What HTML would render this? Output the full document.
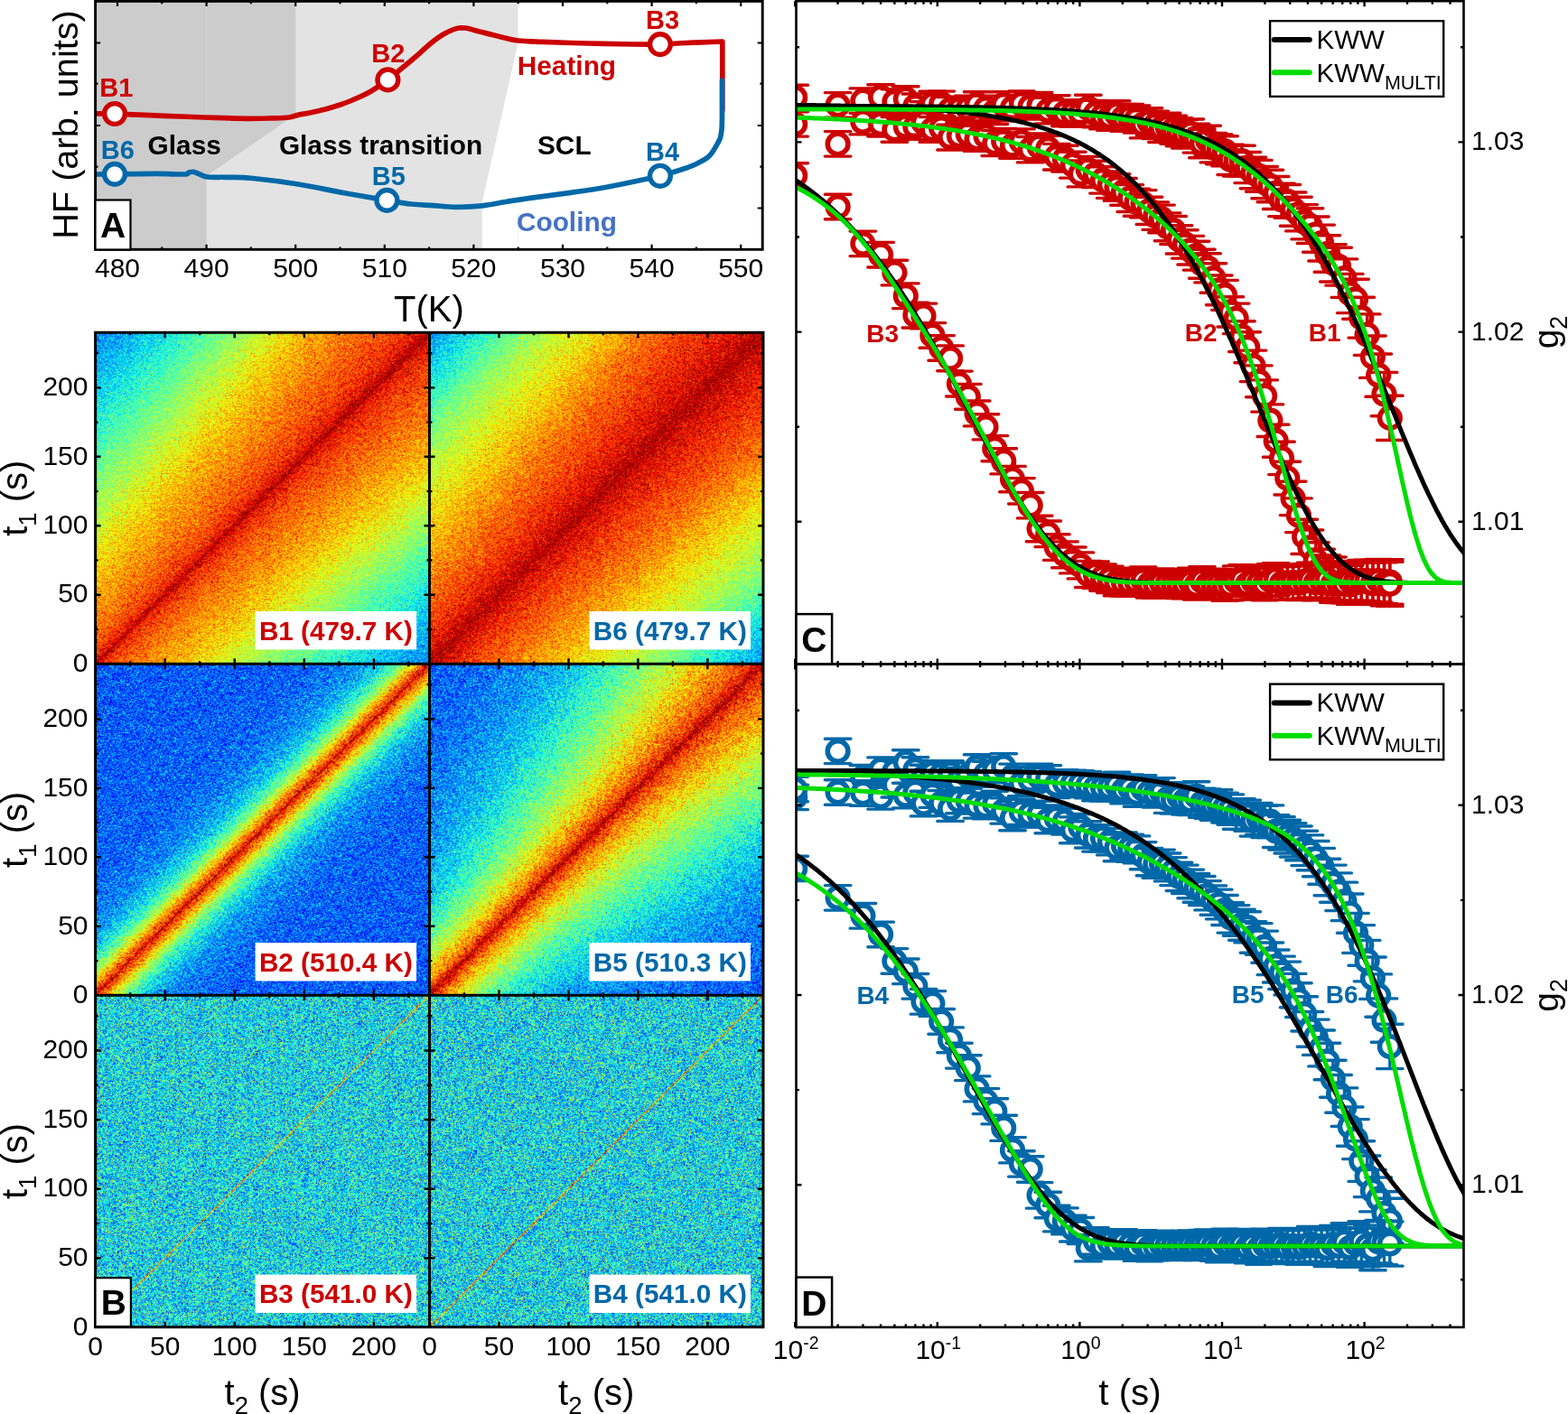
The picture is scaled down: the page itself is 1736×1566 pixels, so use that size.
<!DOCTYPE html><html><head><meta charset="utf-8"><title>Figure</title><style>html,body{margin:0;padding:0;background:#fff;width:1736px;height:1566px;overflow:hidden}svg{display:block}text{font-family:'Liberation Sans', Arial, Helvetica, sans-serif}</style></head><body>
<svg width="1736" height="1566" viewBox="0 0 1736 1566">
<rect width="1736" height="1566" fill="#fff"/>
<polygon points="105.6,0 573.6,0 573.6,47 533.8,224 533.8,276.3 105.6,276.3" fill="#e3e3e3"/>
<polygon points="105.6,0 327.2,0 327.2,127 228.6,194.7 228.6,276.3 105.6,276.3" fill="#cccccc"/>
<line x1="228.6" y1="0" x2="228.6" y2="128" stroke="#d3d3d3" stroke-width="1"/>
<line x1="573.6" y1="226" x2="573.6" y2="276" stroke="#f3f3f3" stroke-width="1"/>
<path d="M130,276.3 v-5.5 M130,1.4 v5.5 M179.3,276.3 v-2.8 M179.3,1.4 v2.8 M228.6,276.3 v-5.5 M228.6,1.4 v5.5 M277.9,276.3 v-2.8 M277.9,1.4 v2.8 M327.2,276.3 v-5.5 M327.2,1.4 v5.5 M376.5,276.3 v-2.8 M376.5,1.4 v2.8 M425.8,276.3 v-5.5 M425.8,1.4 v5.5 M475.1,276.3 v-2.8 M475.1,1.4 v2.8 M524.4,276.3 v-5.5 M524.4,1.4 v5.5 M573.7,276.3 v-2.8 M573.7,1.4 v2.8 M623,276.3 v-5.5 M623,1.4 v5.5 M672.3,276.3 v-2.8 M672.3,1.4 v2.8 M721.6,276.3 v-5.5 M721.6,1.4 v5.5 M770.9,276.3 v-2.8 M770.9,1.4 v2.8 M820.2,276.3 v-5.5 M820.2,1.4 v5.5 M105.6,47.5 h5.5 M844.2,47.5 h-5.5 M105.6,92.7 h2.8 M844.2,92.7 h-2.8 M105.6,139 h5.5 M844.2,139 h-5.5 M105.6,184.7 h2.8 M844.2,184.7 h-2.8 M105.6,230.5 h5.5 M844.2,230.5 h-5.5" stroke="#000" stroke-width="2.2" fill="none"/>
<clipPath id="clipA"><rect x="105.6" y="0" width="738.6" height="276.3"/></clipPath>
<g clip-path="url(#clipA)">
<path d="M105.6,125.8 C109.2,125.9 117.9,125.9 127,126.2 C136.1,126.5 147.8,126.9 160,127.4 C172.2,127.9 187.2,128.5 200,129 C212.8,129.5 224.7,130 237,130.4 C249.3,130.8 263.3,131.2 274,131.3 C284.7,131.4 293.3,131.1 301,130.9 C308.7,130.7 315.3,130.6 320,130 C324.7,129.4 324.8,128.5 329,127.6 C333.2,126.7 339.8,125.6 345,124.5 C350.2,123.4 355,122.3 360,121 C365,119.7 370,118.2 375,116.5 C380,114.8 384.2,113.5 390,111 C395.8,108.5 403.4,105.3 410,101.5 C416.6,97.7 423.6,92.7 429.4,88.4 C435.2,84.1 439.9,79.7 445,75.5 C450.1,71.3 455.8,66.6 460,63 C464.2,59.4 466.7,56.9 470,54 C473.3,51.1 476.7,48.1 480,45.5 C483.3,42.9 486.7,40.5 490,38.5 C493.3,36.5 497,34.8 500,33.5 C503,32.2 505.5,31.4 508,31 C510.5,30.6 512.7,30.8 515,31 C517.3,31.2 519.5,31.9 522,32.5 C524.5,33.1 526.2,33.8 530,34.8 C533.8,35.8 540.5,37.4 545,38.5 C549.5,39.6 552.2,40.4 557,41.5 C561.8,42.6 566.4,44.2 573.6,45 C580.8,45.8 587.3,45.9 600,46.4 C612.7,46.9 633.3,47.6 650,48 C666.7,48.4 686.5,48.8 700,49 C713.5,49.2 721,49.2 731,49 C741,48.8 748.5,48 760,47.5 C771.5,47 793.2,46.2 799.8,46 L799.8,122" stroke="#cc0000" stroke-width="5.7" fill="none" stroke-linejoin="round" stroke-linecap="round"/>
<path d="M105.6,193 C109.2,193 115.8,193 127,192.9 C138.2,192.8 160.2,192.4 173,192.4 C185.8,192.4 198,193.2 204,193 C210,192.8 207.3,191.4 209,191 C210.7,190.6 212.2,190.1 214,190.3 C215.8,190.6 217.4,191.6 220,192.5 C222.6,193.4 224.6,195.4 229.6,196 C234.6,196.6 241.6,196.1 250,196.3 C258.4,196.6 266.7,196.2 280,197.5 C293.3,198.8 313.3,201.3 330,204 C346.7,206.7 363.6,210.5 380,213.5 C396.4,216.5 415.9,219.8 428.4,221.9 C440.9,224 446.4,225.1 455,226 C463.6,226.9 471.7,227 480,227.6 C488.3,228.2 496,229.3 505,229.3 C514,229.3 524.8,228.8 534,227.8 C543.2,226.8 551.5,224.9 560,223.5 C568.5,222.1 573.3,221.2 585,219.6 C596.7,217.9 615.3,215.7 630,213.6 C644.7,211.5 658.5,209.6 673,207 C687.5,204.4 707.3,200 717,198 C726.7,196 723.8,196.8 731,194.8 C738.2,192.8 753.2,188.3 760,186 C766.8,183.7 768.1,182.9 772,181 C775.9,179.1 780.5,176.5 783.2,174.6 C785.9,172.7 786.5,171.4 788,169.5 C789.5,167.6 790.9,165.1 792.1,163 C793.4,160.9 794.5,159 795.5,157 C796.5,155 797.3,153.7 797.9,151 C798.5,148.3 798.9,146.2 799.2,141 C799.5,135.8 799.5,123.5 799.5,120 L799.5,89" stroke="#0068a8" stroke-width="5.7" fill="none" stroke-linejoin="round" stroke-linecap="round"/>
</g>
<circle cx="127" cy="126" r="11.4" fill="#fff" stroke="#cc0000" stroke-width="5.4"/>
<circle cx="429.4" cy="88.4" r="11.4" fill="#fff" stroke="#cc0000" stroke-width="5.4"/>
<circle cx="730.9" cy="49.1" r="11.4" fill="#fff" stroke="#cc0000" stroke-width="5.4"/>
<circle cx="127" cy="192.9" r="11.4" fill="#fff" stroke="#0068a8" stroke-width="5.4"/>
<circle cx="428.4" cy="221.9" r="11.4" fill="#fff" stroke="#0068a8" stroke-width="5.4"/>
<circle cx="730.9" cy="194.8" r="11.4" fill="#fff" stroke="#0068a8" stroke-width="5.4"/>
<text x="128.8" y="106.8" font-size="29" font-weight="bold" fill="#cc0000" text-anchor="middle">B1</text>
<text x="429.8" y="68.9" font-size="29" font-weight="bold" fill="#cc0000" text-anchor="middle">B2</text>
<text x="733.6" y="31.5" font-size="29" font-weight="bold" fill="#cc0000" text-anchor="middle">B3</text>
<text x="733.6" y="177.8" font-size="29" font-weight="bold" fill="#0068a8" text-anchor="middle">B4</text>
<text x="430.3" y="204.5" font-size="29" font-weight="bold" fill="#0068a8" text-anchor="middle">B5</text>
<text x="130.3" y="175.8" font-size="29" font-weight="bold" fill="#0068a8" text-anchor="middle">B6</text>
<text x="204.2" y="171" font-size="29.8" font-weight="bold" fill="#000" text-anchor="middle">Glass</text>
<text x="421.5" y="171.1" font-size="29.8" font-weight="bold" fill="#000" text-anchor="middle">Glass transition</text>
<text x="624.8" y="170.8" font-size="29.8" font-weight="bold" fill="#000" text-anchor="middle">SCL</text>
<text x="627.4" y="83" font-size="29.8" font-weight="bold" fill="#cc0000" text-anchor="middle">Heating</text>
<text x="627.4" y="255.8" font-size="29.8" font-weight="bold" fill="#4472c4" text-anchor="middle">Cooling</text>
<rect x="105.6" y="1.4" width="738.6" height="274.9" fill="none" stroke="#000" stroke-width="2.9"/>
<rect x="105.5" y="221.5" width="39" height="55" fill="#fff" stroke="#000" stroke-width="2.2"/>
<text x="125" y="263" font-size="39" font-weight="bold" text-anchor="middle">A</text>
<text x="130" y="306.8" font-size="30" fill="#000" text-anchor="middle">480</text>
<text x="228.6" y="306.8" font-size="30" fill="#000" text-anchor="middle">490</text>
<text x="327.2" y="306.8" font-size="30" fill="#000" text-anchor="middle">500</text>
<text x="425.8" y="306.8" font-size="30" fill="#000" text-anchor="middle">510</text>
<text x="524.4" y="306.8" font-size="30" fill="#000" text-anchor="middle">520</text>
<text x="623" y="306.8" font-size="30" fill="#000" text-anchor="middle">530</text>
<text x="721.6" y="306.8" font-size="30" fill="#000" text-anchor="middle">540</text>
<text x="820.2" y="306.8" font-size="30" fill="#000" text-anchor="middle">550</text>
<text x="474.9" y="355.8" font-size="40" fill="#000" text-anchor="middle">T(K)</text>
<text transform="translate(86,138) rotate(-90)" font-size="39.7" text-anchor="middle">HF (arb. units)</text>
<defs>
<filter id="jetB1" filterUnits="objectBoundingBox" x="0" y="0" width="1" height="1" color-interpolation-filters="sRGB">
<feTurbulence type="fractalNoise" baseFrequency="3.7" numOctaves="1" seed="3" result="n"/>
<feColorMatrix in="n" type="matrix" values="1 0 0 0 0 1 0 0 0 0 1 0 0 0 0 0 0 0 0 1" result="n0"/>
<feComponentTransfer in="n0" result="n1"><feFuncR type="table" tableValues="0.140 0.147 0.155 0.163 0.171 0.180 0.188 0.197 0.206 0.215 0.224 0.234 0.244 0.254 0.264 0.274 0.285 0.296 0.307 0.319 0.330 0.342 0.354 0.367 0.379 0.393 0.406 0.419 0.433 0.448 0.462 0.477 0.492 0.508 0.524 0.540 0.556 0.573 0.591 0.608 0.627 0.645 0.664 0.683 0.703 0.724 0.744 0.765 0.787 0.809 0.832 0.855 0.879 0.903 0.927 0.953 0.979 1.000 1.000 1.000 1.000 1.000 1.000 1.000 1.000"/><feFuncG type="table" tableValues="0.140 0.147 0.155 0.163 0.171 0.180 0.188 0.197 0.206 0.215 0.224 0.234 0.244 0.254 0.264 0.274 0.285 0.296 0.307 0.319 0.330 0.342 0.354 0.367 0.379 0.393 0.406 0.419 0.433 0.448 0.462 0.477 0.492 0.508 0.524 0.540 0.556 0.573 0.591 0.608 0.627 0.645 0.664 0.683 0.703 0.724 0.744 0.765 0.787 0.809 0.832 0.855 0.879 0.903 0.927 0.953 0.979 1.000 1.000 1.000 1.000 1.000 1.000 1.000 1.000"/><feFuncB type="table" tableValues="0.140 0.147 0.155 0.163 0.171 0.180 0.188 0.197 0.206 0.215 0.224 0.234 0.244 0.254 0.264 0.274 0.285 0.296 0.307 0.319 0.330 0.342 0.354 0.367 0.379 0.393 0.406 0.419 0.433 0.448 0.462 0.477 0.492 0.508 0.524 0.540 0.556 0.573 0.591 0.608 0.627 0.645 0.664 0.683 0.703 0.724 0.744 0.765 0.787 0.809 0.832 0.855 0.879 0.903 0.927 0.953 0.979 1.000 1.000 1.000 1.000 1.000 1.000 1.000 1.000"/></feComponentTransfer>
<feComposite in="SourceGraphic" in2="n1" operator="arithmetic" k1="0" k2="1" k3="0.6132" k4="-0.3066" result="v"/>
<feComponentTransfer in="v" result="c"><feFuncR type="table" tableValues="0.000 0.000 0.000 0.000 0.000 0.000 0.000 0.000 0.000 0.000 0.000 0.000 0.000 0.000 0.000 0.000 0.000 0.000 0.000 0.000 0.000 0.000 0.000 0.030 0.081 0.131 0.181 0.232 0.282 0.333 0.383 0.433 0.484 0.534 0.585 0.635 0.685 0.736 0.786 0.837 0.887 0.937 0.988 1.000 1.000 1.000 1.000 1.000 1.000 1.000 1.000 1.000 1.000 1.000 1.000 1.000 1.000 0.997 0.926 0.855 0.784 0.713 0.642 0.571 0.500"/><feFuncG type="table" tableValues="0.000 0.000 0.000 0.000 0.000 0.000 0.000 0.000 0.000 0.062 0.125 0.188 0.250 0.312 0.375 0.438 0.500 0.562 0.625 0.688 0.750 0.812 0.875 0.938 1.000 1.000 1.000 1.000 1.000 1.000 1.000 1.000 1.000 1.000 1.000 1.000 1.000 1.000 1.000 1.000 1.000 0.998 0.940 0.882 0.824 0.766 0.708 0.650 0.593 0.535 0.477 0.419 0.361 0.303 0.245 0.188 0.130 0.072 0.014 0.000 0.000 0.000 0.000 0.000 0.000"/><feFuncB type="table" tableValues="0.500 0.571 0.642 0.713 0.784 0.855 0.926 0.997 1.000 1.000 1.000 1.000 1.000 1.000 1.000 1.000 1.000 1.000 1.000 1.000 1.000 1.000 0.988 0.938 0.887 0.837 0.786 0.736 0.685 0.635 0.585 0.534 0.484 0.433 0.383 0.333 0.282 0.232 0.181 0.131 0.081 0.030 0.000 0.000 0.000 0.000 0.000 0.000 0.000 0.000 0.000 0.000 0.000 0.000 0.000 0.000 0.000 0.000 0.000 0.000 0.000 0.000 0.000 0.000 0.000"/><feFuncA type="linear" slope="0" intercept="1"/></feComponentTransfer>
<feConvolveMatrix in="c" order="3" kernelMatrix="1 2 1 2 16 2 1 2 1" divisor="28" edgeMode="duplicate" preserveAlpha="true"/>
</filter>
<filter id="jetB6" filterUnits="objectBoundingBox" x="0" y="0" width="1" height="1" color-interpolation-filters="sRGB">
<feTurbulence type="fractalNoise" baseFrequency="3.7" numOctaves="1" seed="4" result="n"/>
<feColorMatrix in="n" type="matrix" values="1 0 0 0 0 1 0 0 0 0 1 0 0 0 0 0 0 0 0 1" result="n0"/>
<feComponentTransfer in="n0" result="n1"><feFuncR type="table" tableValues="0.140 0.147 0.155 0.163 0.171 0.180 0.188 0.197 0.206 0.215 0.224 0.234 0.244 0.254 0.264 0.274 0.285 0.296 0.307 0.319 0.330 0.342 0.354 0.367 0.379 0.393 0.406 0.419 0.433 0.448 0.462 0.477 0.492 0.508 0.524 0.540 0.556 0.573 0.591 0.608 0.627 0.645 0.664 0.683 0.703 0.724 0.744 0.765 0.787 0.809 0.832 0.855 0.879 0.903 0.927 0.953 0.979 1.000 1.000 1.000 1.000 1.000 1.000 1.000 1.000"/><feFuncG type="table" tableValues="0.140 0.147 0.155 0.163 0.171 0.180 0.188 0.197 0.206 0.215 0.224 0.234 0.244 0.254 0.264 0.274 0.285 0.296 0.307 0.319 0.330 0.342 0.354 0.367 0.379 0.393 0.406 0.419 0.433 0.448 0.462 0.477 0.492 0.508 0.524 0.540 0.556 0.573 0.591 0.608 0.627 0.645 0.664 0.683 0.703 0.724 0.744 0.765 0.787 0.809 0.832 0.855 0.879 0.903 0.927 0.953 0.979 1.000 1.000 1.000 1.000 1.000 1.000 1.000 1.000"/><feFuncB type="table" tableValues="0.140 0.147 0.155 0.163 0.171 0.180 0.188 0.197 0.206 0.215 0.224 0.234 0.244 0.254 0.264 0.274 0.285 0.296 0.307 0.319 0.330 0.342 0.354 0.367 0.379 0.393 0.406 0.419 0.433 0.448 0.462 0.477 0.492 0.508 0.524 0.540 0.556 0.573 0.591 0.608 0.627 0.645 0.664 0.683 0.703 0.724 0.744 0.765 0.787 0.809 0.832 0.855 0.879 0.903 0.927 0.953 0.979 1.000 1.000 1.000 1.000 1.000 1.000 1.000 1.000"/></feComponentTransfer>
<feComposite in="SourceGraphic" in2="n1" operator="arithmetic" k1="0" k2="1" k3="0.6132" k4="-0.3066" result="v"/>
<feComponentTransfer in="v" result="c"><feFuncR type="table" tableValues="0.000 0.000 0.000 0.000 0.000 0.000 0.000 0.000 0.000 0.000 0.000 0.000 0.000 0.000 0.000 0.000 0.000 0.000 0.000 0.000 0.000 0.000 0.000 0.030 0.081 0.131 0.181 0.232 0.282 0.333 0.383 0.433 0.484 0.534 0.585 0.635 0.685 0.736 0.786 0.837 0.887 0.937 0.988 1.000 1.000 1.000 1.000 1.000 1.000 1.000 1.000 1.000 1.000 1.000 1.000 1.000 1.000 0.997 0.926 0.855 0.784 0.713 0.642 0.571 0.500"/><feFuncG type="table" tableValues="0.000 0.000 0.000 0.000 0.000 0.000 0.000 0.000 0.000 0.062 0.125 0.188 0.250 0.312 0.375 0.438 0.500 0.562 0.625 0.688 0.750 0.812 0.875 0.938 1.000 1.000 1.000 1.000 1.000 1.000 1.000 1.000 1.000 1.000 1.000 1.000 1.000 1.000 1.000 1.000 1.000 0.998 0.940 0.882 0.824 0.766 0.708 0.650 0.593 0.535 0.477 0.419 0.361 0.303 0.245 0.188 0.130 0.072 0.014 0.000 0.000 0.000 0.000 0.000 0.000"/><feFuncB type="table" tableValues="0.500 0.571 0.642 0.713 0.784 0.855 0.926 0.997 1.000 1.000 1.000 1.000 1.000 1.000 1.000 1.000 1.000 1.000 1.000 1.000 1.000 1.000 0.988 0.938 0.887 0.837 0.786 0.736 0.685 0.635 0.585 0.534 0.484 0.433 0.383 0.333 0.282 0.232 0.181 0.131 0.081 0.030 0.000 0.000 0.000 0.000 0.000 0.000 0.000 0.000 0.000 0.000 0.000 0.000 0.000 0.000 0.000 0.000 0.000 0.000 0.000 0.000 0.000 0.000 0.000"/><feFuncA type="linear" slope="0" intercept="1"/></feComponentTransfer>
<feConvolveMatrix in="c" order="3" kernelMatrix="1 2 1 2 16 2 1 2 1" divisor="28" edgeMode="duplicate" preserveAlpha="true"/>
</filter>
<filter id="jetB2" filterUnits="objectBoundingBox" x="0" y="0" width="1" height="1" color-interpolation-filters="sRGB">
<feTurbulence type="fractalNoise" baseFrequency="3.7" numOctaves="1" seed="5" result="n"/>
<feColorMatrix in="n" type="matrix" values="1 0 0 0 0 1 0 0 0 0 1 0 0 0 0 0 0 0 0 1" result="n0"/>
<feComponentTransfer in="n0" result="n1"><feFuncR type="table" tableValues="0.140 0.147 0.155 0.163 0.171 0.180 0.188 0.197 0.206 0.215 0.224 0.234 0.244 0.254 0.264 0.274 0.285 0.296 0.307 0.319 0.330 0.342 0.354 0.367 0.379 0.393 0.406 0.419 0.433 0.448 0.462 0.477 0.492 0.508 0.524 0.540 0.556 0.573 0.591 0.608 0.627 0.645 0.664 0.683 0.703 0.724 0.744 0.765 0.787 0.809 0.832 0.855 0.879 0.903 0.927 0.953 0.979 1.000 1.000 1.000 1.000 1.000 1.000 1.000 1.000"/><feFuncG type="table" tableValues="0.140 0.147 0.155 0.163 0.171 0.180 0.188 0.197 0.206 0.215 0.224 0.234 0.244 0.254 0.264 0.274 0.285 0.296 0.307 0.319 0.330 0.342 0.354 0.367 0.379 0.393 0.406 0.419 0.433 0.448 0.462 0.477 0.492 0.508 0.524 0.540 0.556 0.573 0.591 0.608 0.627 0.645 0.664 0.683 0.703 0.724 0.744 0.765 0.787 0.809 0.832 0.855 0.879 0.903 0.927 0.953 0.979 1.000 1.000 1.000 1.000 1.000 1.000 1.000 1.000"/><feFuncB type="table" tableValues="0.140 0.147 0.155 0.163 0.171 0.180 0.188 0.197 0.206 0.215 0.224 0.234 0.244 0.254 0.264 0.274 0.285 0.296 0.307 0.319 0.330 0.342 0.354 0.367 0.379 0.393 0.406 0.419 0.433 0.448 0.462 0.477 0.492 0.508 0.524 0.540 0.556 0.573 0.591 0.608 0.627 0.645 0.664 0.683 0.703 0.724 0.744 0.765 0.787 0.809 0.832 0.855 0.879 0.903 0.927 0.953 0.979 1.000 1.000 1.000 1.000 1.000 1.000 1.000 1.000"/></feComponentTransfer>
<feComposite in="SourceGraphic" in2="n1" operator="arithmetic" k1="0" k2="1" k3="0.7547" k4="-0.3774" result="v"/>
<feComponentTransfer in="v" result="c"><feFuncR type="table" tableValues="0.000 0.000 0.000 0.000 0.000 0.000 0.000 0.000 0.000 0.000 0.000 0.000 0.000 0.000 0.000 0.000 0.000 0.000 0.000 0.000 0.000 0.000 0.000 0.030 0.081 0.131 0.181 0.232 0.282 0.333 0.383 0.433 0.484 0.534 0.585 0.635 0.685 0.736 0.786 0.837 0.887 0.937 0.988 1.000 1.000 1.000 1.000 1.000 1.000 1.000 1.000 1.000 1.000 1.000 1.000 1.000 1.000 0.997 0.926 0.855 0.784 0.713 0.642 0.571 0.500"/><feFuncG type="table" tableValues="0.000 0.000 0.000 0.000 0.000 0.000 0.000 0.000 0.000 0.062 0.125 0.188 0.250 0.312 0.375 0.438 0.500 0.562 0.625 0.688 0.750 0.812 0.875 0.938 1.000 1.000 1.000 1.000 1.000 1.000 1.000 1.000 1.000 1.000 1.000 1.000 1.000 1.000 1.000 1.000 1.000 0.998 0.940 0.882 0.824 0.766 0.708 0.650 0.593 0.535 0.477 0.419 0.361 0.303 0.245 0.188 0.130 0.072 0.014 0.000 0.000 0.000 0.000 0.000 0.000"/><feFuncB type="table" tableValues="0.500 0.571 0.642 0.713 0.784 0.855 0.926 0.997 1.000 1.000 1.000 1.000 1.000 1.000 1.000 1.000 1.000 1.000 1.000 1.000 1.000 1.000 0.988 0.938 0.887 0.837 0.786 0.736 0.685 0.635 0.585 0.534 0.484 0.433 0.383 0.333 0.282 0.232 0.181 0.131 0.081 0.030 0.000 0.000 0.000 0.000 0.000 0.000 0.000 0.000 0.000 0.000 0.000 0.000 0.000 0.000 0.000 0.000 0.000 0.000 0.000 0.000 0.000 0.000 0.000"/><feFuncA type="linear" slope="0" intercept="1"/></feComponentTransfer>
<feConvolveMatrix in="c" order="3" kernelMatrix="1 2 1 2 16 2 1 2 1" divisor="28" edgeMode="duplicate" preserveAlpha="true"/>
</filter>
<filter id="jetB5" filterUnits="objectBoundingBox" x="0" y="0" width="1" height="1" color-interpolation-filters="sRGB">
<feTurbulence type="fractalNoise" baseFrequency="3.7" numOctaves="1" seed="6" result="n"/>
<feColorMatrix in="n" type="matrix" values="1 0 0 0 0 1 0 0 0 0 1 0 0 0 0 0 0 0 0 1" result="n0"/>
<feComponentTransfer in="n0" result="n1"><feFuncR type="table" tableValues="0.140 0.147 0.155 0.163 0.171 0.180 0.188 0.197 0.206 0.215 0.224 0.234 0.244 0.254 0.264 0.274 0.285 0.296 0.307 0.319 0.330 0.342 0.354 0.367 0.379 0.393 0.406 0.419 0.433 0.448 0.462 0.477 0.492 0.508 0.524 0.540 0.556 0.573 0.591 0.608 0.627 0.645 0.664 0.683 0.703 0.724 0.744 0.765 0.787 0.809 0.832 0.855 0.879 0.903 0.927 0.953 0.979 1.000 1.000 1.000 1.000 1.000 1.000 1.000 1.000"/><feFuncG type="table" tableValues="0.140 0.147 0.155 0.163 0.171 0.180 0.188 0.197 0.206 0.215 0.224 0.234 0.244 0.254 0.264 0.274 0.285 0.296 0.307 0.319 0.330 0.342 0.354 0.367 0.379 0.393 0.406 0.419 0.433 0.448 0.462 0.477 0.492 0.508 0.524 0.540 0.556 0.573 0.591 0.608 0.627 0.645 0.664 0.683 0.703 0.724 0.744 0.765 0.787 0.809 0.832 0.855 0.879 0.903 0.927 0.953 0.979 1.000 1.000 1.000 1.000 1.000 1.000 1.000 1.000"/><feFuncB type="table" tableValues="0.140 0.147 0.155 0.163 0.171 0.180 0.188 0.197 0.206 0.215 0.224 0.234 0.244 0.254 0.264 0.274 0.285 0.296 0.307 0.319 0.330 0.342 0.354 0.367 0.379 0.393 0.406 0.419 0.433 0.448 0.462 0.477 0.492 0.508 0.524 0.540 0.556 0.573 0.591 0.608 0.627 0.645 0.664 0.683 0.703 0.724 0.744 0.765 0.787 0.809 0.832 0.855 0.879 0.903 0.927 0.953 0.979 1.000 1.000 1.000 1.000 1.000 1.000 1.000 1.000"/></feComponentTransfer>
<feComposite in="SourceGraphic" in2="n1" operator="arithmetic" k1="0" k2="1" k3="0.7547" k4="-0.3774" result="v"/>
<feComponentTransfer in="v" result="c"><feFuncR type="table" tableValues="0.000 0.000 0.000 0.000 0.000 0.000 0.000 0.000 0.000 0.000 0.000 0.000 0.000 0.000 0.000 0.000 0.000 0.000 0.000 0.000 0.000 0.000 0.000 0.030 0.081 0.131 0.181 0.232 0.282 0.333 0.383 0.433 0.484 0.534 0.585 0.635 0.685 0.736 0.786 0.837 0.887 0.937 0.988 1.000 1.000 1.000 1.000 1.000 1.000 1.000 1.000 1.000 1.000 1.000 1.000 1.000 1.000 0.997 0.926 0.855 0.784 0.713 0.642 0.571 0.500"/><feFuncG type="table" tableValues="0.000 0.000 0.000 0.000 0.000 0.000 0.000 0.000 0.000 0.062 0.125 0.188 0.250 0.312 0.375 0.438 0.500 0.562 0.625 0.688 0.750 0.812 0.875 0.938 1.000 1.000 1.000 1.000 1.000 1.000 1.000 1.000 1.000 1.000 1.000 1.000 1.000 1.000 1.000 1.000 1.000 0.998 0.940 0.882 0.824 0.766 0.708 0.650 0.593 0.535 0.477 0.419 0.361 0.303 0.245 0.188 0.130 0.072 0.014 0.000 0.000 0.000 0.000 0.000 0.000"/><feFuncB type="table" tableValues="0.500 0.571 0.642 0.713 0.784 0.855 0.926 0.997 1.000 1.000 1.000 1.000 1.000 1.000 1.000 1.000 1.000 1.000 1.000 1.000 1.000 1.000 0.988 0.938 0.887 0.837 0.786 0.736 0.685 0.635 0.585 0.534 0.484 0.433 0.383 0.333 0.282 0.232 0.181 0.131 0.081 0.030 0.000 0.000 0.000 0.000 0.000 0.000 0.000 0.000 0.000 0.000 0.000 0.000 0.000 0.000 0.000 0.000 0.000 0.000 0.000 0.000 0.000 0.000 0.000"/><feFuncA type="linear" slope="0" intercept="1"/></feComponentTransfer>
<feConvolveMatrix in="c" order="3" kernelMatrix="1 2 1 2 16 2 1 2 1" divisor="28" edgeMode="duplicate" preserveAlpha="true"/>
</filter>
<filter id="jetB3" filterUnits="objectBoundingBox" x="0" y="0" width="1" height="1" color-interpolation-filters="sRGB">
<feTurbulence type="fractalNoise" baseFrequency="3.7" numOctaves="1" seed="7" result="n"/>
<feColorMatrix in="n" type="matrix" values="1 0 0 0 0 1 0 0 0 0 1 0 0 0 0 0 0 0 0 1" result="n0"/>
<feComponentTransfer in="n0" result="n1"><feFuncR type="table" tableValues="0.140 0.147 0.155 0.163 0.171 0.180 0.188 0.197 0.206 0.215 0.224 0.234 0.244 0.254 0.264 0.274 0.285 0.296 0.307 0.319 0.330 0.342 0.354 0.367 0.379 0.393 0.406 0.419 0.433 0.448 0.462 0.477 0.492 0.508 0.524 0.540 0.556 0.573 0.591 0.608 0.627 0.645 0.664 0.683 0.703 0.724 0.744 0.765 0.787 0.809 0.832 0.855 0.879 0.903 0.927 0.953 0.979 1.000 1.000 1.000 1.000 1.000 1.000 1.000 1.000"/><feFuncG type="table" tableValues="0.140 0.147 0.155 0.163 0.171 0.180 0.188 0.197 0.206 0.215 0.224 0.234 0.244 0.254 0.264 0.274 0.285 0.296 0.307 0.319 0.330 0.342 0.354 0.367 0.379 0.393 0.406 0.419 0.433 0.448 0.462 0.477 0.492 0.508 0.524 0.540 0.556 0.573 0.591 0.608 0.627 0.645 0.664 0.683 0.703 0.724 0.744 0.765 0.787 0.809 0.832 0.855 0.879 0.903 0.927 0.953 0.979 1.000 1.000 1.000 1.000 1.000 1.000 1.000 1.000"/><feFuncB type="table" tableValues="0.140 0.147 0.155 0.163 0.171 0.180 0.188 0.197 0.206 0.215 0.224 0.234 0.244 0.254 0.264 0.274 0.285 0.296 0.307 0.319 0.330 0.342 0.354 0.367 0.379 0.393 0.406 0.419 0.433 0.448 0.462 0.477 0.492 0.508 0.524 0.540 0.556 0.573 0.591 0.608 0.627 0.645 0.664 0.683 0.703 0.724 0.744 0.765 0.787 0.809 0.832 0.855 0.879 0.903 0.927 0.953 0.979 1.000 1.000 1.000 1.000 1.000 1.000 1.000 1.000"/></feComponentTransfer>
<feComposite in="SourceGraphic" in2="n1" operator="arithmetic" k1="0" k2="1" k3="1.2264" k4="-0.6132" result="v"/>
<feComponentTransfer in="v" result="c"><feFuncR type="table" tableValues="0.000 0.000 0.000 0.000 0.000 0.000 0.000 0.000 0.000 0.000 0.000 0.000 0.000 0.000 0.000 0.000 0.000 0.000 0.000 0.000 0.000 0.000 0.000 0.030 0.081 0.131 0.181 0.232 0.282 0.333 0.383 0.433 0.484 0.534 0.585 0.635 0.685 0.736 0.786 0.837 0.887 0.937 0.988 1.000 1.000 1.000 1.000 1.000 1.000 1.000 1.000 1.000 1.000 1.000 1.000 1.000 1.000 0.997 0.926 0.855 0.784 0.713 0.642 0.571 0.500"/><feFuncG type="table" tableValues="0.000 0.000 0.000 0.000 0.000 0.000 0.000 0.000 0.000 0.062 0.125 0.188 0.250 0.312 0.375 0.438 0.500 0.562 0.625 0.688 0.750 0.812 0.875 0.938 1.000 1.000 1.000 1.000 1.000 1.000 1.000 1.000 1.000 1.000 1.000 1.000 1.000 1.000 1.000 1.000 1.000 0.998 0.940 0.882 0.824 0.766 0.708 0.650 0.593 0.535 0.477 0.419 0.361 0.303 0.245 0.188 0.130 0.072 0.014 0.000 0.000 0.000 0.000 0.000 0.000"/><feFuncB type="table" tableValues="0.500 0.571 0.642 0.713 0.784 0.855 0.926 0.997 1.000 1.000 1.000 1.000 1.000 1.000 1.000 1.000 1.000 1.000 1.000 1.000 1.000 1.000 0.988 0.938 0.887 0.837 0.786 0.736 0.685 0.635 0.585 0.534 0.484 0.433 0.383 0.333 0.282 0.232 0.181 0.131 0.081 0.030 0.000 0.000 0.000 0.000 0.000 0.000 0.000 0.000 0.000 0.000 0.000 0.000 0.000 0.000 0.000 0.000 0.000 0.000 0.000 0.000 0.000 0.000 0.000"/><feFuncA type="linear" slope="0" intercept="1"/></feComponentTransfer>
<feConvolveMatrix in="c" order="3" kernelMatrix="1 2 1 2 16 2 1 2 1" divisor="28" edgeMode="duplicate" preserveAlpha="true"/>
</filter>
<filter id="jetB4" filterUnits="objectBoundingBox" x="0" y="0" width="1" height="1" color-interpolation-filters="sRGB">
<feTurbulence type="fractalNoise" baseFrequency="3.7" numOctaves="1" seed="8" result="n"/>
<feColorMatrix in="n" type="matrix" values="1 0 0 0 0 1 0 0 0 0 1 0 0 0 0 0 0 0 0 1" result="n0"/>
<feComponentTransfer in="n0" result="n1"><feFuncR type="table" tableValues="0.140 0.147 0.155 0.163 0.171 0.180 0.188 0.197 0.206 0.215 0.224 0.234 0.244 0.254 0.264 0.274 0.285 0.296 0.307 0.319 0.330 0.342 0.354 0.367 0.379 0.393 0.406 0.419 0.433 0.448 0.462 0.477 0.492 0.508 0.524 0.540 0.556 0.573 0.591 0.608 0.627 0.645 0.664 0.683 0.703 0.724 0.744 0.765 0.787 0.809 0.832 0.855 0.879 0.903 0.927 0.953 0.979 1.000 1.000 1.000 1.000 1.000 1.000 1.000 1.000"/><feFuncG type="table" tableValues="0.140 0.147 0.155 0.163 0.171 0.180 0.188 0.197 0.206 0.215 0.224 0.234 0.244 0.254 0.264 0.274 0.285 0.296 0.307 0.319 0.330 0.342 0.354 0.367 0.379 0.393 0.406 0.419 0.433 0.448 0.462 0.477 0.492 0.508 0.524 0.540 0.556 0.573 0.591 0.608 0.627 0.645 0.664 0.683 0.703 0.724 0.744 0.765 0.787 0.809 0.832 0.855 0.879 0.903 0.927 0.953 0.979 1.000 1.000 1.000 1.000 1.000 1.000 1.000 1.000"/><feFuncB type="table" tableValues="0.140 0.147 0.155 0.163 0.171 0.180 0.188 0.197 0.206 0.215 0.224 0.234 0.244 0.254 0.264 0.274 0.285 0.296 0.307 0.319 0.330 0.342 0.354 0.367 0.379 0.393 0.406 0.419 0.433 0.448 0.462 0.477 0.492 0.508 0.524 0.540 0.556 0.573 0.591 0.608 0.627 0.645 0.664 0.683 0.703 0.724 0.744 0.765 0.787 0.809 0.832 0.855 0.879 0.903 0.927 0.953 0.979 1.000 1.000 1.000 1.000 1.000 1.000 1.000 1.000"/></feComponentTransfer>
<feComposite in="SourceGraphic" in2="n1" operator="arithmetic" k1="0" k2="1" k3="1.2264" k4="-0.6132" result="v"/>
<feComponentTransfer in="v" result="c"><feFuncR type="table" tableValues="0.000 0.000 0.000 0.000 0.000 0.000 0.000 0.000 0.000 0.000 0.000 0.000 0.000 0.000 0.000 0.000 0.000 0.000 0.000 0.000 0.000 0.000 0.000 0.030 0.081 0.131 0.181 0.232 0.282 0.333 0.383 0.433 0.484 0.534 0.585 0.635 0.685 0.736 0.786 0.837 0.887 0.937 0.988 1.000 1.000 1.000 1.000 1.000 1.000 1.000 1.000 1.000 1.000 1.000 1.000 1.000 1.000 0.997 0.926 0.855 0.784 0.713 0.642 0.571 0.500"/><feFuncG type="table" tableValues="0.000 0.000 0.000 0.000 0.000 0.000 0.000 0.000 0.000 0.062 0.125 0.188 0.250 0.312 0.375 0.438 0.500 0.562 0.625 0.688 0.750 0.812 0.875 0.938 1.000 1.000 1.000 1.000 1.000 1.000 1.000 1.000 1.000 1.000 1.000 1.000 1.000 1.000 1.000 1.000 1.000 0.998 0.940 0.882 0.824 0.766 0.708 0.650 0.593 0.535 0.477 0.419 0.361 0.303 0.245 0.188 0.130 0.072 0.014 0.000 0.000 0.000 0.000 0.000 0.000"/><feFuncB type="table" tableValues="0.500 0.571 0.642 0.713 0.784 0.855 0.926 0.997 1.000 1.000 1.000 1.000 1.000 1.000 1.000 1.000 1.000 1.000 1.000 1.000 1.000 1.000 0.988 0.938 0.887 0.837 0.786 0.736 0.685 0.635 0.585 0.534 0.484 0.433 0.383 0.333 0.282 0.232 0.181 0.131 0.081 0.030 0.000 0.000 0.000 0.000 0.000 0.000 0.000 0.000 0.000 0.000 0.000 0.000 0.000 0.000 0.000 0.000 0.000 0.000 0.000 0.000 0.000 0.000 0.000"/><feFuncA type="linear" slope="0" intercept="1"/></feComponentTransfer>
<feConvolveMatrix in="c" order="3" kernelMatrix="1 2 1 2 16 2 1 2 1" divisor="28" edgeMode="duplicate" preserveAlpha="true"/>
</filter>
<linearGradient id="gB1" x1="0" y1="0" x2="1" y2="1">
<stop offset="0.0000" stop-color="rgb(64,64,64)"/>
<stop offset="0.0083" stop-color="rgb(66,66,66)"/>
<stop offset="0.0167" stop-color="rgb(68,68,68)"/>
<stop offset="0.0250" stop-color="rgb(70,70,70)"/>
<stop offset="0.0333" stop-color="rgb(72,72,72)"/>
<stop offset="0.0417" stop-color="rgb(74,74,74)"/>
<stop offset="0.0500" stop-color="rgb(76,76,76)"/>
<stop offset="0.0583" stop-color="rgb(78,78,78)"/>
<stop offset="0.0667" stop-color="rgb(79,79,79)"/>
<stop offset="0.0750" stop-color="rgb(81,81,81)"/>
<stop offset="0.0833" stop-color="rgb(83,83,83)"/>
<stop offset="0.0917" stop-color="rgb(85,85,85)"/>
<stop offset="0.1000" stop-color="rgb(86,86,86)"/>
<stop offset="0.1083" stop-color="rgb(88,88,88)"/>
<stop offset="0.1167" stop-color="rgb(90,90,90)"/>
<stop offset="0.1250" stop-color="rgb(92,92,92)"/>
<stop offset="0.1333" stop-color="rgb(94,94,94)"/>
<stop offset="0.1417" stop-color="rgb(96,96,96)"/>
<stop offset="0.1500" stop-color="rgb(98,98,98)"/>
<stop offset="0.1583" stop-color="rgb(100,100,100)"/>
<stop offset="0.1667" stop-color="rgb(102,102,102)"/>
<stop offset="0.1750" stop-color="rgb(104,104,104)"/>
<stop offset="0.1833" stop-color="rgb(107,107,107)"/>
<stop offset="0.1917" stop-color="rgb(110,110,110)"/>
<stop offset="0.2000" stop-color="rgb(112,112,112)"/>
<stop offset="0.2083" stop-color="rgb(115,115,115)"/>
<stop offset="0.2167" stop-color="rgb(118,118,118)"/>
<stop offset="0.2250" stop-color="rgb(121,121,121)"/>
<stop offset="0.2333" stop-color="rgb(124,124,124)"/>
<stop offset="0.2417" stop-color="rgb(127,127,127)"/>
<stop offset="0.2500" stop-color="rgb(131,131,131)"/>
<stop offset="0.2583" stop-color="rgb(134,134,134)"/>
<stop offset="0.2667" stop-color="rgb(137,137,137)"/>
<stop offset="0.2750" stop-color="rgb(140,140,140)"/>
<stop offset="0.2833" stop-color="rgb(144,144,144)"/>
<stop offset="0.2917" stop-color="rgb(147,147,147)"/>
<stop offset="0.3000" stop-color="rgb(151,151,151)"/>
<stop offset="0.3083" stop-color="rgb(155,155,155)"/>
<stop offset="0.3167" stop-color="rgb(158,158,158)"/>
<stop offset="0.3250" stop-color="rgb(162,162,162)"/>
<stop offset="0.3333" stop-color="rgb(166,166,166)"/>
<stop offset="0.3417" stop-color="rgb(169,169,169)"/>
<stop offset="0.3500" stop-color="rgb(171,171,171)"/>
<stop offset="0.3583" stop-color="rgb(174,174,174)"/>
<stop offset="0.3667" stop-color="rgb(177,177,177)"/>
<stop offset="0.3750" stop-color="rgb(180,180,180)"/>
<stop offset="0.3833" stop-color="rgb(183,183,183)"/>
<stop offset="0.3917" stop-color="rgb(185,185,185)"/>
<stop offset="0.4000" stop-color="rgb(188,188,188)"/>
<stop offset="0.4083" stop-color="rgb(190,190,190)"/>
<stop offset="0.4167" stop-color="rgb(193,193,193)"/>
<stop offset="0.4250" stop-color="rgb(195,195,195)"/>
<stop offset="0.4333" stop-color="rgb(198,198,198)"/>
<stop offset="0.4417" stop-color="rgb(201,201,201)"/>
<stop offset="0.4500" stop-color="rgb(204,204,204)"/>
<stop offset="0.4583" stop-color="rgb(207,207,207)"/>
<stop offset="0.4667" stop-color="rgb(211,211,211)"/>
<stop offset="0.4750" stop-color="rgb(214,214,214)"/>
<stop offset="0.4833" stop-color="rgb(221,221,221)"/>
<stop offset="0.4917" stop-color="rgb(227,227,227)"/>
<stop offset="0.5000" stop-color="rgb(245,245,245)"/>
<stop offset="0.5083" stop-color="rgb(227,227,227)"/>
<stop offset="0.5167" stop-color="rgb(221,221,221)"/>
<stop offset="0.5250" stop-color="rgb(214,214,214)"/>
<stop offset="0.5333" stop-color="rgb(211,211,211)"/>
<stop offset="0.5417" stop-color="rgb(207,207,207)"/>
<stop offset="0.5500" stop-color="rgb(204,204,204)"/>
<stop offset="0.5583" stop-color="rgb(201,201,201)"/>
<stop offset="0.5667" stop-color="rgb(198,198,198)"/>
<stop offset="0.5750" stop-color="rgb(195,195,195)"/>
<stop offset="0.5833" stop-color="rgb(193,193,193)"/>
<stop offset="0.5917" stop-color="rgb(190,190,190)"/>
<stop offset="0.6000" stop-color="rgb(188,188,188)"/>
<stop offset="0.6083" stop-color="rgb(185,185,185)"/>
<stop offset="0.6167" stop-color="rgb(183,183,183)"/>
<stop offset="0.6250" stop-color="rgb(180,180,180)"/>
<stop offset="0.6333" stop-color="rgb(177,177,177)"/>
<stop offset="0.6417" stop-color="rgb(174,174,174)"/>
<stop offset="0.6500" stop-color="rgb(171,171,171)"/>
<stop offset="0.6583" stop-color="rgb(169,169,169)"/>
<stop offset="0.6667" stop-color="rgb(166,166,166)"/>
<stop offset="0.6750" stop-color="rgb(162,162,162)"/>
<stop offset="0.6833" stop-color="rgb(158,158,158)"/>
<stop offset="0.6917" stop-color="rgb(155,155,155)"/>
<stop offset="0.7000" stop-color="rgb(151,151,151)"/>
<stop offset="0.7083" stop-color="rgb(147,147,147)"/>
<stop offset="0.7167" stop-color="rgb(144,144,144)"/>
<stop offset="0.7250" stop-color="rgb(140,140,140)"/>
<stop offset="0.7333" stop-color="rgb(137,137,137)"/>
<stop offset="0.7417" stop-color="rgb(134,134,134)"/>
<stop offset="0.7500" stop-color="rgb(131,131,131)"/>
<stop offset="0.7583" stop-color="rgb(127,127,127)"/>
<stop offset="0.7667" stop-color="rgb(124,124,124)"/>
<stop offset="0.7750" stop-color="rgb(121,121,121)"/>
<stop offset="0.7833" stop-color="rgb(118,118,118)"/>
<stop offset="0.7917" stop-color="rgb(115,115,115)"/>
<stop offset="0.8000" stop-color="rgb(112,112,112)"/>
<stop offset="0.8083" stop-color="rgb(110,110,110)"/>
<stop offset="0.8167" stop-color="rgb(107,107,107)"/>
<stop offset="0.8250" stop-color="rgb(104,104,104)"/>
<stop offset="0.8333" stop-color="rgb(102,102,102)"/>
<stop offset="0.8417" stop-color="rgb(100,100,100)"/>
<stop offset="0.8500" stop-color="rgb(98,98,98)"/>
<stop offset="0.8583" stop-color="rgb(96,96,96)"/>
<stop offset="0.8667" stop-color="rgb(94,94,94)"/>
<stop offset="0.8750" stop-color="rgb(92,92,92)"/>
<stop offset="0.8833" stop-color="rgb(90,90,90)"/>
<stop offset="0.8917" stop-color="rgb(88,88,88)"/>
<stop offset="0.9000" stop-color="rgb(86,86,86)"/>
<stop offset="0.9083" stop-color="rgb(85,85,85)"/>
<stop offset="0.9167" stop-color="rgb(83,83,83)"/>
<stop offset="0.9250" stop-color="rgb(81,81,81)"/>
<stop offset="0.9333" stop-color="rgb(79,79,79)"/>
<stop offset="0.9417" stop-color="rgb(78,78,78)"/>
<stop offset="0.9500" stop-color="rgb(76,76,76)"/>
<stop offset="0.9583" stop-color="rgb(74,74,74)"/>
<stop offset="0.9667" stop-color="rgb(72,72,72)"/>
<stop offset="0.9750" stop-color="rgb(70,70,70)"/>
<stop offset="0.9833" stop-color="rgb(68,68,68)"/>
<stop offset="0.9917" stop-color="rgb(66,66,66)"/>
<stop offset="1.0000" stop-color="rgb(64,64,64)"/>
</linearGradient>
<linearGradient id="gB1w" x1="0" y1="0" x2="1" y2="1">
<stop offset="0.0000" stop-color="rgb(66,66,66)"/>
<stop offset="0.0083" stop-color="rgb(68,68,68)"/>
<stop offset="0.0167" stop-color="rgb(70,70,70)"/>
<stop offset="0.0250" stop-color="rgb(72,72,72)"/>
<stop offset="0.0333" stop-color="rgb(74,74,74)"/>
<stop offset="0.0417" stop-color="rgb(76,76,76)"/>
<stop offset="0.0500" stop-color="rgb(79,79,79)"/>
<stop offset="0.0583" stop-color="rgb(82,82,82)"/>
<stop offset="0.0667" stop-color="rgb(84,84,84)"/>
<stop offset="0.0750" stop-color="rgb(87,87,87)"/>
<stop offset="0.0833" stop-color="rgb(89,89,89)"/>
<stop offset="0.0917" stop-color="rgb(92,92,92)"/>
<stop offset="0.1000" stop-color="rgb(94,94,94)"/>
<stop offset="0.1083" stop-color="rgb(98,98,98)"/>
<stop offset="0.1167" stop-color="rgb(101,101,101)"/>
<stop offset="0.1250" stop-color="rgb(105,105,105)"/>
<stop offset="0.1333" stop-color="rgb(108,108,108)"/>
<stop offset="0.1417" stop-color="rgb(111,111,111)"/>
<stop offset="0.1500" stop-color="rgb(115,115,115)"/>
<stop offset="0.1583" stop-color="rgb(118,118,118)"/>
<stop offset="0.1667" stop-color="rgb(122,122,122)"/>
<stop offset="0.1750" stop-color="rgb(126,126,126)"/>
<stop offset="0.1833" stop-color="rgb(129,129,129)"/>
<stop offset="0.1917" stop-color="rgb(133,133,133)"/>
<stop offset="0.2000" stop-color="rgb(137,137,137)"/>
<stop offset="0.2083" stop-color="rgb(141,141,141)"/>
<stop offset="0.2167" stop-color="rgb(144,144,144)"/>
<stop offset="0.2250" stop-color="rgb(148,148,148)"/>
<stop offset="0.2333" stop-color="rgb(152,152,152)"/>
<stop offset="0.2417" stop-color="rgb(155,155,155)"/>
<stop offset="0.2500" stop-color="rgb(159,159,159)"/>
<stop offset="0.2583" stop-color="rgb(162,162,162)"/>
<stop offset="0.2667" stop-color="rgb(166,166,166)"/>
<stop offset="0.2750" stop-color="rgb(169,169,169)"/>
<stop offset="0.2833" stop-color="rgb(172,172,172)"/>
<stop offset="0.2917" stop-color="rgb(175,175,175)"/>
<stop offset="0.3000" stop-color="rgb(178,178,178)"/>
<stop offset="0.3083" stop-color="rgb(181,181,181)"/>
<stop offset="0.3167" stop-color="rgb(183,183,183)"/>
<stop offset="0.3250" stop-color="rgb(186,186,186)"/>
<stop offset="0.3333" stop-color="rgb(188,188,188)"/>
<stop offset="0.3417" stop-color="rgb(190,190,190)"/>
<stop offset="0.3500" stop-color="rgb(193,193,193)"/>
<stop offset="0.3583" stop-color="rgb(195,195,195)"/>
<stop offset="0.3667" stop-color="rgb(197,197,197)"/>
<stop offset="0.3750" stop-color="rgb(199,199,199)"/>
<stop offset="0.3833" stop-color="rgb(201,201,201)"/>
<stop offset="0.3917" stop-color="rgb(203,203,203)"/>
<stop offset="0.4000" stop-color="rgb(205,205,205)"/>
<stop offset="0.4083" stop-color="rgb(207,207,207)"/>
<stop offset="0.4167" stop-color="rgb(209,209,209)"/>
<stop offset="0.4250" stop-color="rgb(211,211,211)"/>
<stop offset="0.4333" stop-color="rgb(213,213,213)"/>
<stop offset="0.4417" stop-color="rgb(215,215,215)"/>
<stop offset="0.4500" stop-color="rgb(217,217,217)"/>
<stop offset="0.4583" stop-color="rgb(219,219,219)"/>
<stop offset="0.4667" stop-color="rgb(223,223,223)"/>
<stop offset="0.4750" stop-color="rgb(227,227,227)"/>
<stop offset="0.4833" stop-color="rgb(230,230,230)"/>
<stop offset="0.4917" stop-color="rgb(238,238,238)"/>
<stop offset="0.5000" stop-color="rgb(250,250,250)"/>
<stop offset="0.5083" stop-color="rgb(238,238,238)"/>
<stop offset="0.5167" stop-color="rgb(230,230,230)"/>
<stop offset="0.5250" stop-color="rgb(227,227,227)"/>
<stop offset="0.5333" stop-color="rgb(223,223,223)"/>
<stop offset="0.5417" stop-color="rgb(219,219,219)"/>
<stop offset="0.5500" stop-color="rgb(217,217,217)"/>
<stop offset="0.5583" stop-color="rgb(215,215,215)"/>
<stop offset="0.5667" stop-color="rgb(213,213,213)"/>
<stop offset="0.5750" stop-color="rgb(211,211,211)"/>
<stop offset="0.5833" stop-color="rgb(209,209,209)"/>
<stop offset="0.5917" stop-color="rgb(207,207,207)"/>
<stop offset="0.6000" stop-color="rgb(205,205,205)"/>
<stop offset="0.6083" stop-color="rgb(203,203,203)"/>
<stop offset="0.6167" stop-color="rgb(201,201,201)"/>
<stop offset="0.6250" stop-color="rgb(199,199,199)"/>
<stop offset="0.6333" stop-color="rgb(197,197,197)"/>
<stop offset="0.6417" stop-color="rgb(195,195,195)"/>
<stop offset="0.6500" stop-color="rgb(193,193,193)"/>
<stop offset="0.6583" stop-color="rgb(190,190,190)"/>
<stop offset="0.6667" stop-color="rgb(188,188,188)"/>
<stop offset="0.6750" stop-color="rgb(186,186,186)"/>
<stop offset="0.6833" stop-color="rgb(183,183,183)"/>
<stop offset="0.6917" stop-color="rgb(181,181,181)"/>
<stop offset="0.7000" stop-color="rgb(178,178,178)"/>
<stop offset="0.7083" stop-color="rgb(175,175,175)"/>
<stop offset="0.7167" stop-color="rgb(172,172,172)"/>
<stop offset="0.7250" stop-color="rgb(169,169,169)"/>
<stop offset="0.7333" stop-color="rgb(166,166,166)"/>
<stop offset="0.7417" stop-color="rgb(162,162,162)"/>
<stop offset="0.7500" stop-color="rgb(159,159,159)"/>
<stop offset="0.7583" stop-color="rgb(155,155,155)"/>
<stop offset="0.7667" stop-color="rgb(152,152,152)"/>
<stop offset="0.7750" stop-color="rgb(148,148,148)"/>
<stop offset="0.7833" stop-color="rgb(144,144,144)"/>
<stop offset="0.7917" stop-color="rgb(141,141,141)"/>
<stop offset="0.8000" stop-color="rgb(137,137,137)"/>
<stop offset="0.8083" stop-color="rgb(133,133,133)"/>
<stop offset="0.8167" stop-color="rgb(129,129,129)"/>
<stop offset="0.8250" stop-color="rgb(126,126,126)"/>
<stop offset="0.8333" stop-color="rgb(122,122,122)"/>
<stop offset="0.8417" stop-color="rgb(118,118,118)"/>
<stop offset="0.8500" stop-color="rgb(115,115,115)"/>
<stop offset="0.8583" stop-color="rgb(111,111,111)"/>
<stop offset="0.8667" stop-color="rgb(108,108,108)"/>
<stop offset="0.8750" stop-color="rgb(105,105,105)"/>
<stop offset="0.8833" stop-color="rgb(101,101,101)"/>
<stop offset="0.8917" stop-color="rgb(98,98,98)"/>
<stop offset="0.9000" stop-color="rgb(94,94,94)"/>
<stop offset="0.9083" stop-color="rgb(92,92,92)"/>
<stop offset="0.9167" stop-color="rgb(89,89,89)"/>
<stop offset="0.9250" stop-color="rgb(87,87,87)"/>
<stop offset="0.9333" stop-color="rgb(84,84,84)"/>
<stop offset="0.9417" stop-color="rgb(82,82,82)"/>
<stop offset="0.9500" stop-color="rgb(79,79,79)"/>
<stop offset="0.9583" stop-color="rgb(76,76,76)"/>
<stop offset="0.9667" stop-color="rgb(74,74,74)"/>
<stop offset="0.9750" stop-color="rgb(72,72,72)"/>
<stop offset="0.9833" stop-color="rgb(70,70,70)"/>
<stop offset="0.9917" stop-color="rgb(68,68,68)"/>
<stop offset="1.0000" stop-color="rgb(66,66,66)"/>
</linearGradient>
<linearGradient id="gB6" x1="0" y1="0" x2="1" y2="1">
<stop offset="0.0000" stop-color="rgb(66,66,66)"/>
<stop offset="0.0083" stop-color="rgb(69,69,69)"/>
<stop offset="0.0167" stop-color="rgb(72,72,72)"/>
<stop offset="0.0250" stop-color="rgb(75,75,75)"/>
<stop offset="0.0333" stop-color="rgb(78,78,78)"/>
<stop offset="0.0417" stop-color="rgb(80,80,80)"/>
<stop offset="0.0500" stop-color="rgb(83,83,83)"/>
<stop offset="0.0583" stop-color="rgb(86,86,86)"/>
<stop offset="0.0667" stop-color="rgb(89,89,89)"/>
<stop offset="0.0750" stop-color="rgb(92,92,92)"/>
<stop offset="0.0833" stop-color="rgb(94,94,94)"/>
<stop offset="0.0917" stop-color="rgb(98,98,98)"/>
<stop offset="0.1000" stop-color="rgb(101,101,101)"/>
<stop offset="0.1083" stop-color="rgb(104,104,104)"/>
<stop offset="0.1167" stop-color="rgb(107,107,107)"/>
<stop offset="0.1250" stop-color="rgb(111,111,111)"/>
<stop offset="0.1333" stop-color="rgb(114,114,114)"/>
<stop offset="0.1417" stop-color="rgb(118,118,118)"/>
<stop offset="0.1500" stop-color="rgb(121,121,121)"/>
<stop offset="0.1583" stop-color="rgb(125,125,125)"/>
<stop offset="0.1667" stop-color="rgb(129,129,129)"/>
<stop offset="0.1750" stop-color="rgb(132,132,132)"/>
<stop offset="0.1833" stop-color="rgb(136,136,136)"/>
<stop offset="0.1917" stop-color="rgb(139,139,139)"/>
<stop offset="0.2000" stop-color="rgb(142,142,142)"/>
<stop offset="0.2083" stop-color="rgb(145,145,145)"/>
<stop offset="0.2167" stop-color="rgb(148,148,148)"/>
<stop offset="0.2250" stop-color="rgb(151,151,151)"/>
<stop offset="0.2333" stop-color="rgb(155,155,155)"/>
<stop offset="0.2417" stop-color="rgb(158,158,158)"/>
<stop offset="0.2500" stop-color="rgb(161,161,161)"/>
<stop offset="0.2583" stop-color="rgb(163,163,163)"/>
<stop offset="0.2667" stop-color="rgb(166,166,166)"/>
<stop offset="0.2750" stop-color="rgb(168,168,168)"/>
<stop offset="0.2833" stop-color="rgb(170,170,170)"/>
<stop offset="0.2917" stop-color="rgb(173,173,173)"/>
<stop offset="0.3000" stop-color="rgb(175,175,175)"/>
<stop offset="0.3083" stop-color="rgb(178,178,178)"/>
<stop offset="0.3167" stop-color="rgb(180,180,180)"/>
<stop offset="0.3250" stop-color="rgb(183,183,183)"/>
<stop offset="0.3333" stop-color="rgb(185,185,185)"/>
<stop offset="0.3417" stop-color="rgb(188,188,188)"/>
<stop offset="0.3500" stop-color="rgb(190,190,190)"/>
<stop offset="0.3583" stop-color="rgb(192,192,192)"/>
<stop offset="0.3667" stop-color="rgb(195,195,195)"/>
<stop offset="0.3750" stop-color="rgb(197,197,197)"/>
<stop offset="0.3833" stop-color="rgb(200,200,200)"/>
<stop offset="0.3917" stop-color="rgb(202,202,202)"/>
<stop offset="0.4000" stop-color="rgb(204,204,204)"/>
<stop offset="0.4083" stop-color="rgb(207,207,207)"/>
<stop offset="0.4167" stop-color="rgb(209,209,209)"/>
<stop offset="0.4250" stop-color="rgb(212,212,212)"/>
<stop offset="0.4333" stop-color="rgb(215,215,215)"/>
<stop offset="0.4417" stop-color="rgb(218,218,218)"/>
<stop offset="0.4500" stop-color="rgb(221,221,221)"/>
<stop offset="0.4583" stop-color="rgb(224,224,224)"/>
<stop offset="0.4667" stop-color="rgb(228,228,228)"/>
<stop offset="0.4750" stop-color="rgb(232,232,232)"/>
<stop offset="0.4833" stop-color="rgb(235,235,235)"/>
<stop offset="0.4917" stop-color="rgb(241,241,241)"/>
<stop offset="0.5000" stop-color="rgb(247,247,247)"/>
<stop offset="0.5083" stop-color="rgb(241,241,241)"/>
<stop offset="0.5167" stop-color="rgb(235,235,235)"/>
<stop offset="0.5250" stop-color="rgb(232,232,232)"/>
<stop offset="0.5333" stop-color="rgb(228,228,228)"/>
<stop offset="0.5417" stop-color="rgb(224,224,224)"/>
<stop offset="0.5500" stop-color="rgb(221,221,221)"/>
<stop offset="0.5583" stop-color="rgb(218,218,218)"/>
<stop offset="0.5667" stop-color="rgb(215,215,215)"/>
<stop offset="0.5750" stop-color="rgb(212,212,212)"/>
<stop offset="0.5833" stop-color="rgb(209,209,209)"/>
<stop offset="0.5917" stop-color="rgb(207,207,207)"/>
<stop offset="0.6000" stop-color="rgb(204,204,204)"/>
<stop offset="0.6083" stop-color="rgb(202,202,202)"/>
<stop offset="0.6167" stop-color="rgb(200,200,200)"/>
<stop offset="0.6250" stop-color="rgb(197,197,197)"/>
<stop offset="0.6333" stop-color="rgb(195,195,195)"/>
<stop offset="0.6417" stop-color="rgb(192,192,192)"/>
<stop offset="0.6500" stop-color="rgb(190,190,190)"/>
<stop offset="0.6583" stop-color="rgb(188,188,188)"/>
<stop offset="0.6667" stop-color="rgb(185,185,185)"/>
<stop offset="0.6750" stop-color="rgb(183,183,183)"/>
<stop offset="0.6833" stop-color="rgb(180,180,180)"/>
<stop offset="0.6917" stop-color="rgb(178,178,178)"/>
<stop offset="0.7000" stop-color="rgb(175,175,175)"/>
<stop offset="0.7083" stop-color="rgb(173,173,173)"/>
<stop offset="0.7167" stop-color="rgb(170,170,170)"/>
<stop offset="0.7250" stop-color="rgb(168,168,168)"/>
<stop offset="0.7333" stop-color="rgb(166,166,166)"/>
<stop offset="0.7417" stop-color="rgb(163,163,163)"/>
<stop offset="0.7500" stop-color="rgb(161,161,161)"/>
<stop offset="0.7583" stop-color="rgb(158,158,158)"/>
<stop offset="0.7667" stop-color="rgb(155,155,155)"/>
<stop offset="0.7750" stop-color="rgb(151,151,151)"/>
<stop offset="0.7833" stop-color="rgb(148,148,148)"/>
<stop offset="0.7917" stop-color="rgb(145,145,145)"/>
<stop offset="0.8000" stop-color="rgb(142,142,142)"/>
<stop offset="0.8083" stop-color="rgb(139,139,139)"/>
<stop offset="0.8167" stop-color="rgb(136,136,136)"/>
<stop offset="0.8250" stop-color="rgb(132,132,132)"/>
<stop offset="0.8333" stop-color="rgb(129,129,129)"/>
<stop offset="0.8417" stop-color="rgb(125,125,125)"/>
<stop offset="0.8500" stop-color="rgb(121,121,121)"/>
<stop offset="0.8583" stop-color="rgb(118,118,118)"/>
<stop offset="0.8667" stop-color="rgb(114,114,114)"/>
<stop offset="0.8750" stop-color="rgb(111,111,111)"/>
<stop offset="0.8833" stop-color="rgb(107,107,107)"/>
<stop offset="0.8917" stop-color="rgb(104,104,104)"/>
<stop offset="0.9000" stop-color="rgb(101,101,101)"/>
<stop offset="0.9083" stop-color="rgb(98,98,98)"/>
<stop offset="0.9167" stop-color="rgb(94,94,94)"/>
<stop offset="0.9250" stop-color="rgb(92,92,92)"/>
<stop offset="0.9333" stop-color="rgb(89,89,89)"/>
<stop offset="0.9417" stop-color="rgb(86,86,86)"/>
<stop offset="0.9500" stop-color="rgb(83,83,83)"/>
<stop offset="0.9583" stop-color="rgb(80,80,80)"/>
<stop offset="0.9667" stop-color="rgb(78,78,78)"/>
<stop offset="0.9750" stop-color="rgb(75,75,75)"/>
<stop offset="0.9833" stop-color="rgb(72,72,72)"/>
<stop offset="0.9917" stop-color="rgb(69,69,69)"/>
<stop offset="1.0000" stop-color="rgb(66,66,66)"/>
</linearGradient>
<linearGradient id="gB6w" x1="0" y1="0" x2="1" y2="1">
<stop offset="0.0000" stop-color="rgb(69,69,69)"/>
<stop offset="0.0083" stop-color="rgb(72,72,72)"/>
<stop offset="0.0167" stop-color="rgb(76,76,76)"/>
<stop offset="0.0250" stop-color="rgb(80,80,80)"/>
<stop offset="0.0333" stop-color="rgb(83,83,83)"/>
<stop offset="0.0417" stop-color="rgb(87,87,87)"/>
<stop offset="0.0500" stop-color="rgb(91,91,91)"/>
<stop offset="0.0583" stop-color="rgb(95,95,95)"/>
<stop offset="0.0667" stop-color="rgb(99,99,99)"/>
<stop offset="0.0750" stop-color="rgb(103,103,103)"/>
<stop offset="0.0833" stop-color="rgb(108,108,108)"/>
<stop offset="0.0917" stop-color="rgb(112,112,112)"/>
<stop offset="0.1000" stop-color="rgb(117,117,117)"/>
<stop offset="0.1083" stop-color="rgb(121,121,121)"/>
<stop offset="0.1167" stop-color="rgb(126,126,126)"/>
<stop offset="0.1250" stop-color="rgb(131,131,131)"/>
<stop offset="0.1333" stop-color="rgb(135,135,135)"/>
<stop offset="0.1417" stop-color="rgb(138,138,138)"/>
<stop offset="0.1500" stop-color="rgb(142,142,142)"/>
<stop offset="0.1583" stop-color="rgb(145,145,145)"/>
<stop offset="0.1667" stop-color="rgb(148,148,148)"/>
<stop offset="0.1750" stop-color="rgb(152,152,152)"/>
<stop offset="0.1833" stop-color="rgb(155,155,155)"/>
<stop offset="0.1917" stop-color="rgb(158,158,158)"/>
<stop offset="0.2000" stop-color="rgb(161,161,161)"/>
<stop offset="0.2083" stop-color="rgb(163,163,163)"/>
<stop offset="0.2167" stop-color="rgb(165,165,165)"/>
<stop offset="0.2250" stop-color="rgb(167,167,167)"/>
<stop offset="0.2333" stop-color="rgb(169,169,169)"/>
<stop offset="0.2417" stop-color="rgb(171,171,171)"/>
<stop offset="0.2500" stop-color="rgb(173,173,173)"/>
<stop offset="0.2583" stop-color="rgb(176,176,176)"/>
<stop offset="0.2667" stop-color="rgb(180,180,180)"/>
<stop offset="0.2750" stop-color="rgb(183,183,183)"/>
<stop offset="0.2833" stop-color="rgb(186,186,186)"/>
<stop offset="0.2917" stop-color="rgb(189,189,189)"/>
<stop offset="0.3000" stop-color="rgb(192,192,192)"/>
<stop offset="0.3083" stop-color="rgb(196,196,196)"/>
<stop offset="0.3167" stop-color="rgb(199,199,199)"/>
<stop offset="0.3250" stop-color="rgb(202,202,202)"/>
<stop offset="0.3333" stop-color="rgb(205,205,205)"/>
<stop offset="0.3417" stop-color="rgb(207,207,207)"/>
<stop offset="0.3500" stop-color="rgb(209,209,209)"/>
<stop offset="0.3583" stop-color="rgb(211,211,211)"/>
<stop offset="0.3667" stop-color="rgb(213,213,213)"/>
<stop offset="0.3750" stop-color="rgb(215,215,215)"/>
<stop offset="0.3833" stop-color="rgb(217,217,217)"/>
<stop offset="0.3917" stop-color="rgb(219,219,219)"/>
<stop offset="0.4000" stop-color="rgb(221,221,221)"/>
<stop offset="0.4083" stop-color="rgb(223,223,223)"/>
<stop offset="0.4167" stop-color="rgb(224,224,224)"/>
<stop offset="0.4250" stop-color="rgb(226,226,226)"/>
<stop offset="0.4333" stop-color="rgb(228,228,228)"/>
<stop offset="0.4417" stop-color="rgb(230,230,230)"/>
<stop offset="0.4500" stop-color="rgb(232,232,232)"/>
<stop offset="0.4583" stop-color="rgb(234,234,234)"/>
<stop offset="0.4667" stop-color="rgb(235,235,235)"/>
<stop offset="0.4750" stop-color="rgb(237,237,237)"/>
<stop offset="0.4833" stop-color="rgb(241,241,241)"/>
<stop offset="0.4917" stop-color="rgb(244,244,244)"/>
<stop offset="0.5000" stop-color="rgb(247,247,247)"/>
<stop offset="0.5083" stop-color="rgb(244,244,244)"/>
<stop offset="0.5167" stop-color="rgb(241,241,241)"/>
<stop offset="0.5250" stop-color="rgb(237,237,237)"/>
<stop offset="0.5333" stop-color="rgb(235,235,235)"/>
<stop offset="0.5417" stop-color="rgb(234,234,234)"/>
<stop offset="0.5500" stop-color="rgb(232,232,232)"/>
<stop offset="0.5583" stop-color="rgb(230,230,230)"/>
<stop offset="0.5667" stop-color="rgb(228,228,228)"/>
<stop offset="0.5750" stop-color="rgb(226,226,226)"/>
<stop offset="0.5833" stop-color="rgb(224,224,224)"/>
<stop offset="0.5917" stop-color="rgb(223,223,223)"/>
<stop offset="0.6000" stop-color="rgb(221,221,221)"/>
<stop offset="0.6083" stop-color="rgb(219,219,219)"/>
<stop offset="0.6167" stop-color="rgb(217,217,217)"/>
<stop offset="0.6250" stop-color="rgb(215,215,215)"/>
<stop offset="0.6333" stop-color="rgb(213,213,213)"/>
<stop offset="0.6417" stop-color="rgb(211,211,211)"/>
<stop offset="0.6500" stop-color="rgb(209,209,209)"/>
<stop offset="0.6583" stop-color="rgb(207,207,207)"/>
<stop offset="0.6667" stop-color="rgb(205,205,205)"/>
<stop offset="0.6750" stop-color="rgb(202,202,202)"/>
<stop offset="0.6833" stop-color="rgb(199,199,199)"/>
<stop offset="0.6917" stop-color="rgb(196,196,196)"/>
<stop offset="0.7000" stop-color="rgb(192,192,192)"/>
<stop offset="0.7083" stop-color="rgb(189,189,189)"/>
<stop offset="0.7167" stop-color="rgb(186,186,186)"/>
<stop offset="0.7250" stop-color="rgb(183,183,183)"/>
<stop offset="0.7333" stop-color="rgb(180,180,180)"/>
<stop offset="0.7417" stop-color="rgb(176,176,176)"/>
<stop offset="0.7500" stop-color="rgb(173,173,173)"/>
<stop offset="0.7583" stop-color="rgb(171,171,171)"/>
<stop offset="0.7667" stop-color="rgb(169,169,169)"/>
<stop offset="0.7750" stop-color="rgb(167,167,167)"/>
<stop offset="0.7833" stop-color="rgb(165,165,165)"/>
<stop offset="0.7917" stop-color="rgb(163,163,163)"/>
<stop offset="0.8000" stop-color="rgb(161,161,161)"/>
<stop offset="0.8083" stop-color="rgb(158,158,158)"/>
<stop offset="0.8167" stop-color="rgb(155,155,155)"/>
<stop offset="0.8250" stop-color="rgb(152,152,152)"/>
<stop offset="0.8333" stop-color="rgb(148,148,148)"/>
<stop offset="0.8417" stop-color="rgb(145,145,145)"/>
<stop offset="0.8500" stop-color="rgb(142,142,142)"/>
<stop offset="0.8583" stop-color="rgb(138,138,138)"/>
<stop offset="0.8667" stop-color="rgb(135,135,135)"/>
<stop offset="0.8750" stop-color="rgb(131,131,131)"/>
<stop offset="0.8833" stop-color="rgb(126,126,126)"/>
<stop offset="0.8917" stop-color="rgb(121,121,121)"/>
<stop offset="0.9000" stop-color="rgb(117,117,117)"/>
<stop offset="0.9083" stop-color="rgb(112,112,112)"/>
<stop offset="0.9167" stop-color="rgb(108,108,108)"/>
<stop offset="0.9250" stop-color="rgb(103,103,103)"/>
<stop offset="0.9333" stop-color="rgb(99,99,99)"/>
<stop offset="0.9417" stop-color="rgb(95,95,95)"/>
<stop offset="0.9500" stop-color="rgb(91,91,91)"/>
<stop offset="0.9583" stop-color="rgb(87,87,87)"/>
<stop offset="0.9667" stop-color="rgb(83,83,83)"/>
<stop offset="0.9750" stop-color="rgb(80,80,80)"/>
<stop offset="0.9833" stop-color="rgb(76,76,76)"/>
<stop offset="0.9917" stop-color="rgb(72,72,72)"/>
<stop offset="1.0000" stop-color="rgb(69,69,69)"/>
</linearGradient>
<linearGradient id="gB2" x1="0" y1="0" x2="1" y2="1">
<stop offset="0.0000" stop-color="rgb(54,54,54)"/>
<stop offset="0.0083" stop-color="rgb(54,54,54)"/>
<stop offset="0.0167" stop-color="rgb(54,54,54)"/>
<stop offset="0.0250" stop-color="rgb(54,54,54)"/>
<stop offset="0.0333" stop-color="rgb(54,54,54)"/>
<stop offset="0.0417" stop-color="rgb(54,54,54)"/>
<stop offset="0.0500" stop-color="rgb(54,54,54)"/>
<stop offset="0.0583" stop-color="rgb(54,54,54)"/>
<stop offset="0.0667" stop-color="rgb(54,54,54)"/>
<stop offset="0.0750" stop-color="rgb(54,54,54)"/>
<stop offset="0.0833" stop-color="rgb(54,54,54)"/>
<stop offset="0.0917" stop-color="rgb(54,54,54)"/>
<stop offset="0.1000" stop-color="rgb(54,54,54)"/>
<stop offset="0.1083" stop-color="rgb(54,54,54)"/>
<stop offset="0.1167" stop-color="rgb(54,54,54)"/>
<stop offset="0.1250" stop-color="rgb(55,55,55)"/>
<stop offset="0.1333" stop-color="rgb(55,55,55)"/>
<stop offset="0.1417" stop-color="rgb(55,55,55)"/>
<stop offset="0.1500" stop-color="rgb(55,55,55)"/>
<stop offset="0.1583" stop-color="rgb(55,55,55)"/>
<stop offset="0.1667" stop-color="rgb(55,55,55)"/>
<stop offset="0.1750" stop-color="rgb(55,55,55)"/>
<stop offset="0.1833" stop-color="rgb(55,55,55)"/>
<stop offset="0.1917" stop-color="rgb(55,55,55)"/>
<stop offset="0.2000" stop-color="rgb(55,55,55)"/>
<stop offset="0.2083" stop-color="rgb(55,55,55)"/>
<stop offset="0.2167" stop-color="rgb(55,55,55)"/>
<stop offset="0.2250" stop-color="rgb(55,55,55)"/>
<stop offset="0.2333" stop-color="rgb(55,55,55)"/>
<stop offset="0.2417" stop-color="rgb(55,55,55)"/>
<stop offset="0.2500" stop-color="rgb(56,56,56)"/>
<stop offset="0.2583" stop-color="rgb(56,56,56)"/>
<stop offset="0.2667" stop-color="rgb(56,56,56)"/>
<stop offset="0.2750" stop-color="rgb(56,56,56)"/>
<stop offset="0.2833" stop-color="rgb(56,56,56)"/>
<stop offset="0.2917" stop-color="rgb(56,56,56)"/>
<stop offset="0.3000" stop-color="rgb(56,56,56)"/>
<stop offset="0.3083" stop-color="rgb(56,56,56)"/>
<stop offset="0.3167" stop-color="rgb(56,56,56)"/>
<stop offset="0.3250" stop-color="rgb(56,56,56)"/>
<stop offset="0.3333" stop-color="rgb(58,58,58)"/>
<stop offset="0.3417" stop-color="rgb(59,59,59)"/>
<stop offset="0.3500" stop-color="rgb(60,60,60)"/>
<stop offset="0.3583" stop-color="rgb(61,61,61)"/>
<stop offset="0.3667" stop-color="rgb(63,63,63)"/>
<stop offset="0.3750" stop-color="rgb(64,64,64)"/>
<stop offset="0.3833" stop-color="rgb(66,66,66)"/>
<stop offset="0.3917" stop-color="rgb(69,69,69)"/>
<stop offset="0.4000" stop-color="rgb(72,72,72)"/>
<stop offset="0.4083" stop-color="rgb(75,75,75)"/>
<stop offset="0.4167" stop-color="rgb(81,81,81)"/>
<stop offset="0.4250" stop-color="rgb(86,86,86)"/>
<stop offset="0.4333" stop-color="rgb(94,94,94)"/>
<stop offset="0.4417" stop-color="rgb(103,103,103)"/>
<stop offset="0.4500" stop-color="rgb(114,114,114)"/>
<stop offset="0.4583" stop-color="rgb(127,127,127)"/>
<stop offset="0.4667" stop-color="rgb(148,148,148)"/>
<stop offset="0.4750" stop-color="rgb(168,168,168)"/>
<stop offset="0.4833" stop-color="rgb(191,191,191)"/>
<stop offset="0.4917" stop-color="rgb(212,212,212)"/>
<stop offset="0.5000" stop-color="rgb(230,230,230)"/>
<stop offset="0.5083" stop-color="rgb(212,212,212)"/>
<stop offset="0.5167" stop-color="rgb(191,191,191)"/>
<stop offset="0.5250" stop-color="rgb(168,168,168)"/>
<stop offset="0.5333" stop-color="rgb(148,148,148)"/>
<stop offset="0.5417" stop-color="rgb(128,128,128)"/>
<stop offset="0.5500" stop-color="rgb(114,114,114)"/>
<stop offset="0.5583" stop-color="rgb(103,103,103)"/>
<stop offset="0.5667" stop-color="rgb(94,94,94)"/>
<stop offset="0.5750" stop-color="rgb(86,86,86)"/>
<stop offset="0.5833" stop-color="rgb(81,81,81)"/>
<stop offset="0.5917" stop-color="rgb(75,75,75)"/>
<stop offset="0.6000" stop-color="rgb(72,72,72)"/>
<stop offset="0.6083" stop-color="rgb(69,69,69)"/>
<stop offset="0.6167" stop-color="rgb(66,66,66)"/>
<stop offset="0.6250" stop-color="rgb(64,64,64)"/>
<stop offset="0.6333" stop-color="rgb(63,63,63)"/>
<stop offset="0.6417" stop-color="rgb(61,61,61)"/>
<stop offset="0.6500" stop-color="rgb(60,60,60)"/>
<stop offset="0.6583" stop-color="rgb(59,59,59)"/>
<stop offset="0.6667" stop-color="rgb(58,58,58)"/>
<stop offset="0.6750" stop-color="rgb(56,56,56)"/>
<stop offset="0.6833" stop-color="rgb(56,56,56)"/>
<stop offset="0.6917" stop-color="rgb(56,56,56)"/>
<stop offset="0.7000" stop-color="rgb(56,56,56)"/>
<stop offset="0.7083" stop-color="rgb(56,56,56)"/>
<stop offset="0.7167" stop-color="rgb(56,56,56)"/>
<stop offset="0.7250" stop-color="rgb(56,56,56)"/>
<stop offset="0.7333" stop-color="rgb(56,56,56)"/>
<stop offset="0.7417" stop-color="rgb(56,56,56)"/>
<stop offset="0.7500" stop-color="rgb(56,56,56)"/>
<stop offset="0.7583" stop-color="rgb(55,55,55)"/>
<stop offset="0.7667" stop-color="rgb(55,55,55)"/>
<stop offset="0.7750" stop-color="rgb(55,55,55)"/>
<stop offset="0.7833" stop-color="rgb(55,55,55)"/>
<stop offset="0.7917" stop-color="rgb(55,55,55)"/>
<stop offset="0.8000" stop-color="rgb(55,55,55)"/>
<stop offset="0.8083" stop-color="rgb(55,55,55)"/>
<stop offset="0.8167" stop-color="rgb(55,55,55)"/>
<stop offset="0.8250" stop-color="rgb(55,55,55)"/>
<stop offset="0.8333" stop-color="rgb(55,55,55)"/>
<stop offset="0.8417" stop-color="rgb(55,55,55)"/>
<stop offset="0.8500" stop-color="rgb(55,55,55)"/>
<stop offset="0.8583" stop-color="rgb(55,55,55)"/>
<stop offset="0.8667" stop-color="rgb(55,55,55)"/>
<stop offset="0.8750" stop-color="rgb(55,55,55)"/>
<stop offset="0.8833" stop-color="rgb(54,54,54)"/>
<stop offset="0.8917" stop-color="rgb(54,54,54)"/>
<stop offset="0.9000" stop-color="rgb(54,54,54)"/>
<stop offset="0.9083" stop-color="rgb(54,54,54)"/>
<stop offset="0.9167" stop-color="rgb(54,54,54)"/>
<stop offset="0.9250" stop-color="rgb(54,54,54)"/>
<stop offset="0.9333" stop-color="rgb(54,54,54)"/>
<stop offset="0.9417" stop-color="rgb(54,54,54)"/>
<stop offset="0.9500" stop-color="rgb(54,54,54)"/>
<stop offset="0.9583" stop-color="rgb(54,54,54)"/>
<stop offset="0.9667" stop-color="rgb(54,54,54)"/>
<stop offset="0.9750" stop-color="rgb(54,54,54)"/>
<stop offset="0.9833" stop-color="rgb(54,54,54)"/>
<stop offset="0.9917" stop-color="rgb(54,54,54)"/>
<stop offset="1.0000" stop-color="rgb(54,54,54)"/>
</linearGradient>
<linearGradient id="gB5" x1="0" y1="0" x2="1" y2="1">
<stop offset="0.0000" stop-color="rgb(51,51,51)"/>
<stop offset="0.0083" stop-color="rgb(51,51,51)"/>
<stop offset="0.0167" stop-color="rgb(51,51,51)"/>
<stop offset="0.0250" stop-color="rgb(52,52,52)"/>
<stop offset="0.0333" stop-color="rgb(52,52,52)"/>
<stop offset="0.0417" stop-color="rgb(52,52,52)"/>
<stop offset="0.0500" stop-color="rgb(52,52,52)"/>
<stop offset="0.0583" stop-color="rgb(53,53,53)"/>
<stop offset="0.0667" stop-color="rgb(53,53,53)"/>
<stop offset="0.0750" stop-color="rgb(53,53,53)"/>
<stop offset="0.0833" stop-color="rgb(53,53,53)"/>
<stop offset="0.0917" stop-color="rgb(53,53,53)"/>
<stop offset="0.1000" stop-color="rgb(54,54,54)"/>
<stop offset="0.1083" stop-color="rgb(54,54,54)"/>
<stop offset="0.1167" stop-color="rgb(54,54,54)"/>
<stop offset="0.1250" stop-color="rgb(54,54,54)"/>
<stop offset="0.1333" stop-color="rgb(55,55,55)"/>
<stop offset="0.1417" stop-color="rgb(55,55,55)"/>
<stop offset="0.1500" stop-color="rgb(55,55,55)"/>
<stop offset="0.1583" stop-color="rgb(55,55,55)"/>
<stop offset="0.1667" stop-color="rgb(56,56,56)"/>
<stop offset="0.1750" stop-color="rgb(56,56,56)"/>
<stop offset="0.1833" stop-color="rgb(56,56,56)"/>
<stop offset="0.1917" stop-color="rgb(57,57,57)"/>
<stop offset="0.2000" stop-color="rgb(57,57,57)"/>
<stop offset="0.2083" stop-color="rgb(58,58,58)"/>
<stop offset="0.2167" stop-color="rgb(59,59,59)"/>
<stop offset="0.2250" stop-color="rgb(60,60,60)"/>
<stop offset="0.2333" stop-color="rgb(61,61,61)"/>
<stop offset="0.2417" stop-color="rgb(61,61,61)"/>
<stop offset="0.2500" stop-color="rgb(62,62,62)"/>
<stop offset="0.2583" stop-color="rgb(63,63,63)"/>
<stop offset="0.2667" stop-color="rgb(64,64,64)"/>
<stop offset="0.2750" stop-color="rgb(65,65,65)"/>
<stop offset="0.2833" stop-color="rgb(65,65,65)"/>
<stop offset="0.2917" stop-color="rgb(66,66,66)"/>
<stop offset="0.3000" stop-color="rgb(69,69,69)"/>
<stop offset="0.3083" stop-color="rgb(71,71,71)"/>
<stop offset="0.3167" stop-color="rgb(74,74,74)"/>
<stop offset="0.3250" stop-color="rgb(76,76,76)"/>
<stop offset="0.3333" stop-color="rgb(79,79,79)"/>
<stop offset="0.3417" stop-color="rgb(81,81,81)"/>
<stop offset="0.3500" stop-color="rgb(84,84,84)"/>
<stop offset="0.3583" stop-color="rgb(88,88,88)"/>
<stop offset="0.3667" stop-color="rgb(92,92,92)"/>
<stop offset="0.3750" stop-color="rgb(96,96,96)"/>
<stop offset="0.3833" stop-color="rgb(99,99,99)"/>
<stop offset="0.3917" stop-color="rgb(105,105,105)"/>
<stop offset="0.4000" stop-color="rgb(111,111,111)"/>
<stop offset="0.4083" stop-color="rgb(117,117,117)"/>
<stop offset="0.4167" stop-color="rgb(124,124,124)"/>
<stop offset="0.4250" stop-color="rgb(131,131,131)"/>
<stop offset="0.4333" stop-color="rgb(139,139,139)"/>
<stop offset="0.4417" stop-color="rgb(148,148,148)"/>
<stop offset="0.4500" stop-color="rgb(158,158,158)"/>
<stop offset="0.4583" stop-color="rgb(168,168,168)"/>
<stop offset="0.4667" stop-color="rgb(180,180,180)"/>
<stop offset="0.4750" stop-color="rgb(191,191,191)"/>
<stop offset="0.4833" stop-color="rgb(205,205,205)"/>
<stop offset="0.4917" stop-color="rgb(221,221,221)"/>
<stop offset="0.5000" stop-color="rgb(247,247,247)"/>
<stop offset="0.5083" stop-color="rgb(221,221,221)"/>
<stop offset="0.5167" stop-color="rgb(205,205,205)"/>
<stop offset="0.5250" stop-color="rgb(191,191,191)"/>
<stop offset="0.5333" stop-color="rgb(180,180,180)"/>
<stop offset="0.5417" stop-color="rgb(168,168,168)"/>
<stop offset="0.5500" stop-color="rgb(158,158,158)"/>
<stop offset="0.5583" stop-color="rgb(148,148,148)"/>
<stop offset="0.5667" stop-color="rgb(139,139,139)"/>
<stop offset="0.5750" stop-color="rgb(131,131,131)"/>
<stop offset="0.5833" stop-color="rgb(124,124,124)"/>
<stop offset="0.5917" stop-color="rgb(117,117,117)"/>
<stop offset="0.6000" stop-color="rgb(111,111,111)"/>
<stop offset="0.6083" stop-color="rgb(105,105,105)"/>
<stop offset="0.6167" stop-color="rgb(99,99,99)"/>
<stop offset="0.6250" stop-color="rgb(96,96,96)"/>
<stop offset="0.6333" stop-color="rgb(92,92,92)"/>
<stop offset="0.6417" stop-color="rgb(88,88,88)"/>
<stop offset="0.6500" stop-color="rgb(84,84,84)"/>
<stop offset="0.6583" stop-color="rgb(81,81,81)"/>
<stop offset="0.6667" stop-color="rgb(79,79,79)"/>
<stop offset="0.6750" stop-color="rgb(76,76,76)"/>
<stop offset="0.6833" stop-color="rgb(74,74,74)"/>
<stop offset="0.6917" stop-color="rgb(71,71,71)"/>
<stop offset="0.7000" stop-color="rgb(69,69,69)"/>
<stop offset="0.7083" stop-color="rgb(66,66,66)"/>
<stop offset="0.7167" stop-color="rgb(65,65,65)"/>
<stop offset="0.7250" stop-color="rgb(65,65,65)"/>
<stop offset="0.7333" stop-color="rgb(64,64,64)"/>
<stop offset="0.7417" stop-color="rgb(63,63,63)"/>
<stop offset="0.7500" stop-color="rgb(62,62,62)"/>
<stop offset="0.7583" stop-color="rgb(61,61,61)"/>
<stop offset="0.7667" stop-color="rgb(61,61,61)"/>
<stop offset="0.7750" stop-color="rgb(60,60,60)"/>
<stop offset="0.7833" stop-color="rgb(59,59,59)"/>
<stop offset="0.7917" stop-color="rgb(58,58,58)"/>
<stop offset="0.8000" stop-color="rgb(57,57,57)"/>
<stop offset="0.8083" stop-color="rgb(57,57,57)"/>
<stop offset="0.8167" stop-color="rgb(56,56,56)"/>
<stop offset="0.8250" stop-color="rgb(56,56,56)"/>
<stop offset="0.8333" stop-color="rgb(56,56,56)"/>
<stop offset="0.8417" stop-color="rgb(55,55,55)"/>
<stop offset="0.8500" stop-color="rgb(55,55,55)"/>
<stop offset="0.8583" stop-color="rgb(55,55,55)"/>
<stop offset="0.8667" stop-color="rgb(55,55,55)"/>
<stop offset="0.8750" stop-color="rgb(54,54,54)"/>
<stop offset="0.8833" stop-color="rgb(54,54,54)"/>
<stop offset="0.8917" stop-color="rgb(54,54,54)"/>
<stop offset="0.9000" stop-color="rgb(54,54,54)"/>
<stop offset="0.9083" stop-color="rgb(53,53,53)"/>
<stop offset="0.9167" stop-color="rgb(53,53,53)"/>
<stop offset="0.9250" stop-color="rgb(53,53,53)"/>
<stop offset="0.9333" stop-color="rgb(53,53,53)"/>
<stop offset="0.9417" stop-color="rgb(53,53,53)"/>
<stop offset="0.9500" stop-color="rgb(52,52,52)"/>
<stop offset="0.9583" stop-color="rgb(52,52,52)"/>
<stop offset="0.9667" stop-color="rgb(52,52,52)"/>
<stop offset="0.9750" stop-color="rgb(52,52,52)"/>
<stop offset="0.9833" stop-color="rgb(51,51,51)"/>
<stop offset="0.9917" stop-color="rgb(51,51,51)"/>
<stop offset="1.0000" stop-color="rgb(51,51,51)"/>
</linearGradient>
<linearGradient id="gB5w" x1="0" y1="0" x2="1" y2="1">
<stop offset="0.0000" stop-color="rgb(56,56,56)"/>
<stop offset="0.0083" stop-color="rgb(57,57,57)"/>
<stop offset="0.0167" stop-color="rgb(58,58,58)"/>
<stop offset="0.0250" stop-color="rgb(59,59,59)"/>
<stop offset="0.0333" stop-color="rgb(59,59,59)"/>
<stop offset="0.0417" stop-color="rgb(60,60,60)"/>
<stop offset="0.0500" stop-color="rgb(61,61,61)"/>
<stop offset="0.0583" stop-color="rgb(62,62,62)"/>
<stop offset="0.0667" stop-color="rgb(63,63,63)"/>
<stop offset="0.0750" stop-color="rgb(63,63,63)"/>
<stop offset="0.0833" stop-color="rgb(64,64,64)"/>
<stop offset="0.0917" stop-color="rgb(65,65,65)"/>
<stop offset="0.1000" stop-color="rgb(66,66,66)"/>
<stop offset="0.1083" stop-color="rgb(67,67,67)"/>
<stop offset="0.1167" stop-color="rgb(69,69,69)"/>
<stop offset="0.1250" stop-color="rgb(71,71,71)"/>
<stop offset="0.1333" stop-color="rgb(73,73,73)"/>
<stop offset="0.1417" stop-color="rgb(74,74,74)"/>
<stop offset="0.1500" stop-color="rgb(76,76,76)"/>
<stop offset="0.1583" stop-color="rgb(78,78,78)"/>
<stop offset="0.1667" stop-color="rgb(80,80,80)"/>
<stop offset="0.1750" stop-color="rgb(81,81,81)"/>
<stop offset="0.1833" stop-color="rgb(83,83,83)"/>
<stop offset="0.1917" stop-color="rgb(86,86,86)"/>
<stop offset="0.2000" stop-color="rgb(88,88,88)"/>
<stop offset="0.2083" stop-color="rgb(91,91,91)"/>
<stop offset="0.2167" stop-color="rgb(94,94,94)"/>
<stop offset="0.2250" stop-color="rgb(96,96,96)"/>
<stop offset="0.2333" stop-color="rgb(99,99,99)"/>
<stop offset="0.2417" stop-color="rgb(102,102,102)"/>
<stop offset="0.2500" stop-color="rgb(105,105,105)"/>
<stop offset="0.2583" stop-color="rgb(108,108,108)"/>
<stop offset="0.2667" stop-color="rgb(112,112,112)"/>
<stop offset="0.2750" stop-color="rgb(116,116,116)"/>
<stop offset="0.2833" stop-color="rgb(119,119,119)"/>
<stop offset="0.2917" stop-color="rgb(123,123,123)"/>
<stop offset="0.3000" stop-color="rgb(127,127,127)"/>
<stop offset="0.3083" stop-color="rgb(131,131,131)"/>
<stop offset="0.3167" stop-color="rgb(135,135,135)"/>
<stop offset="0.3250" stop-color="rgb(139,139,139)"/>
<stop offset="0.3333" stop-color="rgb(143,143,143)"/>
<stop offset="0.3417" stop-color="rgb(147,147,147)"/>
<stop offset="0.3500" stop-color="rgb(151,151,151)"/>
<stop offset="0.3583" stop-color="rgb(155,155,155)"/>
<stop offset="0.3667" stop-color="rgb(159,159,159)"/>
<stop offset="0.3750" stop-color="rgb(163,163,163)"/>
<stop offset="0.3833" stop-color="rgb(167,167,167)"/>
<stop offset="0.3917" stop-color="rgb(171,171,171)"/>
<stop offset="0.4000" stop-color="rgb(175,175,175)"/>
<stop offset="0.4083" stop-color="rgb(180,180,180)"/>
<stop offset="0.4167" stop-color="rgb(184,184,184)"/>
<stop offset="0.4250" stop-color="rgb(188,188,188)"/>
<stop offset="0.4333" stop-color="rgb(192,192,192)"/>
<stop offset="0.4417" stop-color="rgb(196,196,196)"/>
<stop offset="0.4500" stop-color="rgb(200,200,200)"/>
<stop offset="0.4583" stop-color="rgb(205,205,205)"/>
<stop offset="0.4667" stop-color="rgb(210,210,210)"/>
<stop offset="0.4750" stop-color="rgb(214,214,214)"/>
<stop offset="0.4833" stop-color="rgb(221,221,221)"/>
<stop offset="0.4917" stop-color="rgb(230,230,230)"/>
<stop offset="0.5000" stop-color="rgb(247,247,247)"/>
<stop offset="0.5083" stop-color="rgb(230,230,230)"/>
<stop offset="0.5167" stop-color="rgb(221,221,221)"/>
<stop offset="0.5250" stop-color="rgb(214,214,214)"/>
<stop offset="0.5333" stop-color="rgb(210,210,210)"/>
<stop offset="0.5417" stop-color="rgb(205,205,205)"/>
<stop offset="0.5500" stop-color="rgb(200,200,200)"/>
<stop offset="0.5583" stop-color="rgb(196,196,196)"/>
<stop offset="0.5667" stop-color="rgb(192,192,192)"/>
<stop offset="0.5750" stop-color="rgb(188,188,188)"/>
<stop offset="0.5833" stop-color="rgb(184,184,184)"/>
<stop offset="0.5917" stop-color="rgb(180,180,180)"/>
<stop offset="0.6000" stop-color="rgb(175,175,175)"/>
<stop offset="0.6083" stop-color="rgb(171,171,171)"/>
<stop offset="0.6167" stop-color="rgb(167,167,167)"/>
<stop offset="0.6250" stop-color="rgb(163,163,163)"/>
<stop offset="0.6333" stop-color="rgb(159,159,159)"/>
<stop offset="0.6417" stop-color="rgb(155,155,155)"/>
<stop offset="0.6500" stop-color="rgb(151,151,151)"/>
<stop offset="0.6583" stop-color="rgb(147,147,147)"/>
<stop offset="0.6667" stop-color="rgb(143,143,143)"/>
<stop offset="0.6750" stop-color="rgb(139,139,139)"/>
<stop offset="0.6833" stop-color="rgb(135,135,135)"/>
<stop offset="0.6917" stop-color="rgb(131,131,131)"/>
<stop offset="0.7000" stop-color="rgb(127,127,127)"/>
<stop offset="0.7083" stop-color="rgb(123,123,123)"/>
<stop offset="0.7167" stop-color="rgb(119,119,119)"/>
<stop offset="0.7250" stop-color="rgb(116,116,116)"/>
<stop offset="0.7333" stop-color="rgb(112,112,112)"/>
<stop offset="0.7417" stop-color="rgb(108,108,108)"/>
<stop offset="0.7500" stop-color="rgb(105,105,105)"/>
<stop offset="0.7583" stop-color="rgb(102,102,102)"/>
<stop offset="0.7667" stop-color="rgb(99,99,99)"/>
<stop offset="0.7750" stop-color="rgb(96,96,96)"/>
<stop offset="0.7833" stop-color="rgb(94,94,94)"/>
<stop offset="0.7917" stop-color="rgb(91,91,91)"/>
<stop offset="0.8000" stop-color="rgb(88,88,88)"/>
<stop offset="0.8083" stop-color="rgb(86,86,86)"/>
<stop offset="0.8167" stop-color="rgb(83,83,83)"/>
<stop offset="0.8250" stop-color="rgb(81,81,81)"/>
<stop offset="0.8333" stop-color="rgb(80,80,80)"/>
<stop offset="0.8417" stop-color="rgb(78,78,78)"/>
<stop offset="0.8500" stop-color="rgb(76,76,76)"/>
<stop offset="0.8583" stop-color="rgb(74,74,74)"/>
<stop offset="0.8667" stop-color="rgb(73,73,73)"/>
<stop offset="0.8750" stop-color="rgb(71,71,71)"/>
<stop offset="0.8833" stop-color="rgb(69,69,69)"/>
<stop offset="0.8917" stop-color="rgb(67,67,67)"/>
<stop offset="0.9000" stop-color="rgb(66,66,66)"/>
<stop offset="0.9083" stop-color="rgb(65,65,65)"/>
<stop offset="0.9167" stop-color="rgb(64,64,64)"/>
<stop offset="0.9250" stop-color="rgb(63,63,63)"/>
<stop offset="0.9333" stop-color="rgb(63,63,63)"/>
<stop offset="0.9417" stop-color="rgb(62,62,62)"/>
<stop offset="0.9500" stop-color="rgb(61,61,61)"/>
<stop offset="0.9583" stop-color="rgb(60,60,60)"/>
<stop offset="0.9667" stop-color="rgb(59,59,59)"/>
<stop offset="0.9750" stop-color="rgb(59,59,59)"/>
<stop offset="0.9833" stop-color="rgb(58,58,58)"/>
<stop offset="0.9917" stop-color="rgb(57,57,57)"/>
<stop offset="1.0000" stop-color="rgb(56,56,56)"/>
</linearGradient>
<linearGradient id="gB3" x1="0" y1="0" x2="1" y2="1">
<stop offset="0.0000" stop-color="rgb(92,92,92)"/>
<stop offset="0.0083" stop-color="rgb(92,92,92)"/>
<stop offset="0.0167" stop-color="rgb(92,92,92)"/>
<stop offset="0.0250" stop-color="rgb(92,92,92)"/>
<stop offset="0.0333" stop-color="rgb(92,92,92)"/>
<stop offset="0.0417" stop-color="rgb(92,92,92)"/>
<stop offset="0.0500" stop-color="rgb(92,92,92)"/>
<stop offset="0.0583" stop-color="rgb(92,92,92)"/>
<stop offset="0.0667" stop-color="rgb(92,92,92)"/>
<stop offset="0.0750" stop-color="rgb(92,92,92)"/>
<stop offset="0.0833" stop-color="rgb(92,92,92)"/>
<stop offset="0.0917" stop-color="rgb(92,92,92)"/>
<stop offset="0.1000" stop-color="rgb(92,92,92)"/>
<stop offset="0.1083" stop-color="rgb(92,92,92)"/>
<stop offset="0.1167" stop-color="rgb(92,92,92)"/>
<stop offset="0.1250" stop-color="rgb(92,92,92)"/>
<stop offset="0.1333" stop-color="rgb(92,92,92)"/>
<stop offset="0.1417" stop-color="rgb(92,92,92)"/>
<stop offset="0.1500" stop-color="rgb(92,92,92)"/>
<stop offset="0.1583" stop-color="rgb(92,92,92)"/>
<stop offset="0.1667" stop-color="rgb(92,92,92)"/>
<stop offset="0.1750" stop-color="rgb(92,92,92)"/>
<stop offset="0.1833" stop-color="rgb(92,92,92)"/>
<stop offset="0.1917" stop-color="rgb(92,92,92)"/>
<stop offset="0.2000" stop-color="rgb(92,92,92)"/>
<stop offset="0.2083" stop-color="rgb(92,92,92)"/>
<stop offset="0.2167" stop-color="rgb(92,92,92)"/>
<stop offset="0.2250" stop-color="rgb(92,92,92)"/>
<stop offset="0.2333" stop-color="rgb(92,92,92)"/>
<stop offset="0.2417" stop-color="rgb(92,92,92)"/>
<stop offset="0.2500" stop-color="rgb(92,92,92)"/>
<stop offset="0.2583" stop-color="rgb(92,92,92)"/>
<stop offset="0.2667" stop-color="rgb(92,92,92)"/>
<stop offset="0.2750" stop-color="rgb(92,92,92)"/>
<stop offset="0.2833" stop-color="rgb(92,92,92)"/>
<stop offset="0.2917" stop-color="rgb(92,92,92)"/>
<stop offset="0.3000" stop-color="rgb(92,92,92)"/>
<stop offset="0.3083" stop-color="rgb(92,92,92)"/>
<stop offset="0.3167" stop-color="rgb(92,92,92)"/>
<stop offset="0.3250" stop-color="rgb(92,92,92)"/>
<stop offset="0.3333" stop-color="rgb(92,92,92)"/>
<stop offset="0.3417" stop-color="rgb(92,92,92)"/>
<stop offset="0.3500" stop-color="rgb(92,92,92)"/>
<stop offset="0.3583" stop-color="rgb(92,92,92)"/>
<stop offset="0.3667" stop-color="rgb(92,92,92)"/>
<stop offset="0.3750" stop-color="rgb(92,92,92)"/>
<stop offset="0.3833" stop-color="rgb(92,92,92)"/>
<stop offset="0.3917" stop-color="rgb(92,92,92)"/>
<stop offset="0.4000" stop-color="rgb(92,92,92)"/>
<stop offset="0.4083" stop-color="rgb(92,92,92)"/>
<stop offset="0.4167" stop-color="rgb(92,92,92)"/>
<stop offset="0.4250" stop-color="rgb(92,92,92)"/>
<stop offset="0.4333" stop-color="rgb(92,92,92)"/>
<stop offset="0.4417" stop-color="rgb(92,92,92)"/>
<stop offset="0.4500" stop-color="rgb(92,92,92)"/>
<stop offset="0.4583" stop-color="rgb(92,92,92)"/>
<stop offset="0.4667" stop-color="rgb(92,92,92)"/>
<stop offset="0.4750" stop-color="rgb(92,92,92)"/>
<stop offset="0.4833" stop-color="rgb(92,92,92)"/>
<stop offset="0.4917" stop-color="rgb(92,92,92)"/>
<stop offset="0.5000" stop-color="rgb(92,92,92)"/>
<stop offset="0.5083" stop-color="rgb(92,92,92)"/>
<stop offset="0.5167" stop-color="rgb(92,92,92)"/>
<stop offset="0.5250" stop-color="rgb(92,92,92)"/>
<stop offset="0.5333" stop-color="rgb(92,92,92)"/>
<stop offset="0.5417" stop-color="rgb(92,92,92)"/>
<stop offset="0.5500" stop-color="rgb(92,92,92)"/>
<stop offset="0.5583" stop-color="rgb(92,92,92)"/>
<stop offset="0.5667" stop-color="rgb(92,92,92)"/>
<stop offset="0.5750" stop-color="rgb(92,92,92)"/>
<stop offset="0.5833" stop-color="rgb(92,92,92)"/>
<stop offset="0.5917" stop-color="rgb(92,92,92)"/>
<stop offset="0.6000" stop-color="rgb(92,92,92)"/>
<stop offset="0.6083" stop-color="rgb(92,92,92)"/>
<stop offset="0.6167" stop-color="rgb(92,92,92)"/>
<stop offset="0.6250" stop-color="rgb(92,92,92)"/>
<stop offset="0.6333" stop-color="rgb(92,92,92)"/>
<stop offset="0.6417" stop-color="rgb(92,92,92)"/>
<stop offset="0.6500" stop-color="rgb(92,92,92)"/>
<stop offset="0.6583" stop-color="rgb(92,92,92)"/>
<stop offset="0.6667" stop-color="rgb(92,92,92)"/>
<stop offset="0.6750" stop-color="rgb(92,92,92)"/>
<stop offset="0.6833" stop-color="rgb(92,92,92)"/>
<stop offset="0.6917" stop-color="rgb(92,92,92)"/>
<stop offset="0.7000" stop-color="rgb(92,92,92)"/>
<stop offset="0.7083" stop-color="rgb(92,92,92)"/>
<stop offset="0.7167" stop-color="rgb(92,92,92)"/>
<stop offset="0.7250" stop-color="rgb(92,92,92)"/>
<stop offset="0.7333" stop-color="rgb(92,92,92)"/>
<stop offset="0.7417" stop-color="rgb(92,92,92)"/>
<stop offset="0.7500" stop-color="rgb(92,92,92)"/>
<stop offset="0.7583" stop-color="rgb(92,92,92)"/>
<stop offset="0.7667" stop-color="rgb(92,92,92)"/>
<stop offset="0.7750" stop-color="rgb(92,92,92)"/>
<stop offset="0.7833" stop-color="rgb(92,92,92)"/>
<stop offset="0.7917" stop-color="rgb(92,92,92)"/>
<stop offset="0.8000" stop-color="rgb(92,92,92)"/>
<stop offset="0.8083" stop-color="rgb(92,92,92)"/>
<stop offset="0.8167" stop-color="rgb(92,92,92)"/>
<stop offset="0.8250" stop-color="rgb(92,92,92)"/>
<stop offset="0.8333" stop-color="rgb(92,92,92)"/>
<stop offset="0.8417" stop-color="rgb(92,92,92)"/>
<stop offset="0.8500" stop-color="rgb(92,92,92)"/>
<stop offset="0.8583" stop-color="rgb(92,92,92)"/>
<stop offset="0.8667" stop-color="rgb(92,92,92)"/>
<stop offset="0.8750" stop-color="rgb(92,92,92)"/>
<stop offset="0.8833" stop-color="rgb(92,92,92)"/>
<stop offset="0.8917" stop-color="rgb(92,92,92)"/>
<stop offset="0.9000" stop-color="rgb(92,92,92)"/>
<stop offset="0.9083" stop-color="rgb(92,92,92)"/>
<stop offset="0.9167" stop-color="rgb(92,92,92)"/>
<stop offset="0.9250" stop-color="rgb(92,92,92)"/>
<stop offset="0.9333" stop-color="rgb(92,92,92)"/>
<stop offset="0.9417" stop-color="rgb(92,92,92)"/>
<stop offset="0.9500" stop-color="rgb(92,92,92)"/>
<stop offset="0.9583" stop-color="rgb(92,92,92)"/>
<stop offset="0.9667" stop-color="rgb(92,92,92)"/>
<stop offset="0.9750" stop-color="rgb(92,92,92)"/>
<stop offset="0.9833" stop-color="rgb(92,92,92)"/>
<stop offset="0.9917" stop-color="rgb(92,92,92)"/>
<stop offset="1.0000" stop-color="rgb(92,92,92)"/>
</linearGradient>
<linearGradient id="gB4" x1="0" y1="0" x2="1" y2="1">
<stop offset="0.0000" stop-color="rgb(92,92,92)"/>
<stop offset="0.0083" stop-color="rgb(92,92,92)"/>
<stop offset="0.0167" stop-color="rgb(92,92,92)"/>
<stop offset="0.0250" stop-color="rgb(92,92,92)"/>
<stop offset="0.0333" stop-color="rgb(92,92,92)"/>
<stop offset="0.0417" stop-color="rgb(92,92,92)"/>
<stop offset="0.0500" stop-color="rgb(92,92,92)"/>
<stop offset="0.0583" stop-color="rgb(92,92,92)"/>
<stop offset="0.0667" stop-color="rgb(92,92,92)"/>
<stop offset="0.0750" stop-color="rgb(92,92,92)"/>
<stop offset="0.0833" stop-color="rgb(92,92,92)"/>
<stop offset="0.0917" stop-color="rgb(92,92,92)"/>
<stop offset="0.1000" stop-color="rgb(92,92,92)"/>
<stop offset="0.1083" stop-color="rgb(92,92,92)"/>
<stop offset="0.1167" stop-color="rgb(92,92,92)"/>
<stop offset="0.1250" stop-color="rgb(92,92,92)"/>
<stop offset="0.1333" stop-color="rgb(92,92,92)"/>
<stop offset="0.1417" stop-color="rgb(92,92,92)"/>
<stop offset="0.1500" stop-color="rgb(92,92,92)"/>
<stop offset="0.1583" stop-color="rgb(92,92,92)"/>
<stop offset="0.1667" stop-color="rgb(92,92,92)"/>
<stop offset="0.1750" stop-color="rgb(92,92,92)"/>
<stop offset="0.1833" stop-color="rgb(92,92,92)"/>
<stop offset="0.1917" stop-color="rgb(92,92,92)"/>
<stop offset="0.2000" stop-color="rgb(92,92,92)"/>
<stop offset="0.2083" stop-color="rgb(92,92,92)"/>
<stop offset="0.2167" stop-color="rgb(92,92,92)"/>
<stop offset="0.2250" stop-color="rgb(92,92,92)"/>
<stop offset="0.2333" stop-color="rgb(92,92,92)"/>
<stop offset="0.2417" stop-color="rgb(92,92,92)"/>
<stop offset="0.2500" stop-color="rgb(92,92,92)"/>
<stop offset="0.2583" stop-color="rgb(92,92,92)"/>
<stop offset="0.2667" stop-color="rgb(92,92,92)"/>
<stop offset="0.2750" stop-color="rgb(92,92,92)"/>
<stop offset="0.2833" stop-color="rgb(92,92,92)"/>
<stop offset="0.2917" stop-color="rgb(92,92,92)"/>
<stop offset="0.3000" stop-color="rgb(92,92,92)"/>
<stop offset="0.3083" stop-color="rgb(92,92,92)"/>
<stop offset="0.3167" stop-color="rgb(92,92,92)"/>
<stop offset="0.3250" stop-color="rgb(92,92,92)"/>
<stop offset="0.3333" stop-color="rgb(92,92,92)"/>
<stop offset="0.3417" stop-color="rgb(92,92,92)"/>
<stop offset="0.3500" stop-color="rgb(92,92,92)"/>
<stop offset="0.3583" stop-color="rgb(92,92,92)"/>
<stop offset="0.3667" stop-color="rgb(92,92,92)"/>
<stop offset="0.3750" stop-color="rgb(92,92,92)"/>
<stop offset="0.3833" stop-color="rgb(92,92,92)"/>
<stop offset="0.3917" stop-color="rgb(92,92,92)"/>
<stop offset="0.4000" stop-color="rgb(92,92,92)"/>
<stop offset="0.4083" stop-color="rgb(92,92,92)"/>
<stop offset="0.4167" stop-color="rgb(92,92,92)"/>
<stop offset="0.4250" stop-color="rgb(92,92,92)"/>
<stop offset="0.4333" stop-color="rgb(92,92,92)"/>
<stop offset="0.4417" stop-color="rgb(92,92,92)"/>
<stop offset="0.4500" stop-color="rgb(92,92,92)"/>
<stop offset="0.4583" stop-color="rgb(92,92,92)"/>
<stop offset="0.4667" stop-color="rgb(92,92,92)"/>
<stop offset="0.4750" stop-color="rgb(92,92,92)"/>
<stop offset="0.4833" stop-color="rgb(92,92,92)"/>
<stop offset="0.4917" stop-color="rgb(92,92,92)"/>
<stop offset="0.5000" stop-color="rgb(92,92,92)"/>
<stop offset="0.5083" stop-color="rgb(92,92,92)"/>
<stop offset="0.5167" stop-color="rgb(92,92,92)"/>
<stop offset="0.5250" stop-color="rgb(92,92,92)"/>
<stop offset="0.5333" stop-color="rgb(92,92,92)"/>
<stop offset="0.5417" stop-color="rgb(92,92,92)"/>
<stop offset="0.5500" stop-color="rgb(92,92,92)"/>
<stop offset="0.5583" stop-color="rgb(92,92,92)"/>
<stop offset="0.5667" stop-color="rgb(92,92,92)"/>
<stop offset="0.5750" stop-color="rgb(92,92,92)"/>
<stop offset="0.5833" stop-color="rgb(92,92,92)"/>
<stop offset="0.5917" stop-color="rgb(92,92,92)"/>
<stop offset="0.6000" stop-color="rgb(92,92,92)"/>
<stop offset="0.6083" stop-color="rgb(92,92,92)"/>
<stop offset="0.6167" stop-color="rgb(92,92,92)"/>
<stop offset="0.6250" stop-color="rgb(92,92,92)"/>
<stop offset="0.6333" stop-color="rgb(92,92,92)"/>
<stop offset="0.6417" stop-color="rgb(92,92,92)"/>
<stop offset="0.6500" stop-color="rgb(92,92,92)"/>
<stop offset="0.6583" stop-color="rgb(92,92,92)"/>
<stop offset="0.6667" stop-color="rgb(92,92,92)"/>
<stop offset="0.6750" stop-color="rgb(92,92,92)"/>
<stop offset="0.6833" stop-color="rgb(92,92,92)"/>
<stop offset="0.6917" stop-color="rgb(92,92,92)"/>
<stop offset="0.7000" stop-color="rgb(92,92,92)"/>
<stop offset="0.7083" stop-color="rgb(92,92,92)"/>
<stop offset="0.7167" stop-color="rgb(92,92,92)"/>
<stop offset="0.7250" stop-color="rgb(92,92,92)"/>
<stop offset="0.7333" stop-color="rgb(92,92,92)"/>
<stop offset="0.7417" stop-color="rgb(92,92,92)"/>
<stop offset="0.7500" stop-color="rgb(92,92,92)"/>
<stop offset="0.7583" stop-color="rgb(92,92,92)"/>
<stop offset="0.7667" stop-color="rgb(92,92,92)"/>
<stop offset="0.7750" stop-color="rgb(92,92,92)"/>
<stop offset="0.7833" stop-color="rgb(92,92,92)"/>
<stop offset="0.7917" stop-color="rgb(92,92,92)"/>
<stop offset="0.8000" stop-color="rgb(92,92,92)"/>
<stop offset="0.8083" stop-color="rgb(92,92,92)"/>
<stop offset="0.8167" stop-color="rgb(92,92,92)"/>
<stop offset="0.8250" stop-color="rgb(92,92,92)"/>
<stop offset="0.8333" stop-color="rgb(92,92,92)"/>
<stop offset="0.8417" stop-color="rgb(92,92,92)"/>
<stop offset="0.8500" stop-color="rgb(92,92,92)"/>
<stop offset="0.8583" stop-color="rgb(92,92,92)"/>
<stop offset="0.8667" stop-color="rgb(92,92,92)"/>
<stop offset="0.8750" stop-color="rgb(92,92,92)"/>
<stop offset="0.8833" stop-color="rgb(92,92,92)"/>
<stop offset="0.8917" stop-color="rgb(92,92,92)"/>
<stop offset="0.9000" stop-color="rgb(92,92,92)"/>
<stop offset="0.9083" stop-color="rgb(92,92,92)"/>
<stop offset="0.9167" stop-color="rgb(92,92,92)"/>
<stop offset="0.9250" stop-color="rgb(92,92,92)"/>
<stop offset="0.9333" stop-color="rgb(92,92,92)"/>
<stop offset="0.9417" stop-color="rgb(92,92,92)"/>
<stop offset="0.9500" stop-color="rgb(92,92,92)"/>
<stop offset="0.9583" stop-color="rgb(92,92,92)"/>
<stop offset="0.9667" stop-color="rgb(92,92,92)"/>
<stop offset="0.9750" stop-color="rgb(92,92,92)"/>
<stop offset="0.9833" stop-color="rgb(92,92,92)"/>
<stop offset="0.9917" stop-color="rgb(92,92,92)"/>
<stop offset="1.0000" stop-color="rgb(92,92,92)"/>
</linearGradient>
<linearGradient id="mAg" x1="0" y1="1" x2="1" y2="0"><stop offset="0.1" stop-color="#000"/><stop offset="0.9" stop-color="#fff"/></linearGradient>
<mask id="mB1" maskUnits="userSpaceOnUse" x="0" y="0" width="1736" height="1566"><rect x="105.6" y="368.2" width="369.9" height="367" fill="url(#mAg)"/></mask>
<mask id="mB6" maskUnits="userSpaceOnUse" x="0" y="0" width="1736" height="1566"><rect x="475.5" y="368.2" width="369.5" height="367" fill="url(#mAg)"/></mask>
<mask id="mB5" maskUnits="userSpaceOnUse" x="0" y="0" width="1736" height="1566"><rect x="475.5" y="735.2" width="369.5" height="367.1" fill="url(#mAg)"/></mask>
</defs>
<g filter="url(#jetB1)">
<rect x="105.6" y="368.2" width="369.9" height="367" fill="url(#gB1)"/>
<rect x="105.6" y="368.2" width="369.9" height="367" fill="url(#gB1w)" mask="url(#mB1)"/>
<line x1="105.6" y1="735.2" x2="475.5" y2="368.2" stroke="rgb(248,248,248)" stroke-width="1.5"/>
</g>
<g filter="url(#jetB6)">
<rect x="475.5" y="368.2" width="369.5" height="367" fill="url(#gB6)"/>
<rect x="475.5" y="368.2" width="369.5" height="367" fill="url(#gB6w)" mask="url(#mB6)"/>
</g>
<g filter="url(#jetB2)">
<rect x="105.6" y="735.2" width="369.9" height="367.1" fill="url(#gB2)"/>
<line x1="105.6" y1="1102.3" x2="475.5" y2="735.2" stroke="rgb(248,248,248)" stroke-width="1.5"/>
</g>
<g filter="url(#jetB5)">
<rect x="475.5" y="735.2" width="369.5" height="367.1" fill="url(#gB5)"/>
<rect x="475.5" y="735.2" width="369.5" height="367.1" fill="url(#gB5w)" mask="url(#mB5)"/>
<line x1="475.5" y1="1102.3" x2="845.0" y2="735.2" stroke="rgb(248,248,248)" stroke-width="1.5"/>
</g>
<g filter="url(#jetB3)">
<rect x="105.6" y="1102.3" width="369.9" height="367.5" fill="url(#gB3)"/>
<line x1="105.6" y1="1469.8" x2="475.5" y2="1102.3" stroke="rgb(215,215,215)" stroke-width="1.2"/>
</g>
<g filter="url(#jetB4)">
<rect x="475.5" y="1102.3" width="369.5" height="367.5" fill="url(#gB4)"/>
<line x1="475.5" y1="1469.8" x2="845.0" y2="1102.3" stroke="rgb(235,235,235)" stroke-width="1.2"/>
</g>
<rect x="282.6" y="677" width="178.5" height="42.4" fill="#fff"/>
<text x="371.9" y="708.8" font-size="29.7" font-weight="bold" fill="#cc0000" text-anchor="middle">B1 (479.7 K)</text>
<rect x="652.5" y="677" width="178.5" height="42.4" fill="#fff"/>
<text x="741.8" y="708.8" font-size="29.7" font-weight="bold" fill="#0068a8" text-anchor="middle">B6 (479.7 K)</text>
<rect x="282.6" y="1044.1" width="178.5" height="42.4" fill="#fff"/>
<text x="371.9" y="1075.9" font-size="29.7" font-weight="bold" fill="#cc0000" text-anchor="middle">B2 (510.4 K)</text>
<rect x="652.5" y="1044.1" width="178.5" height="42.4" fill="#fff"/>
<text x="741.8" y="1075.9" font-size="29.7" font-weight="bold" fill="#0068a8" text-anchor="middle">B5 (510.3 K)</text>
<rect x="282.6" y="1411.6" width="178.5" height="42.4" fill="#fff"/>
<text x="371.9" y="1443.4" font-size="29.7" font-weight="bold" fill="#cc0000" text-anchor="middle">B3 (541.0 K)</text>
<rect x="652.5" y="1411.6" width="178.5" height="42.4" fill="#fff"/>
<text x="741.8" y="1443.4" font-size="29.7" font-weight="bold" fill="#0068a8" text-anchor="middle">B4 (541.0 K)</text>
<path d="M144.1,735.2 v-3 M144.1,368.2 v3 M105.6,697 h3 M475.5,697 h-3 M182.7,735.2 v-6 M182.7,368.2 v6 M105.6,658.7 h6 M475.5,658.7 h-6 M221.2,735.2 v-3 M221.2,368.2 v3 M105.6,620.5 h3 M475.5,620.5 h-3 M259.7,735.2 v-6 M259.7,368.2 v6 M105.6,582.3 h6 M475.5,582.3 h-6 M298.3,735.2 v-3 M298.3,368.2 v3 M105.6,544.1 h3 M475.5,544.1 h-3 M336.8,735.2 v-6 M336.8,368.2 v6 M105.6,505.8 h6 M475.5,505.8 h-6 M375.3,735.2 v-3 M375.3,368.2 v3 M105.6,467.6 h3 M475.5,467.6 h-3 M413.9,735.2 v-6 M413.9,368.2 v6 M105.6,429.4 h6 M475.5,429.4 h-6 M452.4,735.2 v-3 M452.4,368.2 v3 M105.6,391.1 h3 M475.5,391.1 h-3 M144.1,1102.3 v-3 M144.1,735.2 v3 M105.6,1064.1 h3 M475.5,1064.1 h-3 M182.7,1102.3 v-6 M182.7,735.2 v6 M105.6,1025.8 h6 M475.5,1025.8 h-6 M221.2,1102.3 v-3 M221.2,735.2 v3 M105.6,987.6 h3 M475.5,987.6 h-3 M259.7,1102.3 v-6 M259.7,735.2 v6 M105.6,949.3 h6 M475.5,949.3 h-6 M298.3,1102.3 v-3 M298.3,735.2 v3 M105.6,911.1 h3 M475.5,911.1 h-3 M336.8,1102.3 v-6 M336.8,735.2 v6 M105.6,872.9 h6 M475.5,872.9 h-6 M375.3,1102.3 v-3 M375.3,735.2 v3 M105.6,834.6 h3 M475.5,834.6 h-3 M413.9,1102.3 v-6 M413.9,735.2 v6 M105.6,796.4 h6 M475.5,796.4 h-6 M452.4,1102.3 v-3 M452.4,735.2 v3 M105.6,758.1 h3 M475.5,758.1 h-3 M144.1,1469.8 v-3 M144.1,1102.3 v3 M105.6,1431.5 h3 M475.5,1431.5 h-3 M182.7,1469.8 v-6 M182.7,1102.3 v6 M105.6,1393.2 h6 M475.5,1393.2 h-6 M221.2,1469.8 v-3 M221.2,1102.3 v3 M105.6,1355 h3 M475.5,1355 h-3 M259.7,1469.8 v-6 M259.7,1102.3 v6 M105.6,1316.7 h6 M475.5,1316.7 h-6 M298.3,1469.8 v-3 M298.3,1102.3 v3 M105.6,1278.4 h3 M475.5,1278.4 h-3 M336.8,1469.8 v-6 M336.8,1102.3 v6 M105.6,1240.1 h6 M475.5,1240.1 h-6 M375.3,1469.8 v-3 M375.3,1102.3 v3 M105.6,1201.8 h3 M475.5,1201.8 h-3 M413.9,1469.8 v-6 M413.9,1102.3 v6 M105.6,1163.5 h6 M475.5,1163.5 h-6 M452.4,1469.8 v-3 M452.4,1102.3 v3 M105.6,1125.3 h3 M475.5,1125.3 h-3 M514,735.2 v-3 M514,368.2 v3 M475.5,697 h3 M845,697 h-3 M552.5,735.2 v-6 M552.5,368.2 v6 M475.5,658.7 h6 M845,658.7 h-6 M591,735.2 v-3 M591,368.2 v3 M475.5,620.5 h3 M845,620.5 h-3 M629.5,735.2 v-6 M629.5,368.2 v6 M475.5,582.3 h6 M845,582.3 h-6 M667.9,735.2 v-3 M667.9,368.2 v3 M475.5,544.1 h3 M845,544.1 h-3 M706.4,735.2 v-6 M706.4,368.2 v6 M475.5,505.8 h6 M845,505.8 h-6 M744.9,735.2 v-3 M744.9,368.2 v3 M475.5,467.6 h3 M845,467.6 h-3 M783.4,735.2 v-6 M783.4,368.2 v6 M475.5,429.4 h6 M845,429.4 h-6 M821.9,735.2 v-3 M821.9,368.2 v3 M475.5,391.1 h3 M845,391.1 h-3 M514,1102.3 v-3 M514,735.2 v3 M475.5,1064.1 h3 M845,1064.1 h-3 M552.5,1102.3 v-6 M552.5,735.2 v6 M475.5,1025.8 h6 M845,1025.8 h-6 M591,1102.3 v-3 M591,735.2 v3 M475.5,987.6 h3 M845,987.6 h-3 M629.5,1102.3 v-6 M629.5,735.2 v6 M475.5,949.3 h6 M845,949.3 h-6 M667.9,1102.3 v-3 M667.9,735.2 v3 M475.5,911.1 h3 M845,911.1 h-3 M706.4,1102.3 v-6 M706.4,735.2 v6 M475.5,872.9 h6 M845,872.9 h-6 M744.9,1102.3 v-3 M744.9,735.2 v3 M475.5,834.6 h3 M845,834.6 h-3 M783.4,1102.3 v-6 M783.4,735.2 v6 M475.5,796.4 h6 M845,796.4 h-6 M821.9,1102.3 v-3 M821.9,735.2 v3 M475.5,758.1 h3 M845,758.1 h-3 M514,1469.8 v-3 M514,1102.3 v3 M475.5,1431.5 h3 M845,1431.5 h-3 M552.5,1469.8 v-6 M552.5,1102.3 v6 M475.5,1393.2 h6 M845,1393.2 h-6 M591,1469.8 v-3 M591,1102.3 v3 M475.5,1355 h3 M845,1355 h-3 M629.5,1469.8 v-6 M629.5,1102.3 v6 M475.5,1316.7 h6 M845,1316.7 h-6 M667.9,1469.8 v-3 M667.9,1102.3 v3 M475.5,1278.4 h3 M845,1278.4 h-3 M706.4,1469.8 v-6 M706.4,1102.3 v6 M475.5,1240.1 h6 M845,1240.1 h-6 M744.9,1469.8 v-3 M744.9,1102.3 v3 M475.5,1201.8 h3 M845,1201.8 h-3 M783.4,1469.8 v-6 M783.4,1102.3 v6 M475.5,1163.5 h6 M845,1163.5 h-6 M821.9,1469.8 v-3 M821.9,1102.3 v3 M475.5,1125.3 h3 M845,1125.3 h-3" stroke="#000" stroke-width="2.4" fill="none"/>
<path d="M105.6,368.2 H845.0 V1469.8 H105.6 Z M475.5,368.2 V1469.8 M105.6,735.2 H845.0 M105.6,1102.3 H845.0" stroke="#000" stroke-width="3" fill="none"/>
<rect x="105.5" y="1415.2" width="39.4" height="54" fill="#fff" stroke="#000" stroke-width="2.2"/>
<text x="125.8" y="1455.5" font-size="39" font-weight="bold" fill="#000" text-anchor="middle">B</text>
<text x="97.5" y="743.9" font-size="30" fill="#000" text-anchor="end">0</text>
<text x="97.5" y="667.4" font-size="30" fill="#000" text-anchor="end">50</text>
<text x="97.5" y="591" font-size="30" fill="#000" text-anchor="end">100</text>
<text x="97.5" y="514.5" font-size="30" fill="#000" text-anchor="end">150</text>
<text x="97.5" y="438.1" font-size="30" fill="#000" text-anchor="end">200</text>
<text transform="translate(30,551.7) rotate(-90)" font-size="40" text-anchor="middle">t<tspan font-size="27.5" dy="10">1</tspan><tspan dy="-10"> (s)</tspan></text>
<text x="97.5" y="1111" font-size="30" fill="#000" text-anchor="end">0</text>
<text x="97.5" y="1034.5" font-size="30" fill="#000" text-anchor="end">50</text>
<text x="97.5" y="958" font-size="30" fill="#000" text-anchor="end">100</text>
<text x="97.5" y="881.6" font-size="30" fill="#000" text-anchor="end">150</text>
<text x="97.5" y="805.1" font-size="30" fill="#000" text-anchor="end">200</text>
<text transform="translate(30,918.8) rotate(-90)" font-size="40" text-anchor="middle">t<tspan font-size="27.5" dy="10">1</tspan><tspan dy="-10"> (s)</tspan></text>
<text x="97.5" y="1478.5" font-size="30" fill="#000" text-anchor="end">0</text>
<text x="97.5" y="1401.9" font-size="30" fill="#000" text-anchor="end">50</text>
<text x="97.5" y="1325.4" font-size="30" fill="#000" text-anchor="end">100</text>
<text x="97.5" y="1248.8" font-size="30" fill="#000" text-anchor="end">150</text>
<text x="97.5" y="1172.2" font-size="30" fill="#000" text-anchor="end">200</text>
<text transform="translate(30,1286) rotate(-90)" font-size="40" text-anchor="middle">t<tspan font-size="27.5" dy="10">1</tspan><tspan dy="-10"> (s)</tspan></text>
<text x="105.6" y="1500.6" font-size="30" fill="#000" text-anchor="middle">0</text>
<text x="182.7" y="1500.6" font-size="30" fill="#000" text-anchor="middle">50</text>
<text x="259.7" y="1500.6" font-size="30" fill="#000" text-anchor="middle">100</text>
<text x="336.8" y="1500.6" font-size="30" fill="#000" text-anchor="middle">150</text>
<text x="413.9" y="1500.6" font-size="30" fill="#000" text-anchor="middle">200</text>
<text x="290.6" y="1555.6" font-size="40" text-anchor="middle">t<tspan font-size="27.5" dy="10">2</tspan><tspan dy="-10"> (s)</tspan></text>
<text x="475.5" y="1500.6" font-size="30" fill="#000" text-anchor="middle">0</text>
<text x="552.5" y="1500.6" font-size="30" fill="#000" text-anchor="middle">50</text>
<text x="629.5" y="1500.6" font-size="30" fill="#000" text-anchor="middle">100</text>
<text x="706.4" y="1500.6" font-size="30" fill="#000" text-anchor="middle">150</text>
<text x="783.4" y="1500.6" font-size="30" fill="#000" text-anchor="middle">200</text>
<text x="660.2" y="1555.6" font-size="40" text-anchor="middle">t<tspan font-size="27.5" dy="10">2</tspan><tspan dy="-10"> (s)</tspan></text>
<clipPath id="clip0"><rect x="881.5" y="1.2" width="739.0" height="734.1999999999999"/></clipPath>
<g clip-path="url(#clip0)">
<g stroke="#cc0000" stroke-width="5.6" fill="#fff">
<path stroke-width="3.4" stroke-linecap="round" d="M880.2,94.3 v27.4 M865.9,94.3 h28.6 M865.9,121.6 h28.6"/><circle cx="880.2" cy="107.9" r="11.3"/><path stroke-width="3.4" stroke-linecap="round" d="M927.6,102.6 v27.5 M913.3,102.6 h28.6 M913.3,130.1 h28.6"/><circle cx="927.6" cy="116.4" r="11.3"/><path stroke-width="3.4" stroke-linecap="round" d="M955.4,97.9 v27.5 M941.1,97.9 h28.6 M941.1,125.4 h28.6"/><circle cx="955.4" cy="111.6" r="11.3"/><path stroke-width="3.4" stroke-linecap="round" d="M975.1,93.8 v27.6 M960.8,93.8 h28.6 M960.8,121.4 h28.6"/><circle cx="975.1" cy="107.6" r="11.3"/><path stroke-width="3.4" stroke-linecap="round" d="M990.4,98.9 v27.6 M976.1,98.9 h28.6 M976.1,126.5 h28.6"/><circle cx="990.4" cy="112.7" r="11.3"/><path stroke-width="3.4" stroke-linecap="round" d="M1002.8,95.8 v27.6 M988.5,95.8 h28.6 M988.5,123.4 h28.6"/><circle cx="1002.8" cy="109.6" r="11.3"/><path stroke-width="3.4" stroke-linecap="round" d="M1013.4,104 v27.7 M999.1,104 h28.6 M999.1,131.7 h28.6"/><circle cx="1013.4" cy="117.8" r="11.3"/><path stroke-width="3.4" stroke-linecap="round" d="M1022.5,112.6 v27.7 M1008.2,112.6 h28.6 M1008.2,140.3 h28.6"/><circle cx="1022.5" cy="126.5" r="11.3"/><path stroke-width="3.4" stroke-linecap="round" d="M1032.4,101.3 v27.7 M1018.1,101.3 h28.6 M1018.1,129 h28.6"/><circle cx="1032.4" cy="115.2" r="11.3"/><path stroke-width="3.4" stroke-linecap="round" d="M1042.2,101.1 v27.8 M1027.9,101.1 h28.6 M1027.9,128.9 h28.6"/><circle cx="1042.2" cy="115" r="11.3"/><path stroke-width="3.4" stroke-linecap="round" d="M1052.1,107.6 v27.8 M1037.8,107.6 h28.6 M1037.8,135.4 h28.6"/><circle cx="1052.1" cy="121.5" r="11.3"/><path stroke-width="3.4" stroke-linecap="round" d="M1061.9,107.1 v27.9 M1047.6,107.1 h28.6 M1047.6,135 h28.6"/><circle cx="1061.9" cy="121" r="11.3"/><path stroke-width="3.4" stroke-linecap="round" d="M1071.8,106.1 v27.9 M1057.5,106.1 h28.6 M1057.5,134 h28.6"/><circle cx="1071.8" cy="120.1" r="11.3"/><path stroke-width="3.4" stroke-linecap="round" d="M1081.6,101.7 v28 M1067.3,101.7 h28.6 M1067.3,129.7 h28.6"/><circle cx="1081.6" cy="115.7" r="11.3"/><path stroke-width="3.4" stroke-linecap="round" d="M1091.5,106.1 v28 M1077.2,106.1 h28.6 M1077.2,134.2 h28.6"/><circle cx="1091.5" cy="120.1" r="11.3"/><path stroke-width="3.4" stroke-linecap="round" d="M1101.3,109.4 v28.1 M1087,109.4 h28.6 M1087,137.5 h28.6"/><circle cx="1101.3" cy="123.5" r="11.3"/><path stroke-width="3.4" stroke-linecap="round" d="M1111.2,101.7 v28.2 M1096.9,101.7 h28.6 M1096.9,129.8 h28.6"/><circle cx="1111.2" cy="115.8" r="11.3"/><path stroke-width="3.4" stroke-linecap="round" d="M1121,105.6 v28.2 M1106.7,105.6 h28.6 M1106.7,133.8 h28.6"/><circle cx="1121" cy="119.7" r="11.3"/><path stroke-width="3.4" stroke-linecap="round" d="M1130.9,100.9 v28.3 M1116.6,100.9 h28.6 M1116.6,129.2 h28.6"/><circle cx="1130.9" cy="115" r="11.3"/><path stroke-width="3.4" stroke-linecap="round" d="M1140.7,103.7 v28.4 M1126.4,103.7 h28.6 M1126.4,132.1 h28.6"/><circle cx="1140.7" cy="117.9" r="11.3"/><path stroke-width="3.4" stroke-linecap="round" d="M1150.6,102.5 v28.5 M1136.3,102.5 h28.6 M1136.3,131 h28.6"/><circle cx="1150.6" cy="116.7" r="11.3"/><path stroke-width="3.4" stroke-linecap="round" d="M1160.3,108.3 v28.6 M1146,108.3 h28.6 M1146,136.9 h28.6"/><circle cx="1160.3" cy="122.6" r="11.3"/><path stroke-width="3.4" stroke-linecap="round" d="M1169.8,105.7 v28.7 M1155.5,105.7 h28.6 M1155.5,134.4 h28.6"/><circle cx="1169.8" cy="120" r="11.3"/><path stroke-width="3.4" stroke-linecap="round" d="M1178.9,110.9 v28.8 M1164.6,110.9 h28.6 M1164.6,139.7 h28.6"/><circle cx="1178.9" cy="125.3" r="11.3"/><path stroke-width="3.4" stroke-linecap="round" d="M1187.8,111.2 v28.9 M1173.5,111.2 h28.6 M1173.5,140.1 h28.6"/><circle cx="1187.8" cy="125.6" r="11.3"/><path stroke-width="3.4" stroke-linecap="round" d="M1196.4,110.8 v29 M1182.1,110.8 h28.6 M1182.1,139.9 h28.6"/><circle cx="1196.4" cy="125.3" r="11.3"/><path stroke-width="3.4" stroke-linecap="round" d="M1204.8,105.2 v29.1 M1190.5,105.2 h28.6 M1190.5,134.4 h28.6"/><circle cx="1204.8" cy="119.8" r="11.3"/><path stroke-width="3.4" stroke-linecap="round" d="M1213,111.4 v29.2 M1198.7,111.4 h28.6 M1198.7,140.7 h28.6"/><circle cx="1213" cy="126" r="11.3"/><path stroke-width="3.4" stroke-linecap="round" d="M1221,113.5 v29.4 M1206.7,113.5 h28.6 M1206.7,142.9 h28.6"/><circle cx="1221" cy="128.2" r="11.3"/><path stroke-width="3.4" stroke-linecap="round" d="M1228.8,114.9 v29.5 M1214.5,114.9 h28.6 M1214.5,144.3 h28.6"/><circle cx="1228.8" cy="129.6" r="11.3"/><path stroke-width="3.4" stroke-linecap="round" d="M1236.5,111.7 v29.6 M1222.2,111.7 h28.6 M1222.2,141.3 h28.6"/><circle cx="1236.5" cy="126.5" r="11.3"/><path stroke-width="3.4" stroke-linecap="round" d="M1244,115.4 v29.8 M1229.7,115.4 h28.6 M1229.7,145.2 h28.6"/><circle cx="1244" cy="130.3" r="11.3"/><path stroke-width="3.4" stroke-linecap="round" d="M1251.3,115.4 v29.9 M1237,115.4 h28.6 M1237,145.3 h28.6"/><circle cx="1251.3" cy="130.3" r="11.3"/><path stroke-width="3.4" stroke-linecap="round" d="M1258.5,117 v30 M1244.2,117 h28.6 M1244.2,147.1 h28.6"/><circle cx="1258.5" cy="132" r="11.3"/><path stroke-width="3.4" stroke-linecap="round" d="M1265.6,122.7 v30.2 M1251.3,122.7 h28.6 M1251.3,152.9 h28.6"/><circle cx="1265.6" cy="137.8" r="11.3"/><path stroke-width="3.4" stroke-linecap="round" d="M1272.5,119.8 v30.4 M1258.2,119.8 h28.6 M1258.2,150.1 h28.6"/><circle cx="1272.5" cy="135" r="11.3"/><path stroke-width="3.4" stroke-linecap="round" d="M1279.3,123.1 v30.5 M1265,123.1 h28.6 M1265,153.6 h28.6"/><circle cx="1279.3" cy="138.4" r="11.3"/><path stroke-width="3.4" stroke-linecap="round" d="M1286,126.8 v30.7 M1271.7,126.8 h28.6 M1271.7,157.5 h28.6"/><circle cx="1286" cy="142.1" r="11.3"/><path stroke-width="3.4" stroke-linecap="round" d="M1292.6,125.2 v30.9 M1278.3,125.2 h28.6 M1278.3,156.1 h28.6"/><circle cx="1292.6" cy="140.6" r="11.3"/><path stroke-width="3.4" stroke-linecap="round" d="M1299.1,128.1 v31 M1284.8,128.1 h28.6 M1284.8,159.2 h28.6"/><circle cx="1299.1" cy="143.6" r="11.3"/><path stroke-width="3.4" stroke-linecap="round" d="M1305.5,130.6 v31.2 M1291.2,130.6 h28.6 M1291.2,161.8 h28.6"/><circle cx="1305.5" cy="146.2" r="11.3"/><path stroke-width="3.4" stroke-linecap="round" d="M1311.8,132.6 v31.4 M1297.5,132.6 h28.6 M1297.5,164 h28.6"/><circle cx="1311.8" cy="148.3" r="11.3"/><path stroke-width="3.4" stroke-linecap="round" d="M1318.2,132 v31.6 M1303.9,132 h28.6 M1303.9,163.6 h28.6"/><circle cx="1318.2" cy="147.8" r="11.3"/><path stroke-width="3.4" stroke-linecap="round" d="M1324.5,137.3 v31.8 M1310.2,137.3 h28.6 M1310.2,169.1 h28.6"/><circle cx="1324.5" cy="153.2" r="11.3"/><path stroke-width="3.4" stroke-linecap="round" d="M1330.8,142.7 v32 M1316.5,142.7 h28.6 M1316.5,174.7 h28.6"/><circle cx="1330.8" cy="158.7" r="11.3"/><path stroke-width="3.4" stroke-linecap="round" d="M1337.1,139.2 v32.3 M1322.8,139.2 h28.6 M1322.8,171.4 h28.6"/><circle cx="1337.1" cy="155.3" r="11.3"/><path stroke-width="3.4" stroke-linecap="round" d="M1343.4,147.4 v32.5 M1329.1,147.4 h28.6 M1329.1,179.9 h28.6"/><circle cx="1343.4" cy="163.7" r="11.3"/><path stroke-width="3.4" stroke-linecap="round" d="M1349.7,149 v32.7 M1335.4,149 h28.6 M1335.4,181.8 h28.6"/><circle cx="1349.7" cy="165.4" r="11.3"/><path stroke-width="3.4" stroke-linecap="round" d="M1356,150.8 v33 M1341.7,150.8 h28.6 M1341.7,183.8 h28.6"/><circle cx="1356" cy="167.3" r="11.3"/><path stroke-width="3.4" stroke-linecap="round" d="M1362.3,160.2 v33.3 M1348,160.2 h28.6 M1348,193.5 h28.6"/><circle cx="1362.3" cy="176.8" r="11.3"/><path stroke-width="3.4" stroke-linecap="round" d="M1368.6,161.4 v33.6 M1354.3,161.4 h28.6 M1354.3,195 h28.6"/><circle cx="1368.6" cy="178.2" r="11.3"/><path stroke-width="3.4" stroke-linecap="round" d="M1374.9,161.3 v33.9 M1360.6,161.3 h28.6 M1360.6,195.2 h28.6"/><circle cx="1374.9" cy="178.2" r="11.3"/><path stroke-width="3.4" stroke-linecap="round" d="M1381.2,168.5 v34.2 M1366.9,168.5 h28.6 M1366.9,202.6 h28.6"/><circle cx="1381.2" cy="185.5" r="11.3"/><path stroke-width="3.4" stroke-linecap="round" d="M1387.5,174.2 v34.5 M1373.2,174.2 h28.6 M1373.2,208.7 h28.6"/><circle cx="1387.5" cy="191.4" r="11.3"/><path stroke-width="3.4" stroke-linecap="round" d="M1393.8,177.4 v34.9 M1379.5,177.4 h28.6 M1379.5,212.2 h28.6"/><circle cx="1393.8" cy="194.8" r="11.3"/><path stroke-width="3.4" stroke-linecap="round" d="M1400.1,184.5 v35.2 M1385.8,184.5 h28.6 M1385.8,219.7 h28.6"/><circle cx="1400.1" cy="202.1" r="11.3"/><path stroke-width="3.4" stroke-linecap="round" d="M1406.4,188.2 v35.6 M1392.1,188.2 h28.6 M1392.1,223.8 h28.6"/><circle cx="1406.4" cy="206" r="11.3"/><path stroke-width="3.4" stroke-linecap="round" d="M1412.7,195.5 v36 M1398.4,195.5 h28.6 M1398.4,231.5 h28.6"/><circle cx="1412.7" cy="213.5" r="11.3"/><path stroke-width="3.4" stroke-linecap="round" d="M1419,203.2 v36.4 M1404.7,203.2 h28.6 M1404.7,239.6 h28.6"/><circle cx="1419" cy="221.4" r="11.3"/><path stroke-width="3.4" stroke-linecap="round" d="M1425.3,204.5 v36.8 M1411,204.5 h28.6 M1411,241.3 h28.6"/><circle cx="1425.3" cy="222.9" r="11.3"/><path stroke-width="3.4" stroke-linecap="round" d="M1431.6,213 v37.3 M1417.3,213 h28.6 M1417.3,250.3 h28.6"/><circle cx="1431.6" cy="231.6" r="11.3"/><path stroke-width="3.4" stroke-linecap="round" d="M1437.9,218.2 v37.8 M1423.6,218.2 h28.6 M1423.6,255.9 h28.6"/><circle cx="1437.9" cy="237" r="11.3"/><path stroke-width="3.4" stroke-linecap="round" d="M1444.2,226.6 v38.3 M1429.9,226.6 h28.6 M1429.9,264.9 h28.6"/><circle cx="1444.2" cy="245.7" r="11.3"/><path stroke-width="3.4" stroke-linecap="round" d="M1450.5,230.8 v38.8 M1436.2,230.8 h28.6 M1436.2,269.5 h28.6"/><circle cx="1450.5" cy="250.1" r="11.3"/><path stroke-width="3.4" stroke-linecap="round" d="M1456.8,240 v39.3 M1442.5,240 h28.6 M1442.5,279.3 h28.6"/><circle cx="1456.8" cy="259.6" r="11.3"/><path stroke-width="3.4" stroke-linecap="round" d="M1463.1,249.1 v39.9 M1448.8,249.1 h28.6 M1448.8,289 h28.6"/><circle cx="1463.1" cy="269.1" r="11.3"/><path stroke-width="3.4" stroke-linecap="round" d="M1469.4,260.7 v40.5 M1455.1,260.7 h28.6 M1455.1,301.2 h28.6"/><circle cx="1469.4" cy="281" r="11.3"/><path stroke-width="3.4" stroke-linecap="round" d="M1475.8,270.8 v41.1 M1461.5,270.8 h28.6 M1461.5,312 h28.6"/><circle cx="1475.8" cy="291.4" r="11.3"/><path stroke-width="3.4" stroke-linecap="round" d="M1482.1,274.3 v41.8 M1467.8,274.3 h28.6 M1467.8,316.1 h28.6"/><circle cx="1482.1" cy="295.2" r="11.3"/><path stroke-width="3.4" stroke-linecap="round" d="M1488.4,286.9 v42.5 M1474.1,286.9 h28.6 M1474.1,329.4 h28.6"/><circle cx="1488.4" cy="308.1" r="11.3"/><path stroke-width="3.4" stroke-linecap="round" d="M1494.7,303.4 v43.2 M1480.4,303.4 h28.6 M1480.4,346.6 h28.6"/><circle cx="1494.7" cy="325" r="11.3"/><path stroke-width="3.4" stroke-linecap="round" d="M1501,309.3 v43.9 M1486.7,309.3 h28.6 M1486.7,353.2 h28.6"/><circle cx="1501" cy="331.2" r="11.3"/><path stroke-width="3.4" stroke-linecap="round" d="M1507.3,329.3 v44.7 M1493,329.3 h28.6 M1493,374.1 h28.6"/><circle cx="1507.3" cy="351.7" r="11.3"/><path stroke-width="3.4" stroke-linecap="round" d="M1513.6,347.9 v45.6 M1499.3,347.9 h28.6 M1499.3,393.4 h28.6"/><circle cx="1513.6" cy="370.6" r="11.3"/><path stroke-width="3.4" stroke-linecap="round" d="M1519.9,372 v46.4 M1505.6,372 h28.6 M1505.6,418.4 h28.6"/><circle cx="1519.9" cy="395.2" r="11.3"/><path stroke-width="3.4" stroke-linecap="round" d="M1526.2,392 v47.3 M1511.9,392 h28.6 M1511.9,439.3 h28.6"/><circle cx="1526.2" cy="415.6" r="11.3"/><path stroke-width="3.4" stroke-linecap="round" d="M1532.5,412.4 v48.3 M1518.2,412.4 h28.6 M1518.2,460.7 h28.6"/><circle cx="1532.5" cy="436.5" r="11.3"/><path stroke-width="3.4" stroke-linecap="round" d="M1538.8,438.3 v49.3 M1524.5,438.3 h28.6 M1524.5,487.5 h28.6"/><circle cx="1538.8" cy="462.9" r="11.3"/>
</g>
<g stroke="#cc0000" stroke-width="5.6" fill="#fff">
<path stroke-width="3.4" stroke-linecap="round" d="M880.2,123.7 v27.4 M865.9,123.7 h28.6 M865.9,151.1 h28.6"/><circle cx="880.2" cy="137.4" r="11.3"/><path stroke-width="3.4" stroke-linecap="round" d="M927.6,145.6 v27.5 M913.3,145.6 h28.6 M913.3,173.1 h28.6"/><circle cx="927.6" cy="159.4" r="11.3"/><path stroke-width="3.4" stroke-linecap="round" d="M955.4,121.4 v27.5 M941.1,121.4 h28.6 M941.1,148.9 h28.6"/><circle cx="955.4" cy="135.1" r="11.3"/><path stroke-width="3.4" stroke-linecap="round" d="M975.1,123.4 v27.6 M960.8,123.4 h28.6 M960.8,151 h28.6"/><circle cx="975.1" cy="137.2" r="11.3"/><path stroke-width="3.4" stroke-linecap="round" d="M990.4,129.6 v27.6 M976.1,129.6 h28.6 M976.1,157.2 h28.6"/><circle cx="990.4" cy="143.4" r="11.3"/><path stroke-width="3.4" stroke-linecap="round" d="M1002.8,126.5 v27.6 M988.5,126.5 h28.6 M988.5,154.1 h28.6"/><circle cx="1002.8" cy="140.3" r="11.3"/><path stroke-width="3.4" stroke-linecap="round" d="M1013.4,126.7 v27.7 M999.1,126.7 h28.6 M999.1,154.4 h28.6"/><circle cx="1013.4" cy="140.6" r="11.3"/><path stroke-width="3.4" stroke-linecap="round" d="M1022.5,121.6 v27.7 M1008.2,121.6 h28.6 M1008.2,149.3 h28.6"/><circle cx="1022.5" cy="135.5" r="11.3"/><path stroke-width="3.4" stroke-linecap="round" d="M1032.4,129.6 v27.7 M1018.1,129.6 h28.6 M1018.1,157.4 h28.6"/><circle cx="1032.4" cy="143.5" r="11.3"/><path stroke-width="3.4" stroke-linecap="round" d="M1042.2,128.2 v27.8 M1027.9,128.2 h28.6 M1027.9,156 h28.6"/><circle cx="1042.2" cy="142.1" r="11.3"/><path stroke-width="3.4" stroke-linecap="round" d="M1052.1,138.2 v27.8 M1037.8,138.2 h28.6 M1037.8,166 h28.6"/><circle cx="1052.1" cy="152.1" r="11.3"/><path stroke-width="3.4" stroke-linecap="round" d="M1061.9,136.6 v27.9 M1047.6,136.6 h28.6 M1047.6,164.4 h28.6"/><circle cx="1061.9" cy="150.5" r="11.3"/><path stroke-width="3.4" stroke-linecap="round" d="M1071.8,134.6 v27.9 M1057.5,134.6 h28.6 M1057.5,162.5 h28.6"/><circle cx="1071.8" cy="148.6" r="11.3"/><path stroke-width="3.4" stroke-linecap="round" d="M1081.6,139.4 v28 M1067.3,139.4 h28.6 M1067.3,167.4 h28.6"/><circle cx="1081.6" cy="153.4" r="11.3"/><path stroke-width="3.4" stroke-linecap="round" d="M1091.5,136.7 v28 M1077.2,136.7 h28.6 M1077.2,164.8 h28.6"/><circle cx="1091.5" cy="150.7" r="11.3"/><path stroke-width="3.4" stroke-linecap="round" d="M1101.3,144.5 v28.1 M1087,144.5 h28.6 M1087,172.6 h28.6"/><circle cx="1101.3" cy="158.6" r="11.3"/><path stroke-width="3.4" stroke-linecap="round" d="M1111.2,142.4 v28.2 M1096.9,142.4 h28.6 M1096.9,170.5 h28.6"/><circle cx="1111.2" cy="156.5" r="11.3"/><path stroke-width="3.4" stroke-linecap="round" d="M1121,147 v28.2 M1106.7,147 h28.6 M1106.7,175.2 h28.6"/><circle cx="1121" cy="161.1" r="11.3"/><path stroke-width="3.4" stroke-linecap="round" d="M1130.9,142.9 v28.3 M1116.6,142.9 h28.6 M1116.6,171.2 h28.6"/><circle cx="1130.9" cy="157" r="11.3"/><path stroke-width="3.4" stroke-linecap="round" d="M1140.7,151.5 v28.4 M1126.4,151.5 h28.6 M1126.4,179.9 h28.6"/><circle cx="1140.7" cy="165.7" r="11.3"/><path stroke-width="3.4" stroke-linecap="round" d="M1150.6,147.9 v28.5 M1136.3,147.9 h28.6 M1136.3,176.4 h28.6"/><circle cx="1150.6" cy="162.2" r="11.3"/><path stroke-width="3.4" stroke-linecap="round" d="M1160.3,150.4 v28.6 M1146,150.4 h28.6 M1146,179 h28.6"/><circle cx="1160.3" cy="164.7" r="11.3"/><path stroke-width="3.4" stroke-linecap="round" d="M1169.8,159.4 v28.7 M1155.5,159.4 h28.6 M1155.5,188 h28.6"/><circle cx="1169.8" cy="173.7" r="11.3"/><path stroke-width="3.4" stroke-linecap="round" d="M1178.9,161.3 v28.8 M1164.6,161.3 h28.6 M1164.6,190.1 h28.6"/><circle cx="1178.9" cy="175.7" r="11.3"/><path stroke-width="3.4" stroke-linecap="round" d="M1187.8,168.2 v28.9 M1173.5,168.2 h28.6 M1173.5,197.1 h28.6"/><circle cx="1187.8" cy="182.6" r="11.3"/><path stroke-width="3.4" stroke-linecap="round" d="M1196.4,177.9 v29 M1182.1,177.9 h28.6 M1182.1,206.9 h28.6"/><circle cx="1196.4" cy="192.4" r="11.3"/><path stroke-width="3.4" stroke-linecap="round" d="M1204.8,173.4 v29.1 M1190.5,173.4 h28.6 M1190.5,202.5 h28.6"/><circle cx="1204.8" cy="188" r="11.3"/><path stroke-width="3.4" stroke-linecap="round" d="M1213,178.2 v29.2 M1198.7,178.2 h28.6 M1198.7,207.5 h28.6"/><circle cx="1213" cy="192.8" r="11.3"/><path stroke-width="3.4" stroke-linecap="round" d="M1221,184.7 v29.4 M1206.7,184.7 h28.6 M1206.7,214.1 h28.6"/><circle cx="1221" cy="199.4" r="11.3"/><path stroke-width="3.4" stroke-linecap="round" d="M1228.8,189.9 v29.5 M1214.5,189.9 h28.6 M1214.5,219.4 h28.6"/><circle cx="1228.8" cy="204.7" r="11.3"/><path stroke-width="3.4" stroke-linecap="round" d="M1236.5,192.8 v29.6 M1222.2,192.8 h28.6 M1222.2,222.4 h28.6"/><circle cx="1236.5" cy="207.6" r="11.3"/><path stroke-width="3.4" stroke-linecap="round" d="M1244,197.5 v29.8 M1229.7,197.5 h28.6 M1229.7,227.2 h28.6"/><circle cx="1244" cy="212.4" r="11.3"/><path stroke-width="3.4" stroke-linecap="round" d="M1251.3,204.6 v29.9 M1237,204.6 h28.6 M1237,234.5 h28.6"/><circle cx="1251.3" cy="219.5" r="11.3"/><path stroke-width="3.4" stroke-linecap="round" d="M1258.5,209.1 v30 M1244.2,209.1 h28.6 M1244.2,239.2 h28.6"/><circle cx="1258.5" cy="224.1" r="11.3"/><path stroke-width="3.4" stroke-linecap="round" d="M1265.6,210.6 v30.2 M1251.3,210.6 h28.6 M1251.3,240.8 h28.6"/><circle cx="1265.6" cy="225.7" r="11.3"/><path stroke-width="3.4" stroke-linecap="round" d="M1272.5,218.2 v30.4 M1258.2,218.2 h28.6 M1258.2,248.5 h28.6"/><circle cx="1272.5" cy="233.3" r="11.3"/><path stroke-width="3.4" stroke-linecap="round" d="M1279.3,223.9 v30.5 M1265,223.9 h28.6 M1265,254.4 h28.6"/><circle cx="1279.3" cy="239.2" r="11.3"/><path stroke-width="3.4" stroke-linecap="round" d="M1286,227.1 v30.7 M1271.7,227.1 h28.6 M1271.7,257.8 h28.6"/><circle cx="1286" cy="242.4" r="11.3"/><path stroke-width="3.4" stroke-linecap="round" d="M1292.6,235.9 v30.9 M1278.3,235.9 h28.6 M1278.3,266.8 h28.6"/><circle cx="1292.6" cy="251.3" r="11.3"/><path stroke-width="3.4" stroke-linecap="round" d="M1299.1,239.5 v31 M1284.8,239.5 h28.6 M1284.8,270.5 h28.6"/><circle cx="1299.1" cy="255" r="11.3"/><path stroke-width="3.4" stroke-linecap="round" d="M1305.5,249.8 v31.2 M1291.2,249.8 h28.6 M1291.2,281 h28.6"/><circle cx="1305.5" cy="265.4" r="11.3"/><path stroke-width="3.4" stroke-linecap="round" d="M1311.8,254.7 v31.4 M1297.5,254.7 h28.6 M1297.5,286.1 h28.6"/><circle cx="1311.8" cy="270.4" r="11.3"/><path stroke-width="3.4" stroke-linecap="round" d="M1318.2,261.4 v31.6 M1303.9,261.4 h28.6 M1303.9,293 h28.6"/><circle cx="1318.2" cy="277.2" r="11.3"/><path stroke-width="3.4" stroke-linecap="round" d="M1324.5,267.3 v31.8 M1310.2,267.3 h28.6 M1310.2,299.1 h28.6"/><circle cx="1324.5" cy="283.2" r="11.3"/><path stroke-width="3.4" stroke-linecap="round" d="M1330.8,276.3 v32 M1316.5,276.3 h28.6 M1316.5,308.3 h28.6"/><circle cx="1330.8" cy="292.3" r="11.3"/><path stroke-width="3.4" stroke-linecap="round" d="M1337.1,280.7 v32.3 M1322.8,280.7 h28.6 M1322.8,312.9 h28.6"/><circle cx="1337.1" cy="296.8" r="11.3"/><path stroke-width="3.4" stroke-linecap="round" d="M1343.4,291.8 v32.5 M1329.1,291.8 h28.6 M1329.1,324.3 h28.6"/><circle cx="1343.4" cy="308" r="11.3"/><path stroke-width="3.4" stroke-linecap="round" d="M1349.7,305 v32.7 M1335.4,305 h28.6 M1335.4,337.7 h28.6"/><circle cx="1349.7" cy="321.4" r="11.3"/><path stroke-width="3.4" stroke-linecap="round" d="M1356,310.4 v33 M1341.7,310.4 h28.6 M1341.7,343.4 h28.6"/><circle cx="1356" cy="326.9" r="11.3"/><path stroke-width="3.4" stroke-linecap="round" d="M1362.3,328.7 v33.3 M1348,328.7 h28.6 M1348,362 h28.6"/><circle cx="1362.3" cy="345.4" r="11.3"/><path stroke-width="3.4" stroke-linecap="round" d="M1368.6,336.1 v33.6 M1354.3,336.1 h28.6 M1354.3,369.6 h28.6"/><circle cx="1368.6" cy="352.8" r="11.3"/><path stroke-width="3.4" stroke-linecap="round" d="M1374.9,355.7 v33.9 M1360.6,355.7 h28.6 M1360.6,389.5 h28.6"/><circle cx="1374.9" cy="372.6" r="11.3"/><path stroke-width="3.4" stroke-linecap="round" d="M1381.2,367.7 v34.2 M1366.9,367.7 h28.6 M1366.9,401.8 h28.6"/><circle cx="1381.2" cy="384.7" r="11.3"/><path stroke-width="3.4" stroke-linecap="round" d="M1387.5,388.1 v34.5 M1373.2,388.1 h28.6 M1373.2,422.6 h28.6"/><circle cx="1387.5" cy="405.3" r="11.3"/><path stroke-width="3.4" stroke-linecap="round" d="M1393.8,404.9 v34.9 M1379.5,404.9 h28.6 M1379.5,439.8 h28.6"/><circle cx="1393.8" cy="422.4" r="11.3"/><path stroke-width="3.4" stroke-linecap="round" d="M1400.1,420.9 v35.2 M1385.8,420.9 h28.6 M1385.8,456.1 h28.6"/><circle cx="1400.1" cy="438.5" r="11.3"/><path stroke-width="3.4" stroke-linecap="round" d="M1406.4,447.9 v35.6 M1392.1,447.9 h28.6 M1392.1,483.5 h28.6"/><circle cx="1406.4" cy="465.7" r="11.3"/><path stroke-width="3.4" stroke-linecap="round" d="M1412.7,470.2 v36 M1398.4,470.2 h28.6 M1398.4,506.2 h28.6"/><circle cx="1412.7" cy="488.2" r="11.3"/><path stroke-width="3.4" stroke-linecap="round" d="M1419,489.2 v36.4 M1404.7,489.2 h28.6 M1404.7,525.6 h28.6"/><circle cx="1419" cy="507.4" r="11.3"/><path stroke-width="3.4" stroke-linecap="round" d="M1425.3,511.2 v36.8 M1411,511.2 h28.6 M1411,548 h28.6"/><circle cx="1425.3" cy="529.6" r="11.3"/><path stroke-width="3.4" stroke-linecap="round" d="M1431.6,533.3 v37.3 M1417.3,533.3 h28.6 M1417.3,570.6 h28.6"/><circle cx="1431.6" cy="551.9" r="11.3"/><path stroke-width="3.4" stroke-linecap="round" d="M1437.9,551.9 v37.8 M1423.6,551.9 h28.6 M1423.6,589.6 h28.6"/><circle cx="1437.9" cy="570.8" r="11.3"/><path stroke-width="3.4" stroke-linecap="round" d="M1444.2,575.3 v38.3 M1429.9,575.3 h28.6 M1429.9,613.5 h28.6"/><circle cx="1444.2" cy="594.4" r="11.3"/><path stroke-width="3.4" stroke-linecap="round" d="M1450.5,587 v38.8 M1436.2,587 h28.6 M1436.2,625.8 h28.6"/><circle cx="1450.5" cy="606.4" r="11.3"/><path stroke-width="3.4" stroke-linecap="round" d="M1456.8,600.8 v39.3 M1442.5,600.8 h28.6 M1442.5,640.1 h28.6"/><circle cx="1456.8" cy="620.5" r="11.3"/><path stroke-width="3.4" stroke-linecap="round" d="M1463.1,608.3 v39.9 M1448.8,608.3 h28.6 M1448.8,648.2 h28.6"/><circle cx="1463.1" cy="628.2" r="11.3"/><path stroke-width="3.4" stroke-linecap="round" d="M1469.4,615 v40.5 M1455.1,615 h28.6 M1455.1,655.5 h28.6"/><circle cx="1469.4" cy="635.2" r="11.3"/><path stroke-width="3.4" stroke-linecap="round" d="M1475.8,617 v41.1 M1461.5,617 h28.6 M1461.5,658.1 h28.6"/><circle cx="1475.8" cy="637.6" r="11.3"/><path stroke-width="3.4" stroke-linecap="round" d="M1482.1,625.9 v41.8 M1467.8,625.9 h28.6 M1467.8,667.6 h28.6"/><circle cx="1482.1" cy="646.8" r="11.3"/><path stroke-width="3.4" stroke-linecap="round" d="M1488.4,622.8 v42.5 M1474.1,622.8 h28.6 M1474.1,665.3 h28.6"/><circle cx="1488.4" cy="644" r="11.3"/><path stroke-width="3.4" stroke-linecap="round" d="M1494.7,626.2 v43.2 M1480.4,626.2 h28.6 M1480.4,669.4 h28.6"/><circle cx="1494.7" cy="647.8" r="11.3"/><path stroke-width="3.4" stroke-linecap="round" d="M1501,623.3 v43.9 M1486.7,623.3 h28.6 M1486.7,667.3 h28.6"/><circle cx="1501" cy="645.3" r="11.3"/><path stroke-width="3.4" stroke-linecap="round" d="M1507.3,620.9 v44.7 M1493,620.9 h28.6 M1493,665.6 h28.6"/><circle cx="1507.3" cy="643.2" r="11.3"/><path stroke-width="3.4" stroke-linecap="round" d="M1513.6,621.6 v45.6 M1499.3,621.6 h28.6 M1499.3,667.2 h28.6"/><circle cx="1513.6" cy="644.4" r="11.3"/><path stroke-width="3.4" stroke-linecap="round" d="M1519.9,620.4 v46.4 M1505.6,620.4 h28.6 M1505.6,666.9 h28.6"/><circle cx="1519.9" cy="643.6" r="11.3"/><path stroke-width="3.4" stroke-linecap="round" d="M1526.2,621.9 v47.3 M1511.9,621.9 h28.6 M1511.9,669.3 h28.6"/><circle cx="1526.2" cy="645.6" r="11.3"/><path stroke-width="3.4" stroke-linecap="round" d="M1532.5,620.1 v48.3 M1518.2,620.1 h28.6 M1518.2,668.4 h28.6"/><circle cx="1532.5" cy="644.2" r="11.3"/><path stroke-width="3.4" stroke-linecap="round" d="M1538.8,619.8 v49.3 M1524.5,619.8 h28.6 M1524.5,669.1 h28.6"/><circle cx="1538.8" cy="644.5" r="11.3"/>
</g>
<g stroke="#cc0000" stroke-width="5.6" fill="#fff">
<path stroke-width="3.4" stroke-linecap="round" d="M880.2,180.7 v27.4 M865.9,180.7 h28.6 M865.9,208 h28.6"/><circle cx="880.2" cy="194.4" r="11.3"/><path stroke-width="3.4" stroke-linecap="round" d="M927.6,215.3 v27.5 M913.3,215.3 h28.6 M913.3,242.7 h28.6"/><circle cx="927.6" cy="229" r="11.3"/><path stroke-width="3.4" stroke-linecap="round" d="M955.4,256.1 v27.5 M941.1,256.1 h28.6 M941.1,283.6 h28.6"/><circle cx="955.4" cy="269.9" r="11.3"/><path stroke-width="3.4" stroke-linecap="round" d="M975.1,268.4 v27.6 M960.8,268.4 h28.6 M960.8,296 h28.6"/><circle cx="975.1" cy="282.2" r="11.3"/><path stroke-width="3.4" stroke-linecap="round" d="M990.4,288.3 v27.6 M976.1,288.3 h28.6 M976.1,315.9 h28.6"/><circle cx="990.4" cy="302.1" r="11.3"/><path stroke-width="3.4" stroke-linecap="round" d="M1002.8,313.9 v27.6 M988.5,313.9 h28.6 M988.5,341.6 h28.6"/><circle cx="1002.8" cy="327.8" r="11.3"/><path stroke-width="3.4" stroke-linecap="round" d="M1013.4,335.3 v27.7 M999.1,335.3 h28.6 M999.1,363 h28.6"/><circle cx="1013.4" cy="349.1" r="11.3"/><path stroke-width="3.4" stroke-linecap="round" d="M1022.5,336.1 v27.7 M1008.2,336.1 h28.6 M1008.2,363.9 h28.6"/><circle cx="1022.5" cy="350" r="11.3"/><path stroke-width="3.4" stroke-linecap="round" d="M1032.4,357.6 v27.7 M1018.1,357.6 h28.6 M1018.1,385.3 h28.6"/><circle cx="1032.4" cy="371.4" r="11.3"/><path stroke-width="3.4" stroke-linecap="round" d="M1042.2,371.6 v27.8 M1027.9,371.6 h28.6 M1027.9,399.3 h28.6"/><circle cx="1042.2" cy="385.5" r="11.3"/><path stroke-width="3.4" stroke-linecap="round" d="M1052.1,382.9 v27.8 M1037.8,382.9 h28.6 M1037.8,410.8 h28.6"/><circle cx="1052.1" cy="396.9" r="11.3"/><path stroke-width="3.4" stroke-linecap="round" d="M1061.9,411.1 v27.9 M1047.6,411.1 h28.6 M1047.6,439 h28.6"/><circle cx="1061.9" cy="425.1" r="11.3"/><path stroke-width="3.4" stroke-linecap="round" d="M1071.8,425.4 v27.9 M1057.5,425.4 h28.6 M1057.5,453.3 h28.6"/><circle cx="1071.8" cy="439.4" r="11.3"/><path stroke-width="3.4" stroke-linecap="round" d="M1081.6,444 v28 M1067.3,444 h28.6 M1067.3,471.9 h28.6"/><circle cx="1081.6" cy="458" r="11.3"/><path stroke-width="3.4" stroke-linecap="round" d="M1091.5,458.8 v28 M1077.2,458.8 h28.6 M1077.2,486.9 h28.6"/><circle cx="1091.5" cy="472.9" r="11.3"/><path stroke-width="3.4" stroke-linecap="round" d="M1101.3,482.6 v28.1 M1087,482.6 h28.6 M1087,510.7 h28.6"/><circle cx="1101.3" cy="496.7" r="11.3"/><path stroke-width="3.4" stroke-linecap="round" d="M1111.2,496.8 v28.2 M1096.9,496.8 h28.6 M1096.9,524.9 h28.6"/><circle cx="1111.2" cy="510.8" r="11.3"/><path stroke-width="3.4" stroke-linecap="round" d="M1121,516.4 v28.2 M1106.7,516.4 h28.6 M1106.7,544.7 h28.6"/><circle cx="1121" cy="530.6" r="11.3"/><path stroke-width="3.4" stroke-linecap="round" d="M1130.9,529.6 v28.3 M1116.6,529.6 h28.6 M1116.6,558 h28.6"/><circle cx="1130.9" cy="543.8" r="11.3"/><path stroke-width="3.4" stroke-linecap="round" d="M1140.7,545.5 v28.4 M1126.4,545.5 h28.6 M1126.4,573.9 h28.6"/><circle cx="1140.7" cy="559.7" r="11.3"/><path stroke-width="3.4" stroke-linecap="round" d="M1150.6,571.2 v28.5 M1136.3,571.2 h28.6 M1136.3,599.7 h28.6"/><circle cx="1150.6" cy="585.5" r="11.3"/><path stroke-width="3.4" stroke-linecap="round" d="M1160.3,577 v28.6 M1146,577 h28.6 M1146,605.6 h28.6"/><circle cx="1160.3" cy="591.3" r="11.3"/><path stroke-width="3.4" stroke-linecap="round" d="M1169.8,591.7 v28.7 M1155.5,591.7 h28.6 M1155.5,620.4 h28.6"/><circle cx="1169.8" cy="606.1" r="11.3"/><path stroke-width="3.4" stroke-linecap="round" d="M1178.9,599.9 v28.8 M1164.6,599.9 h28.6 M1164.6,628.7 h28.6"/><circle cx="1178.9" cy="614.3" r="11.3"/><path stroke-width="3.4" stroke-linecap="round" d="M1187.8,606 v28.9 M1173.5,606 h28.6 M1173.5,634.9 h28.6"/><circle cx="1187.8" cy="620.5" r="11.3"/><path stroke-width="3.4" stroke-linecap="round" d="M1196.4,611.9 v29 M1182.1,611.9 h28.6 M1182.1,640.9 h28.6"/><circle cx="1196.4" cy="626.4" r="11.3"/><path stroke-width="3.4" stroke-linecap="round" d="M1204.8,621.4 v29.1 M1190.5,621.4 h28.6 M1190.5,650.5 h28.6"/><circle cx="1204.8" cy="636" r="11.3"/><path stroke-width="3.4" stroke-linecap="round" d="M1213,622 v29.2 M1198.7,622 h28.6 M1198.7,651.2 h28.6"/><circle cx="1213" cy="636.6" r="11.3"/><path stroke-width="3.4" stroke-linecap="round" d="M1221,624.9 v29.4 M1206.7,624.9 h28.6 M1206.7,654.3 h28.6"/><circle cx="1221" cy="639.6" r="11.3"/><path stroke-width="3.4" stroke-linecap="round" d="M1228.8,627.1 v29.5 M1214.5,627.1 h28.6 M1214.5,656.6 h28.6"/><circle cx="1228.8" cy="641.8" r="11.3"/><path stroke-width="3.4" stroke-linecap="round" d="M1236.5,630.2 v29.6 M1222.2,630.2 h28.6 M1222.2,659.8 h28.6"/><circle cx="1236.5" cy="645" r="11.3"/><path stroke-width="3.4" stroke-linecap="round" d="M1244,630.3 v29.8 M1229.7,630.3 h28.6 M1229.7,660 h28.6"/><circle cx="1244" cy="645.2" r="11.3"/><path stroke-width="3.4" stroke-linecap="round" d="M1251.3,630.3 v29.9 M1237,630.3 h28.6 M1237,660.2 h28.6"/><circle cx="1251.3" cy="645.3" r="11.3"/><path stroke-width="3.4" stroke-linecap="round" d="M1258.5,629.1 v30 M1244.2,629.1 h28.6 M1244.2,659.2 h28.6"/><circle cx="1258.5" cy="644.2" r="11.3"/><path stroke-width="3.4" stroke-linecap="round" d="M1265.6,628 v30.2 M1251.3,628 h28.6 M1251.3,658.2 h28.6"/><circle cx="1265.6" cy="643.1" r="11.3"/><path stroke-width="3.4" stroke-linecap="round" d="M1272.5,631.8 v30.4 M1258.2,631.8 h28.6 M1258.2,662.1 h28.6"/><circle cx="1272.5" cy="646.9" r="11.3"/><path stroke-width="3.4" stroke-linecap="round" d="M1279.3,631.8 v30.5 M1265,631.8 h28.6 M1265,662.3 h28.6"/><circle cx="1279.3" cy="647.1" r="11.3"/><path stroke-width="3.4" stroke-linecap="round" d="M1286,630 v30.7 M1271.7,630 h28.6 M1271.7,660.7 h28.6"/><circle cx="1286" cy="645.3" r="11.3"/><path stroke-width="3.4" stroke-linecap="round" d="M1292.6,631 v30.9 M1278.3,631 h28.6 M1278.3,661.9 h28.6"/><circle cx="1292.6" cy="646.4" r="11.3"/><path stroke-width="3.4" stroke-linecap="round" d="M1299.1,631.3 v31 M1284.8,631.3 h28.6 M1284.8,662.4 h28.6"/><circle cx="1299.1" cy="646.8" r="11.3"/><path stroke-width="3.4" stroke-linecap="round" d="M1305.5,631.3 v31.2 M1291.2,631.3 h28.6 M1291.2,662.5 h28.6"/><circle cx="1305.5" cy="646.9" r="11.3"/><path stroke-width="3.4" stroke-linecap="round" d="M1311.8,631.4 v31.4 M1297.5,631.4 h28.6 M1297.5,662.8 h28.6"/><circle cx="1311.8" cy="647.1" r="11.3"/><path stroke-width="3.4" stroke-linecap="round" d="M1318.2,629.1 v31.6 M1303.9,629.1 h28.6 M1303.9,660.7 h28.6"/><circle cx="1318.2" cy="644.9" r="11.3"/><path stroke-width="3.4" stroke-linecap="round" d="M1324.5,632.1 v31.8 M1310.2,632.1 h28.6 M1310.2,664 h28.6"/><circle cx="1324.5" cy="648" r="11.3"/><path stroke-width="3.4" stroke-linecap="round" d="M1330.8,627.6 v32 M1316.5,627.6 h28.6 M1316.5,659.6 h28.6"/><circle cx="1330.8" cy="643.6" r="11.3"/><path stroke-width="3.4" stroke-linecap="round" d="M1337.1,630.9 v32.3 M1322.8,630.9 h28.6 M1322.8,663.1 h28.6"/><circle cx="1337.1" cy="647" r="11.3"/><path stroke-width="3.4" stroke-linecap="round" d="M1343.4,630.2 v32.5 M1329.1,630.2 h28.6 M1329.1,662.7 h28.6"/><circle cx="1343.4" cy="646.4" r="11.3"/><path stroke-width="3.4" stroke-linecap="round" d="M1349.7,630.7 v32.7 M1335.4,630.7 h28.6 M1335.4,663.4 h28.6"/><circle cx="1349.7" cy="647" r="11.3"/><path stroke-width="3.4" stroke-linecap="round" d="M1356,632.2 v33 M1341.7,632.2 h28.6 M1341.7,665.2 h28.6"/><circle cx="1356" cy="648.7" r="11.3"/><path stroke-width="3.4" stroke-linecap="round" d="M1362.3,631.4 v33.3 M1348,631.4 h28.6 M1348,664.7 h28.6"/><circle cx="1362.3" cy="648.1" r="11.3"/><path stroke-width="3.4" stroke-linecap="round" d="M1368.6,626.9 v33.6 M1354.3,626.9 h28.6 M1354.3,660.5 h28.6"/><circle cx="1368.6" cy="643.7" r="11.3"/><path stroke-width="3.4" stroke-linecap="round" d="M1374.9,625.8 v33.9 M1360.6,625.8 h28.6 M1360.6,659.7 h28.6"/><circle cx="1374.9" cy="642.7" r="11.3"/><path stroke-width="3.4" stroke-linecap="round" d="M1381.2,629.9 v34.2 M1366.9,629.9 h28.6 M1366.9,664.1 h28.6"/><circle cx="1381.2" cy="647" r="11.3"/><path stroke-width="3.4" stroke-linecap="round" d="M1387.5,626.6 v34.5 M1373.2,626.6 h28.6 M1373.2,661.1 h28.6"/><circle cx="1387.5" cy="643.8" r="11.3"/><path stroke-width="3.4" stroke-linecap="round" d="M1393.8,628.2 v34.9 M1379.5,628.2 h28.6 M1379.5,663 h28.6"/><circle cx="1393.8" cy="645.6" r="11.3"/><path stroke-width="3.4" stroke-linecap="round" d="M1400.1,629.5 v35.2 M1385.8,629.5 h28.6 M1385.8,664.7 h28.6"/><circle cx="1400.1" cy="647.1" r="11.3"/><path stroke-width="3.4" stroke-linecap="round" d="M1406.4,624.8 v35.6 M1392.1,624.8 h28.6 M1392.1,660.4 h28.6"/><circle cx="1406.4" cy="642.6" r="11.3"/><path stroke-width="3.4" stroke-linecap="round" d="M1412.7,623.7 v36 M1398.4,623.7 h28.6 M1398.4,659.7 h28.6"/><circle cx="1412.7" cy="641.7" r="11.3"/><path stroke-width="3.4" stroke-linecap="round" d="M1419,627.9 v36.4 M1404.7,627.9 h28.6 M1404.7,664.3 h28.6"/><circle cx="1419" cy="646.1" r="11.3"/><path stroke-width="3.4" stroke-linecap="round" d="M1425.3,627.3 v36.8 M1411,627.3 h28.6 M1411,664.1 h28.6"/><circle cx="1425.3" cy="645.7" r="11.3"/><path stroke-width="3.4" stroke-linecap="round" d="M1431.6,626.5 v37.3 M1417.3,626.5 h28.6 M1417.3,663.8 h28.6"/><circle cx="1431.6" cy="645.1" r="11.3"/><path stroke-width="3.4" stroke-linecap="round" d="M1437.9,626.8 v37.8 M1423.6,626.8 h28.6 M1423.6,664.6 h28.6"/><circle cx="1437.9" cy="645.7" r="11.3"/><path stroke-width="3.4" stroke-linecap="round" d="M1444.2,624.7 v38.3 M1429.9,624.7 h28.6 M1429.9,663 h28.6"/><circle cx="1444.2" cy="643.9" r="11.3"/><path stroke-width="3.4" stroke-linecap="round" d="M1450.5,623.1 v38.8 M1436.2,623.1 h28.6 M1436.2,661.9 h28.6"/><circle cx="1450.5" cy="642.5" r="11.3"/><path stroke-width="3.4" stroke-linecap="round" d="M1456.8,625.6 v39.3 M1442.5,625.6 h28.6 M1442.5,664.9 h28.6"/><circle cx="1456.8" cy="645.2" r="11.3"/><path stroke-width="3.4" stroke-linecap="round" d="M1463.1,623.5 v39.9 M1448.8,623.5 h28.6 M1448.8,663.4 h28.6"/><circle cx="1463.1" cy="643.5" r="11.3"/><path stroke-width="3.4" stroke-linecap="round" d="M1469.4,621.7 v40.5 M1455.1,621.7 h28.6 M1455.1,662.2 h28.6"/><circle cx="1469.4" cy="641.9" r="11.3"/><path stroke-width="3.4" stroke-linecap="round" d="M1475.8,626.2 v41.1 M1461.5,626.2 h28.6 M1461.5,667.3 h28.6"/><circle cx="1475.8" cy="646.8" r="11.3"/><path stroke-width="3.4" stroke-linecap="round" d="M1482.1,624.6 v41.8 M1467.8,624.6 h28.6 M1467.8,666.3 h28.6"/><circle cx="1482.1" cy="645.5" r="11.3"/><path stroke-width="3.4" stroke-linecap="round" d="M1488.4,625.4 v42.5 M1474.1,625.4 h28.6 M1474.1,667.8 h28.6"/><circle cx="1488.4" cy="646.6" r="11.3"/><path stroke-width="3.4" stroke-linecap="round" d="M1494.7,621.5 v43.2 M1480.4,621.5 h28.6 M1480.4,664.7 h28.6"/><circle cx="1494.7" cy="643.1" r="11.3"/><path stroke-width="3.4" stroke-linecap="round" d="M1501,621.9 v43.9 M1486.7,621.9 h28.6 M1486.7,665.8 h28.6"/><circle cx="1501" cy="643.8" r="11.3"/><path stroke-width="3.4" stroke-linecap="round" d="M1507.3,620.5 v44.7 M1493,620.5 h28.6 M1493,665.2 h28.6"/><circle cx="1507.3" cy="642.8" r="11.3"/><path stroke-width="3.4" stroke-linecap="round" d="M1513.6,620.3 v45.6 M1499.3,620.3 h28.6 M1499.3,665.8 h28.6"/><circle cx="1513.6" cy="643" r="11.3"/><path stroke-width="3.4" stroke-linecap="round" d="M1519.9,623 v46.4 M1505.6,623 h28.6 M1505.6,669.4 h28.6"/><circle cx="1519.9" cy="646.2" r="11.3"/><path stroke-width="3.4" stroke-linecap="round" d="M1526.2,619.4 v47.3 M1511.9,619.4 h28.6 M1511.9,666.8 h28.6"/><circle cx="1526.2" cy="643.1" r="11.3"/><path stroke-width="3.4" stroke-linecap="round" d="M1532.5,622.7 v48.3 M1518.2,622.7 h28.6 M1518.2,670.9 h28.6"/><circle cx="1532.5" cy="646.8" r="11.3"/><path stroke-width="3.4" stroke-linecap="round" d="M1538.8,622.2 v49.3 M1524.5,622.2 h28.6 M1524.5,671.4 h28.6"/><circle cx="1538.8" cy="646.8" r="11.3"/>
</g>
<path d="M879.5,117.3 L881.4,117.3 L883.2,117.3 L885.1,117.3 L886.9,117.4 L888.8,117.4 L890.7,117.4 L892.5,117.4 L894.4,117.4 L896.3,117.4 L898.1,117.4 L900,117.4 L901.8,117.4 L903.7,117.4 L905.6,117.4 L907.4,117.4 L909.3,117.4 L911.2,117.4 L913,117.4 L914.9,117.4 L916.7,117.4 L918.6,117.4 L920.5,117.4 L922.3,117.4 L924.2,117.4 L926.1,117.4 L927.9,117.4 L929.8,117.4 L931.6,117.5 L933.5,117.5 L935.4,117.5 L937.2,117.5 L939.1,117.5 L941,117.5 L942.8,117.5 L944.7,117.5 L946.5,117.5 L948.4,117.5 L950.3,117.5 L952.1,117.5 L954,117.5 L955.8,117.5 L957.7,117.5 L959.6,117.5 L961.4,117.6 L963.3,117.6 L965.2,117.6 L967,117.6 L968.9,117.6 L970.7,117.6 L972.6,117.6 L974.5,117.6 L976.3,117.6 L978.2,117.6 L980.1,117.6 L981.9,117.7 L983.8,117.7 L985.6,117.7 L987.5,117.7 L989.4,117.7 L991.2,117.7 L993.1,117.7 L995,117.7 L996.8,117.7 L998.7,117.8 L1000.5,117.8 L1002.4,117.8 L1004.3,117.8 L1006.1,117.8 L1008,117.8 L1009.9,117.8 L1011.7,117.9 L1013.6,117.9 L1015.4,117.9 L1017.3,117.9 L1019.2,117.9 L1021,117.9 L1022.9,118 L1024.7,118 L1026.6,118 L1028.5,118 L1030.3,118 L1032.2,118 L1034.1,118.1 L1035.9,118.1 L1037.8,118.1 L1039.6,118.1 L1041.5,118.1 L1043.4,118.2 L1045.2,118.2 L1047.1,118.2 L1049,118.2 L1050.8,118.3 L1052.7,118.3 L1054.5,118.3 L1056.4,118.3 L1058.3,118.4 L1060.1,118.4 L1062,118.4 L1063.9,118.4 L1065.7,118.5 L1067.6,118.5 L1069.4,118.5 L1071.3,118.6 L1073.2,118.6 L1075,118.6 L1076.9,118.7 L1078.8,118.7 L1080.6,118.7 L1082.5,118.8 L1084.3,118.8 L1086.2,118.8 L1088.1,118.9 L1089.9,118.9 L1091.8,119 L1093.6,119 L1095.5,119.1 L1097.4,119.1 L1099.2,119.1 L1101.1,119.2 L1103,119.2 L1104.8,119.3 L1106.7,119.3 L1108.5,119.4 L1110.4,119.4 L1112.3,119.5 L1114.1,119.5 L1116,119.6 L1117.9,119.7 L1119.7,119.7 L1121.6,119.8 L1123.4,119.8 L1125.3,119.9 L1127.2,120 L1129,120 L1130.9,120.1 L1132.8,120.2 L1134.6,120.2 L1136.5,120.3 L1138.3,120.4 L1140.2,120.4 L1142.1,120.5 L1143.9,120.6 L1145.8,120.7 L1147.7,120.8 L1149.5,120.9 L1151.4,120.9 L1153.2,121 L1155.1,121.1 L1157,121.2 L1158.8,121.3 L1160.7,121.4 L1162.5,121.5 L1164.4,121.6 L1166.3,121.7 L1168.1,121.8 L1170,121.9 L1171.9,122 L1173.7,122.2 L1175.6,122.3 L1177.4,122.4 L1179.3,122.5 L1181.2,122.6 L1183,122.8 L1184.9,122.9 L1186.8,123 L1188.6,123.2 L1190.5,123.3 L1192.3,123.5 L1194.2,123.6 L1196.1,123.8 L1197.9,123.9 L1199.8,124.1 L1201.7,124.2 L1203.5,124.4 L1205.4,124.6 L1207.2,124.8 L1209.1,124.9 L1211,125.1 L1212.8,125.3 L1214.7,125.5 L1216.6,125.7 L1218.4,125.9 L1220.3,126.1 L1222.1,126.3 L1224,126.5 L1225.9,126.8 L1227.7,127 L1229.6,127.2 L1231.4,127.5 L1233.3,127.7 L1235.2,127.9 L1237,128.2 L1238.9,128.5 L1240.8,128.7 L1242.6,129 L1244.5,129.3 L1246.3,129.6 L1248.2,129.9 L1250.1,130.1 L1251.9,130.5 L1253.8,130.8 L1255.7,131.1 L1257.5,131.4 L1259.4,131.8 L1261.2,132.1 L1263.1,132.4 L1265,132.8 L1266.8,133.2 L1268.7,133.6 L1270.6,133.9 L1272.4,134.3 L1274.3,134.7 L1276.1,135.1 L1278,135.6 L1279.9,136 L1281.7,136.4 L1283.6,136.9 L1285.4,137.4 L1287.3,137.8 L1289.2,138.3 L1291,138.8 L1292.9,139.3 L1294.8,139.8 L1296.6,140.4 L1298.5,140.9 L1300.3,141.5 L1302.2,142 L1304.1,142.6 L1305.9,143.2 L1307.8,143.8 L1309.7,144.4 L1311.5,145.1 L1313.4,145.7 L1315.2,146.4 L1317.1,147.1 L1319,147.7 L1320.8,148.5 L1322.7,149.2 L1324.6,149.9 L1326.4,150.7 L1328.3,151.5 L1330.1,152.2 L1332,153.1 L1333.9,153.9 L1335.7,154.7 L1337.6,155.6 L1339.5,156.5 L1341.3,157.4 L1343.2,158.3 L1345,159.3 L1346.9,160.2 L1348.8,161.2 L1350.6,162.2 L1352.5,163.3 L1354.3,164.3 L1356.2,165.4 L1358.1,166.5 L1359.9,167.6 L1361.8,168.7 L1363.7,169.9 L1365.5,171.1 L1367.4,172.3 L1369.2,173.6 L1371.1,174.9 L1373,176.2 L1374.8,177.5 L1376.7,178.8 L1378.6,180.2 L1380.4,181.6 L1382.3,183.1 L1384.1,184.6 L1386,186.1 L1387.9,187.6 L1389.7,189.2 L1391.6,190.8 L1393.5,192.4 L1395.3,194.1 L1397.2,195.8 L1399,197.5 L1400.9,199.3 L1402.8,201.1 L1404.6,202.9 L1406.5,204.8 L1408.4,206.7 L1410.2,208.6 L1412.1,210.6 L1413.9,212.6 L1415.8,214.7 L1417.7,216.8 L1419.5,218.9 L1421.4,221.1 L1423.2,223.3 L1425.1,225.6 L1427,227.9 L1428.8,230.3 L1430.7,232.6 L1432.6,235.1 L1434.4,237.6 L1436.3,240.1 L1438.1,242.6 L1440,245.2 L1441.9,247.9 L1443.7,250.6 L1445.6,253.3 L1447.5,256.1 L1449.3,259 L1451.2,261.9 L1453,264.8 L1454.9,267.8 L1456.8,270.8 L1458.6,273.9 L1460.5,277 L1462.4,280.2 L1464.2,283.4 L1466.1,286.6 L1467.9,289.9 L1469.8,293.3 L1471.7,296.7 L1473.5,300.2 L1475.4,303.7 L1477.3,307.2 L1479.1,310.8 L1481,314.4 L1482.8,318.1 L1484.7,321.9 L1486.6,325.7 L1488.4,329.5 L1490.3,333.3 L1492.1,337.3 L1494,341.2 L1495.9,345.2 L1497.7,349.2 L1499.6,353.3 L1501.5,357.4 L1503.3,361.6 L1505.2,365.8 L1507,370 L1508.9,374.3 L1510.8,378.6 L1512.6,382.9 L1514.5,387.3 L1516.4,391.7 L1518.2,396.1 L1520.1,400.6 L1521.9,405 L1523.8,409.5 L1525.7,414 L1527.5,418.6 L1529.4,423.1 L1531.3,427.7 L1533.1,432.3 L1535,436.9 L1536.8,441.5 L1538.7,446.1 L1540.6,450.7 L1542.4,455.3 L1544.3,459.9 L1546.2,464.5 L1548,469 L1549.9,473.6 L1551.7,478.2 L1553.6,482.7 L1555.5,487.3 L1557.3,491.8 L1559.2,496.3 L1561,500.7 L1562.9,505.1 L1564.8,509.5 L1566.6,513.9 L1568.5,518.2 L1570.4,522.5 L1572.2,526.7 L1574.1,530.9 L1575.9,535 L1577.8,539.1 L1579.7,543.1 L1581.5,547 L1583.4,550.9 L1585.3,554.7 L1587.1,558.5 L1589,562.2 L1590.8,565.8 L1592.7,569.3 L1594.6,572.8 L1596.4,576.2 L1598.3,579.5 L1600.2,582.7 L1602,585.8 L1603.9,588.8 L1605.7,591.8 L1607.6,594.7 L1609.5,597.4 L1611.3,600.1 L1613.2,602.7 L1615.1,605.2 L1616.9,607.6 L1618.8,610 L1620.6,612.2 L1622.5,614.3" stroke="#000" stroke-width="5" fill="none"/>
<path d="M879.5,116.4 L881.4,116.4 L883.2,116.4 L885.1,116.4 L886.9,116.4 L888.8,116.5 L890.7,116.5 L892.5,116.5 L894.4,116.5 L896.3,116.6 L898.1,116.6 L900,116.6 L901.8,116.6 L903.7,116.7 L905.6,116.7 L907.4,116.7 L909.3,116.7 L911.2,116.8 L913,116.8 L914.9,116.8 L916.7,116.9 L918.6,116.9 L920.5,116.9 L922.3,117 L924.2,117 L926.1,117 L927.9,117.1 L929.8,117.1 L931.6,117.2 L933.5,117.2 L935.4,117.2 L937.2,117.3 L939.1,117.3 L941,117.4 L942.8,117.4 L944.7,117.4 L946.5,117.5 L948.4,117.5 L950.3,117.6 L952.1,117.6 L954,117.7 L955.8,117.7 L957.7,117.8 L959.6,117.9 L961.4,117.9 L963.3,118 L965.2,118 L967,118.1 L968.9,118.1 L970.7,118.2 L972.6,118.3 L974.5,118.3 L976.3,118.4 L978.2,118.5 L980.1,118.5 L981.9,118.6 L983.8,118.7 L985.6,118.8 L987.5,118.8 L989.4,118.9 L991.2,119 L993.1,119.1 L995,119.2 L996.8,119.3 L998.7,119.3 L1000.5,119.4 L1002.4,119.5 L1004.3,119.6 L1006.1,119.7 L1008,119.8 L1009.9,119.9 L1011.7,120 L1013.6,120.1 L1015.4,120.2 L1017.3,120.3 L1019.2,120.5 L1021,120.6 L1022.9,120.7 L1024.7,120.8 L1026.6,120.9 L1028.5,121.1 L1030.3,121.2 L1032.2,121.3 L1034.1,121.5 L1035.9,121.6 L1037.8,121.7 L1039.6,121.9 L1041.5,122 L1043.4,122.2 L1045.2,122.4 L1047.1,122.5 L1049,122.7 L1050.8,122.8 L1052.7,123 L1054.5,123.2 L1056.4,123.4 L1058.3,123.6 L1060.1,123.7 L1062,123.9 L1063.9,124.1 L1065.7,124.3 L1067.6,124.5 L1069.4,124.7 L1071.3,125 L1073.2,125.2 L1075,125.4 L1076.9,125.6 L1078.8,125.9 L1080.6,126.1 L1082.5,126.4 L1084.3,126.6 L1086.2,126.9 L1088.1,127.1 L1089.9,127.4 L1091.8,127.7 L1093.6,128 L1095.5,128.3 L1097.4,128.6 L1099.2,128.9 L1101.1,129.2 L1103,129.5 L1104.8,129.8 L1106.7,130.1 L1108.5,130.5 L1110.4,130.8 L1112.3,131.2 L1114.1,131.5 L1116,131.9 L1117.9,132.3 L1119.7,132.7 L1121.6,133.1 L1123.4,133.5 L1125.3,133.9 L1127.2,134.3 L1129,134.8 L1130.9,135.2 L1132.8,135.6 L1134.6,136.1 L1136.5,136.6 L1138.3,137.1 L1140.2,137.6 L1142.1,138.1 L1143.9,138.6 L1145.8,139.1 L1147.7,139.7 L1149.5,140.2 L1151.4,140.8 L1153.2,141.4 L1155.1,141.9 L1157,142.5 L1158.8,143.2 L1160.7,143.8 L1162.5,144.4 L1164.4,145.1 L1166.3,145.8 L1168.1,146.5 L1170,147.2 L1171.9,147.9 L1173.7,148.6 L1175.6,149.4 L1177.4,150.1 L1179.3,150.9 L1181.2,151.7 L1183,152.5 L1184.9,153.4 L1186.8,154.2 L1188.6,155.1 L1190.5,156 L1192.3,156.9 L1194.2,157.8 L1196.1,158.8 L1197.9,159.8 L1199.8,160.8 L1201.7,161.8 L1203.5,162.8 L1205.4,163.9 L1207.2,164.9 L1209.1,166 L1211,167.2 L1212.8,168.3 L1214.7,169.5 L1216.6,170.7 L1218.4,171.9 L1220.3,173.2 L1222.1,174.4 L1224,175.7 L1225.9,177.1 L1227.7,178.4 L1229.6,179.8 L1231.4,181.2 L1233.3,182.6 L1235.2,184.1 L1237,185.6 L1238.9,187.1 L1240.8,188.7 L1242.6,190.3 L1244.5,191.9 L1246.3,193.5 L1248.2,195.2 L1250.1,196.9 L1251.9,198.7 L1253.8,200.5 L1255.7,202.3 L1257.5,204.1 L1259.4,206 L1261.2,208 L1263.1,209.9 L1265,211.9 L1266.8,213.9 L1268.7,216 L1270.6,218.1 L1272.4,220.3 L1274.3,222.5 L1276.1,224.7 L1278,227 L1279.9,229.3 L1281.7,231.6 L1283.6,234 L1285.4,236.4 L1287.3,238.9 L1289.2,241.4 L1291,244 L1292.9,246.6 L1294.8,249.2 L1296.6,251.9 L1298.5,254.7 L1300.3,257.4 L1302.2,260.3 L1304.1,263.1 L1305.9,266.1 L1307.8,269 L1309.7,272 L1311.5,275.1 L1313.4,278.2 L1315.2,281.3 L1317.1,284.5 L1319,287.7 L1320.8,291 L1322.7,294.3 L1324.6,297.7 L1326.4,301.1 L1328.3,304.6 L1330.1,308.1 L1332,311.6 L1333.9,315.2 L1335.7,318.9 L1337.6,322.5 L1339.5,326.3 L1341.3,330 L1343.2,333.8 L1345,337.7 L1346.9,341.6 L1348.8,345.5 L1350.6,349.5 L1352.5,353.5 L1354.3,357.6 L1356.2,361.6 L1358.1,365.8 L1359.9,369.9 L1361.8,374.1 L1363.7,378.3 L1365.5,382.6 L1367.4,386.9 L1369.2,391.2 L1371.1,395.5 L1373,399.9 L1374.8,404.3 L1376.7,408.7 L1378.6,413.1 L1380.4,417.5 L1382.3,422 L1384.1,426.5 L1386,431 L1387.9,435.5 L1389.7,440 L1391.6,444.5 L1393.5,449 L1395.3,453.5 L1397.2,458 L1399,462.5 L1400.9,467 L1402.8,471.5 L1404.6,476 L1406.5,480.5 L1408.4,484.9 L1410.2,489.4 L1412.1,493.8 L1413.9,498.2 L1415.8,502.5 L1417.7,506.8 L1419.5,511.1 L1421.4,515.4 L1423.2,519.6 L1425.1,523.8 L1427,527.9 L1428.8,532 L1430.7,536 L1432.6,540 L1434.4,543.9 L1436.3,547.7 L1438.1,551.5 L1440,555.3 L1441.9,558.9 L1443.7,562.5 L1445.6,566.1 L1447.5,569.5 L1449.3,572.9 L1451.2,576.2 L1453,579.4 L1454.9,582.6 L1456.8,585.6 L1458.6,588.6 L1460.5,591.5 L1462.4,594.3 L1464.2,597.1 L1466.1,599.7 L1467.9,602.3 L1469.8,604.7 L1471.7,607.1 L1473.5,609.4 L1475.4,611.6 L1477.3,613.7 L1479.1,615.8 L1481,617.7 L1482.8,619.6 L1484.7,621.3 L1486.6,623 L1488.4,624.6 L1490.3,626.2 L1492.1,627.6 L1494,629 L1495.9,630.3 L1497.7,631.5 L1499.6,632.6 L1501.5,633.7 L1503.3,634.7 L1505.2,635.7 L1507,636.6 L1508.9,637.4 L1510.8,638.2 L1512.6,638.9 L1514.5,639.5 L1516.4,640.1 L1518.2,640.7 L1520.1,641.2 L1521.9,641.7 L1523.8,642.1 L1525.7,642.5 L1527.5,642.8 L1529.4,643.1 L1531.3,643.4 L1533.1,643.7 L1535,643.9 L1536.8,644.1 L1538.7,644.3 L1540.6,644.5 L1542.4,644.6 L1544.3,644.8 L1546.2,644.9 L1548,645 L1549.9,645.1 L1551.7,645.2 L1553.6,645.2 L1555.5,645.3 L1557.3,645.3 L1559.2,645.4 L1561,645.4 L1562.9,645.4 L1564.8,645.5 L1566.6,645.5 L1568.5,645.5 L1570.4,645.5 L1572.2,645.5 L1574.1,645.6 L1575.9,645.6 L1577.8,645.6 L1579.7,645.6 L1581.5,645.6 L1583.4,645.6 L1585.3,645.6 L1587.1,645.6 L1589,645.6 L1590.8,645.6 L1592.7,645.6 L1594.6,645.6 L1596.4,645.6 L1598.3,645.6 L1600.2,645.6 L1602,645.6 L1603.9,645.6 L1605.7,645.6 L1607.6,645.6 L1609.5,645.6 L1611.3,645.6 L1613.2,645.6 L1615.1,645.6 L1616.9,645.6 L1618.8,645.6 L1620.6,645.6 L1622.5,645.6" stroke="#000" stroke-width="5" fill="none"/>
<path d="M879.5,198.7 L881.4,199.9 L883.2,201.2 L885.1,202.4 L886.9,203.7 L888.8,205 L890.7,206.3 L892.5,207.7 L894.4,209 L896.3,210.4 L898.1,211.8 L900,213.2 L901.8,214.7 L903.7,216.1 L905.6,217.6 L907.4,219.1 L909.3,220.6 L911.2,222.2 L913,223.8 L914.9,225.4 L916.7,227 L918.6,228.7 L920.5,230.3 L922.3,232 L924.2,233.8 L926.1,235.5 L927.9,237.3 L929.8,239.1 L931.6,240.9 L933.5,242.7 L935.4,244.6 L937.2,246.5 L939.1,248.4 L941,250.4 L942.8,252.4 L944.7,254.4 L946.5,256.4 L948.4,258.5 L950.3,260.6 L952.1,262.7 L954,264.8 L955.8,267 L957.7,269.2 L959.6,271.4 L961.4,273.7 L963.3,276 L965.2,278.3 L967,280.6 L968.9,283 L970.7,285.4 L972.6,287.8 L974.5,290.2 L976.3,292.7 L978.2,295.2 L980.1,297.8 L981.9,300.3 L983.8,302.9 L985.6,305.6 L987.5,308.2 L989.4,310.9 L991.2,313.6 L993.1,316.3 L995,319.1 L996.8,321.9 L998.7,324.7 L1000.5,327.6 L1002.4,330.4 L1004.3,333.3 L1006.1,336.3 L1008,339.2 L1009.9,342.2 L1011.7,345.2 L1013.6,348.2 L1015.4,351.3 L1017.3,354.4 L1019.2,357.5 L1021,360.6 L1022.9,363.7 L1024.7,366.9 L1026.6,370.1 L1028.5,373.3 L1030.3,376.6 L1032.2,379.8 L1034.1,383.1 L1035.9,386.4 L1037.8,389.7 L1039.6,393.1 L1041.5,396.4 L1043.4,399.8 L1045.2,403.2 L1047.1,406.6 L1049,410 L1050.8,413.5 L1052.7,416.9 L1054.5,420.4 L1056.4,423.8 L1058.3,427.3 L1060.1,430.8 L1062,434.3 L1063.9,437.8 L1065.7,441.3 L1067.6,444.8 L1069.4,448.3 L1071.3,451.8 L1073.2,455.4 L1075,458.9 L1076.9,462.4 L1078.8,465.9 L1080.6,469.4 L1082.5,472.9 L1084.3,476.4 L1086.2,479.9 L1088.1,483.4 L1089.9,486.9 L1091.8,490.3 L1093.6,493.8 L1095.5,497.2 L1097.4,500.6 L1099.2,504 L1101.1,507.4 L1103,510.8 L1104.8,514.1 L1106.7,517.4 L1108.5,520.7 L1110.4,524 L1112.3,527.2 L1114.1,530.5 L1116,533.6 L1117.9,536.8 L1119.7,539.9 L1121.6,543 L1123.4,546.1 L1125.3,549.1 L1127.2,552 L1129,555 L1130.9,557.9 L1132.8,560.7 L1134.6,563.6 L1136.5,566.3 L1138.3,569.1 L1140.2,571.7 L1142.1,574.4 L1143.9,577 L1145.8,579.5 L1147.7,582 L1149.5,584.4 L1151.4,586.8 L1153.2,589.2 L1155.1,591.4 L1157,593.7 L1158.8,595.9 L1160.7,598 L1162.5,600.1 L1164.4,602.1 L1166.3,604 L1168.1,605.9 L1170,607.8 L1171.9,609.6 L1173.7,611.4 L1175.6,613 L1177.4,614.7 L1179.3,616.3 L1181.2,617.8 L1183,619.3 L1184.9,620.7 L1186.8,622.1 L1188.6,623.4 L1190.5,624.7 L1192.3,625.9 L1194.2,627 L1196.1,628.2 L1197.9,629.2 L1199.8,630.2 L1201.7,631.2 L1203.5,632.2 L1205.4,633 L1207.2,633.9 L1209.1,634.7 L1211,635.4 L1212.8,636.2 L1214.7,636.8 L1216.6,637.5 L1218.4,638.1 L1220.3,638.7 L1222.1,639.2 L1224,639.7 L1225.9,640.2 L1227.7,640.6 L1229.6,641 L1231.4,641.4 L1233.3,641.8 L1235.2,642.1 L1237,642.4 L1238.9,642.7 L1240.8,643 L1242.6,643.2 L1244.5,643.4 L1246.3,643.7 L1248.2,643.8 L1250.1,644 L1251.9,644.2 L1253.8,644.3 L1255.7,644.5 L1257.5,644.6 L1259.4,644.7 L1261.2,644.8 L1263.1,644.9 L1265,645 L1266.8,645 L1268.7,645.1 L1270.6,645.2 L1272.4,645.2 L1274.3,645.3 L1276.1,645.3 L1278,645.4 L1279.9,645.4 L1281.7,645.4 L1283.6,645.4 L1285.4,645.5 L1287.3,645.5 L1289.2,645.5 L1291,645.5 L1292.9,645.5 L1294.8,645.5 L1296.6,645.5 L1298.5,645.6 L1300.3,645.6 L1302.2,645.6 L1304.1,645.6 L1305.9,645.6 L1307.8,645.6 L1309.7,645.6 L1311.5,645.6 L1313.4,645.6 L1315.2,645.6 L1317.1,645.6 L1319,645.6 L1320.8,645.6 L1322.7,645.6 L1324.6,645.6 L1326.4,645.6 L1328.3,645.6 L1330.1,645.6 L1332,645.6 L1333.9,645.6 L1335.7,645.6 L1337.6,645.6 L1339.5,645.6 L1341.3,645.6 L1343.2,645.6 L1345,645.6 L1346.9,645.6 L1348.8,645.6 L1350.6,645.6 L1352.5,645.6 L1354.3,645.6 L1356.2,645.6 L1358.1,645.6 L1359.9,645.6 L1361.8,645.6 L1363.7,645.6 L1365.5,645.6 L1367.4,645.6 L1369.2,645.6 L1371.1,645.6 L1373,645.6 L1374.8,645.6 L1376.7,645.6 L1378.6,645.6 L1380.4,645.6 L1382.3,645.6 L1384.1,645.6 L1386,645.6 L1387.9,645.6 L1389.7,645.6 L1391.6,645.6 L1393.5,645.6 L1395.3,645.6 L1397.2,645.6 L1399,645.6 L1400.9,645.6 L1402.8,645.6 L1404.6,645.6 L1406.5,645.6 L1408.4,645.6 L1410.2,645.6 L1412.1,645.6 L1413.9,645.6 L1415.8,645.6 L1417.7,645.6 L1419.5,645.6 L1421.4,645.6 L1423.2,645.6 L1425.1,645.6 L1427,645.6 L1428.8,645.6 L1430.7,645.6 L1432.6,645.6 L1434.4,645.6 L1436.3,645.6 L1438.1,645.6 L1440,645.6 L1441.9,645.6 L1443.7,645.6 L1445.6,645.6 L1447.5,645.6 L1449.3,645.6 L1451.2,645.6 L1453,645.6 L1454.9,645.6 L1456.8,645.6 L1458.6,645.6 L1460.5,645.6 L1462.4,645.6 L1464.2,645.6 L1466.1,645.6 L1467.9,645.6 L1469.8,645.6 L1471.7,645.6 L1473.5,645.6 L1475.4,645.6 L1477.3,645.6 L1479.1,645.6 L1481,645.6 L1482.8,645.6 L1484.7,645.6 L1486.6,645.6 L1488.4,645.6 L1490.3,645.6 L1492.1,645.6 L1494,645.6 L1495.9,645.6 L1497.7,645.6 L1499.6,645.6 L1501.5,645.6 L1503.3,645.6 L1505.2,645.6 L1507,645.6 L1508.9,645.6 L1510.8,645.6 L1512.6,645.6 L1514.5,645.6 L1516.4,645.6 L1518.2,645.6 L1520.1,645.6 L1521.9,645.6 L1523.8,645.6 L1525.7,645.6 L1527.5,645.6 L1529.4,645.6 L1531.3,645.6 L1533.1,645.6 L1535,645.6 L1536.8,645.6 L1538.7,645.6 L1540.6,645.6 L1542.4,645.6 L1544.3,645.6 L1546.2,645.6 L1548,645.6 L1549.9,645.6 L1551.7,645.6 L1553.6,645.6 L1555.5,645.6 L1557.3,645.6 L1559.2,645.6 L1561,645.6 L1562.9,645.6 L1564.8,645.6 L1566.6,645.6 L1568.5,645.6 L1570.4,645.6 L1572.2,645.6 L1574.1,645.6 L1575.9,645.6 L1577.8,645.6 L1579.7,645.6 L1581.5,645.6 L1583.4,645.6 L1585.3,645.6 L1587.1,645.6 L1589,645.6 L1590.8,645.6 L1592.7,645.6 L1594.6,645.6 L1596.4,645.6 L1598.3,645.6 L1600.2,645.6 L1602,645.6 L1603.9,645.6 L1605.7,645.6 L1607.6,645.6 L1609.5,645.6 L1611.3,645.6 L1613.2,645.6 L1615.1,645.6 L1616.9,645.6 L1618.8,645.6 L1620.6,645.6 L1622.5,645.6" stroke="#000" stroke-width="5" fill="none"/>
<path d="M879.5,120.9 L881.4,120.9 L883.2,120.9 L885.1,120.9 L886.9,120.9 L888.8,120.9 L890.7,120.9 L892.5,120.9 L894.4,120.9 L896.3,120.9 L898.1,120.9 L900,120.9 L901.8,120.9 L903.7,120.9 L905.6,121 L907.4,121 L909.3,121 L911.2,121 L913,121 L914.9,121 L916.7,121 L918.6,121 L920.5,121 L922.3,121 L924.2,121 L926.1,121 L927.9,121 L929.8,121 L931.6,121 L933.5,121 L935.4,121 L937.2,121 L939.1,121 L941,121 L942.8,121 L944.7,121 L946.5,121 L948.4,121 L950.3,121 L952.1,121 L954,121 L955.8,121.1 L957.7,121.1 L959.6,121.1 L961.4,121.1 L963.3,121.1 L965.2,121.1 L967,121.1 L968.9,121.1 L970.7,121.1 L972.6,121.1 L974.5,121.1 L976.3,121.1 L978.2,121.1 L980.1,121.1 L981.9,121.1 L983.8,121.1 L985.6,121.2 L987.5,121.2 L989.4,121.2 L991.2,121.2 L993.1,121.2 L995,121.2 L996.8,121.2 L998.7,121.2 L1000.5,121.2 L1002.4,121.2 L1004.3,121.2 L1006.1,121.3 L1008,121.3 L1009.9,121.3 L1011.7,121.3 L1013.6,121.3 L1015.4,121.3 L1017.3,121.3 L1019.2,121.3 L1021,121.4 L1022.9,121.4 L1024.7,121.4 L1026.6,121.4 L1028.5,121.4 L1030.3,121.4 L1032.2,121.4 L1034.1,121.5 L1035.9,121.5 L1037.8,121.5 L1039.6,121.5 L1041.5,121.5 L1043.4,121.5 L1045.2,121.6 L1047.1,121.6 L1049,121.6 L1050.8,121.6 L1052.7,121.6 L1054.5,121.7 L1056.4,121.7 L1058.3,121.7 L1060.1,121.7 L1062,121.7 L1063.9,121.8 L1065.7,121.8 L1067.6,121.8 L1069.4,121.8 L1071.3,121.9 L1073.2,121.9 L1075,121.9 L1076.9,122 L1078.8,122 L1080.6,122 L1082.5,122 L1084.3,122.1 L1086.2,122.1 L1088.1,122.1 L1089.9,122.2 L1091.8,122.2 L1093.6,122.2 L1095.5,122.3 L1097.4,122.3 L1099.2,122.4 L1101.1,122.4 L1103,122.4 L1104.8,122.5 L1106.7,122.5 L1108.5,122.6 L1110.4,122.6 L1112.3,122.7 L1114.1,122.7 L1116,122.8 L1117.9,122.8 L1119.7,122.9 L1121.6,122.9 L1123.4,123 L1125.3,123 L1127.2,123.1 L1129,123.1 L1130.9,123.2 L1132.8,123.3 L1134.6,123.3 L1136.5,123.4 L1138.3,123.5 L1140.2,123.5 L1142.1,123.6 L1143.9,123.7 L1145.8,123.7 L1147.7,123.8 L1149.5,123.9 L1151.4,124 L1153.2,124.1 L1155.1,124.2 L1157,124.2 L1158.8,124.3 L1160.7,124.4 L1162.5,124.5 L1164.4,124.6 L1166.3,124.7 L1168.1,124.8 L1170,124.9 L1171.9,125 L1173.7,125.1 L1175.6,125.2 L1177.4,125.4 L1179.3,125.5 L1181.2,125.6 L1183,125.7 L1184.9,125.9 L1186.8,126 L1188.6,126.1 L1190.5,126.3 L1192.3,126.4 L1194.2,126.5 L1196.1,126.7 L1197.9,126.9 L1199.8,127 L1201.7,127.2 L1203.5,127.3 L1205.4,127.5 L1207.2,127.7 L1209.1,127.9 L1211,128 L1212.8,128.2 L1214.7,128.4 L1216.6,128.6 L1218.4,128.8 L1220.3,129 L1222.1,129.2 L1224,129.5 L1225.9,129.7 L1227.7,129.9 L1229.6,130.1 L1231.4,130.4 L1233.3,130.6 L1235.2,130.9 L1237,131.2 L1238.9,131.4 L1240.8,131.7 L1242.6,132 L1244.5,132.3 L1246.3,132.6 L1248.2,132.9 L1250.1,133.2 L1251.9,133.5 L1253.8,133.8 L1255.7,134.1 L1257.5,134.5 L1259.4,134.8 L1261.2,135.2 L1263.1,135.5 L1265,135.9 L1266.8,136.3 L1268.7,136.7 L1270.6,137.1 L1272.4,137.5 L1274.3,137.9 L1276.1,138.4 L1278,138.8 L1279.9,139.3 L1281.7,139.7 L1283.6,140.2 L1285.4,140.7 L1287.3,141.2 L1289.2,141.7 L1291,142.2 L1292.9,142.8 L1294.8,143.3 L1296.6,143.9 L1298.5,144.4 L1300.3,145 L1302.2,145.6 L1304.1,146.2 L1305.9,146.9 L1307.8,147.5 L1309.7,148.2 L1311.5,148.8 L1313.4,149.5 L1315.2,150.2 L1317.1,150.9 L1319,151.6 L1320.8,152.4 L1322.7,153.2 L1324.6,153.9 L1326.4,154.7 L1328.3,155.5 L1330.1,156.4 L1332,157.2 L1333.9,158.1 L1335.7,159 L1337.6,159.9 L1339.5,160.8 L1341.3,161.7 L1343.2,162.7 L1345,163.6 L1346.9,164.6 L1348.8,165.7 L1350.6,166.7 L1352.5,167.7 L1354.3,168.8 L1356.2,169.9 L1358.1,171 L1359.9,172.2 L1361.8,173.3 L1363.7,174.5 L1365.5,175.7 L1367.4,176.9 L1369.2,178.1 L1371.1,179.4 L1373,180.7 L1374.8,182 L1376.7,183.3 L1378.6,184.7 L1380.4,186.1 L1382.3,187.5 L1384.1,188.9 L1386,190.3 L1387.9,191.8 L1389.7,193.3 L1391.6,194.8 L1393.5,196.3 L1395.3,197.9 L1397.2,199.4 L1399,201 L1400.9,202.7 L1402.8,204.3 L1404.6,206 L1406.5,207.7 L1408.4,209.4 L1410.2,211.1 L1412.1,212.9 L1413.9,214.7 L1415.8,216.5 L1417.7,218.3 L1419.5,220.2 L1421.4,222.1 L1423.2,224 L1425.1,225.9 L1427,227.9 L1428.8,229.9 L1430.7,231.9 L1432.6,233.9 L1434.4,236 L1436.3,238.1 L1438.1,240.2 L1440,242.3 L1441.9,244.5 L1443.7,246.7 L1445.6,248.9 L1447.5,251.2 L1449.3,253.5 L1451.2,255.8 L1453,258.2 L1454.9,260.6 L1456.8,263 L1458.6,265.5 L1460.5,268.1 L1462.4,270.6 L1464.2,273.3 L1466.1,275.9 L1467.9,278.7 L1469.8,281.5 L1471.7,284.3 L1473.5,287.2 L1475.4,290.2 L1477.3,293.3 L1479.1,296.4 L1481,299.6 L1482.8,303 L1484.7,306.4 L1486.6,309.9 L1488.4,313.5 L1490.3,317.2 L1492.1,321 L1494,325 L1495.9,329 L1497.7,333.3 L1499.6,337.6 L1501.5,342.1 L1503.3,346.8 L1505.2,351.6 L1507,356.6 L1508.9,361.8 L1510.8,367.1 L1512.6,372.7 L1514.5,378.4 L1516.4,384.3 L1518.2,390.4 L1520.1,396.8 L1521.9,403.3 L1523.8,410 L1525.7,416.9 L1527.5,424.1 L1529.4,431.4 L1531.3,438.9 L1533.1,446.5 L1535,454.4 L1536.8,462.4 L1538.7,470.5 L1540.6,478.8 L1542.4,487.1 L1544.3,495.5 L1546.2,504 L1548,512.5 L1549.9,521 L1551.7,529.4 L1553.6,537.8 L1555.5,546 L1557.3,554.1 L1559.2,561.9 L1561,569.6 L1562.9,576.9 L1564.8,584 L1566.6,590.7 L1568.5,597.1 L1570.4,603.1 L1572.2,608.6 L1574.1,613.7 L1575.9,618.4 L1577.8,622.6 L1579.7,626.4 L1581.5,629.8 L1583.4,632.7 L1585.3,635.2 L1587.1,637.4 L1589,639.2 L1590.8,640.7 L1592.7,641.9 L1594.6,642.8 L1596.4,643.6 L1598.3,644.2 L1600.2,644.6 L1602,644.9 L1603.9,645.1 L1605.7,645.3 L1607.6,645.4 L1609.5,645.5 L1611.3,645.5 L1613.2,645.6 L1615.1,645.6 L1616.9,645.6 L1618.8,645.6 L1620.6,645.6 L1622.5,645.6" stroke="#00dc00" stroke-width="5" fill="none"/>
<path d="M879.5,130.1 L881.4,130.2 L883.2,130.2 L885.1,130.3 L886.9,130.4 L888.8,130.4 L890.7,130.5 L892.5,130.5 L894.4,130.6 L896.3,130.7 L898.1,130.8 L900,130.8 L901.8,130.9 L903.7,131 L905.6,131 L907.4,131.1 L909.3,131.2 L911.2,131.3 L913,131.4 L914.9,131.4 L916.7,131.5 L918.6,131.6 L920.5,131.7 L922.3,131.8 L924.2,131.9 L926.1,132 L927.9,132 L929.8,132.1 L931.6,132.2 L933.5,132.3 L935.4,132.4 L937.2,132.5 L939.1,132.6 L941,132.7 L942.8,132.8 L944.7,132.9 L946.5,133.1 L948.4,133.2 L950.3,133.3 L952.1,133.4 L954,133.5 L955.8,133.6 L957.7,133.7 L959.6,133.9 L961.4,134 L963.3,134.1 L965.2,134.3 L967,134.4 L968.9,134.5 L970.7,134.7 L972.6,134.8 L974.5,134.9 L976.3,135.1 L978.2,135.2 L980.1,135.4 L981.9,135.5 L983.8,135.7 L985.6,135.8 L987.5,136 L989.4,136.2 L991.2,136.3 L993.1,136.5 L995,136.7 L996.8,136.8 L998.7,137 L1000.5,137.2 L1002.4,137.4 L1004.3,137.6 L1006.1,137.7 L1008,137.9 L1009.9,138.1 L1011.7,138.3 L1013.6,138.5 L1015.4,138.7 L1017.3,138.9 L1019.2,139.2 L1021,139.4 L1022.9,139.6 L1024.7,139.8 L1026.6,140 L1028.5,140.3 L1030.3,140.5 L1032.2,140.7 L1034.1,141 L1035.9,141.2 L1037.8,141.5 L1039.6,141.7 L1041.5,142 L1043.4,142.3 L1045.2,142.5 L1047.1,142.8 L1049,143.1 L1050.8,143.4 L1052.7,143.6 L1054.5,143.9 L1056.4,144.2 L1058.3,144.5 L1060.1,144.8 L1062,145.1 L1063.9,145.4 L1065.7,145.8 L1067.6,146.1 L1069.4,146.4 L1071.3,146.8 L1073.2,147.1 L1075,147.4 L1076.9,147.8 L1078.8,148.2 L1080.6,148.5 L1082.5,148.9 L1084.3,149.3 L1086.2,149.6 L1088.1,150 L1089.9,150.4 L1091.8,150.8 L1093.6,151.2 L1095.5,151.6 L1097.4,152.1 L1099.2,152.5 L1101.1,152.9 L1103,153.4 L1104.8,153.8 L1106.7,154.3 L1108.5,154.7 L1110.4,155.2 L1112.3,155.7 L1114.1,156.1 L1116,156.6 L1117.9,157.1 L1119.7,157.6 L1121.6,158.1 L1123.4,158.7 L1125.3,159.2 L1127.2,159.7 L1129,160.3 L1130.9,160.8 L1132.8,161.4 L1134.6,161.9 L1136.5,162.5 L1138.3,163.1 L1140.2,163.7 L1142.1,164.3 L1143.9,164.9 L1145.8,165.5 L1147.7,166.2 L1149.5,166.8 L1151.4,167.4 L1153.2,168.1 L1155.1,168.8 L1157,169.4 L1158.8,170.1 L1160.7,170.8 L1162.5,171.5 L1164.4,172.2 L1166.3,173 L1168.1,173.7 L1170,174.4 L1171.9,175.2 L1173.7,176 L1175.6,176.7 L1177.4,177.5 L1179.3,178.3 L1181.2,179.1 L1183,179.9 L1184.9,180.8 L1186.8,181.6 L1188.6,182.5 L1190.5,183.3 L1192.3,184.2 L1194.2,185.1 L1196.1,186 L1197.9,186.9 L1199.8,187.8 L1201.7,188.8 L1203.5,189.7 L1205.4,190.7 L1207.2,191.6 L1209.1,192.6 L1211,193.6 L1212.8,194.6 L1214.7,195.6 L1216.6,196.7 L1218.4,197.7 L1220.3,198.8 L1222.1,199.8 L1224,200.9 L1225.9,202 L1227.7,203.1 L1229.6,204.3 L1231.4,205.4 L1233.3,206.6 L1235.2,207.7 L1237,208.9 L1238.9,210.1 L1240.8,211.3 L1242.6,212.5 L1244.5,213.8 L1246.3,215 L1248.2,216.3 L1250.1,217.6 L1251.9,218.9 L1253.8,220.2 L1255.7,221.5 L1257.5,222.9 L1259.4,224.3 L1261.2,225.6 L1263.1,227 L1265,228.5 L1266.8,229.9 L1268.7,231.3 L1270.6,232.8 L1272.4,234.3 L1274.3,235.8 L1276.1,237.3 L1278,238.9 L1279.9,240.5 L1281.7,242.1 L1283.6,243.7 L1285.4,245.3 L1287.3,247 L1289.2,248.7 L1291,250.4 L1292.9,252.1 L1294.8,253.9 L1296.6,255.6 L1298.5,257.4 L1300.3,259.3 L1302.2,261.2 L1304.1,263.1 L1305.9,265 L1307.8,266.9 L1309.7,268.9 L1311.5,271 L1313.4,273 L1315.2,275.1 L1317.1,277.3 L1319,279.5 L1320.8,281.7 L1322.7,284 L1324.6,286.3 L1326.4,288.6 L1328.3,291 L1330.1,293.5 L1332,296 L1333.9,298.6 L1335.7,301.2 L1337.6,303.9 L1339.5,306.6 L1341.3,309.4 L1343.2,312.3 L1345,315.3 L1346.9,318.3 L1348.8,321.4 L1350.6,324.6 L1352.5,327.8 L1354.3,331.2 L1356.2,334.6 L1358.1,338.1 L1359.9,341.7 L1361.8,345.4 L1363.7,349.2 L1365.5,353.1 L1367.4,357.1 L1369.2,361.3 L1371.1,365.5 L1373,369.8 L1374.8,374.3 L1376.7,378.9 L1378.6,383.5 L1380.4,388.4 L1382.3,393.3 L1384.1,398.4 L1386,403.5 L1387.9,408.8 L1389.7,414.3 L1391.6,419.8 L1393.5,425.5 L1395.3,431.3 L1397.2,437.2 L1399,443.2 L1400.9,449.3 L1402.8,455.6 L1404.6,461.9 L1406.5,468.3 L1408.4,474.8 L1410.2,481.3 L1412.1,487.9 L1413.9,494.6 L1415.8,501.3 L1417.7,508 L1419.5,514.7 L1421.4,521.4 L1423.2,528.1 L1425.1,534.7 L1427,541.3 L1428.8,547.8 L1430.7,554.2 L1432.6,560.5 L1434.4,566.6 L1436.3,572.5 L1438.1,578.3 L1440,583.9 L1441.9,589.3 L1443.7,594.4 L1445.6,599.3 L1447.5,604 L1449.3,608.3 L1451.2,612.4 L1453,616.2 L1454.9,619.8 L1456.8,623 L1458.6,626 L1460.5,628.6 L1462.4,631.1 L1464.2,633.2 L1466.1,635.1 L1467.9,636.8 L1469.8,638.2 L1471.7,639.5 L1473.5,640.6 L1475.4,641.5 L1477.3,642.2 L1479.1,642.8 L1481,643.4 L1482.8,643.8 L1484.7,644.1 L1486.6,644.4 L1488.4,644.6 L1490.3,644.8 L1492.1,644.9 L1494,645 L1495.9,645.1 L1497.7,645.2 L1499.6,645.2 L1501.5,645.3 L1503.3,645.3 L1505.2,645.4 L1507,645.4 L1508.9,645.4 L1510.8,645.4 L1512.6,645.5 L1514.5,645.5 L1516.4,645.5 L1518.2,645.5 L1520.1,645.5 L1521.9,645.5 L1523.8,645.5 L1525.7,645.5 L1527.5,645.6 L1529.4,645.6 L1531.3,645.6 L1533.1,645.6 L1535,645.6 L1536.8,645.6 L1538.7,645.6 L1540.6,645.6 L1542.4,645.6 L1544.3,645.6 L1546.2,645.6 L1548,645.6 L1549.9,645.6 L1551.7,645.6 L1553.6,645.6 L1555.5,645.6 L1557.3,645.6 L1559.2,645.6 L1561,645.6 L1562.9,645.6 L1564.8,645.6 L1566.6,645.6 L1568.5,645.6 L1570.4,645.6 L1572.2,645.6 L1574.1,645.6 L1575.9,645.6 L1577.8,645.6 L1579.7,645.6 L1581.5,645.6 L1583.4,645.6 L1585.3,645.6 L1587.1,645.6 L1589,645.6 L1590.8,645.6 L1592.7,645.6 L1594.6,645.6 L1596.4,645.6 L1598.3,645.6 L1600.2,645.6 L1602,645.6 L1603.9,645.6 L1605.7,645.6 L1607.6,645.6 L1609.5,645.6 L1611.3,645.6 L1613.2,645.6 L1615.1,645.6 L1616.9,645.6 L1618.8,645.6 L1620.6,645.6 L1622.5,645.6" stroke="#00dc00" stroke-width="5" fill="none"/>
<path d="M879.5,206.5 L881.4,207.4 L883.2,208.4 L885.1,209.3 L886.9,210.3 L888.8,211.3 L890.7,212.4 L892.5,213.4 L894.4,214.5 L896.3,215.6 L898.1,216.7 L900,217.9 L901.8,219.1 L903.7,220.3 L905.6,221.6 L907.4,222.9 L909.3,224.2 L911.2,225.5 L913,226.9 L914.9,228.3 L916.7,229.8 L918.6,231.2 L920.5,232.7 L922.3,234.3 L924.2,235.9 L926.1,237.5 L927.9,239.1 L929.8,240.8 L931.6,242.6 L933.5,244.3 L935.4,246.1 L937.2,248 L939.1,249.9 L941,251.8 L942.8,253.7 L944.7,255.7 L946.5,257.8 L948.4,259.9 L950.3,262 L952.1,264.2 L954,266.4 L955.8,268.6 L957.7,270.9 L959.6,273.2 L961.4,275.6 L963.3,278 L965.2,280.4 L967,282.8 L968.9,285.3 L970.7,287.9 L972.6,290.4 L974.5,293 L976.3,295.7 L978.2,298.3 L980.1,301 L981.9,303.7 L983.8,306.5 L985.6,309.2 L987.5,312 L989.4,314.8 L991.2,317.6 L993.1,320.4 L995,323.3 L996.8,326.1 L998.7,329 L1000.5,331.8 L1002.4,334.7 L1004.3,337.6 L1006.1,340.5 L1008,343.4 L1009.9,346.3 L1011.7,349.2 L1013.6,352.1 L1015.4,355.1 L1017.3,358 L1019.2,360.9 L1021,363.9 L1022.9,366.8 L1024.7,369.8 L1026.6,372.8 L1028.5,375.7 L1030.3,378.7 L1032.2,381.8 L1034.1,384.8 L1035.9,387.8 L1037.8,390.9 L1039.6,394 L1041.5,397.1 L1043.4,400.2 L1045.2,403.3 L1047.1,406.5 L1049,409.7 L1050.8,412.9 L1052.7,416.1 L1054.5,419.4 L1056.4,422.7 L1058.3,426 L1060.1,429.3 L1062,432.6 L1063.9,436 L1065.7,439.4 L1067.6,442.8 L1069.4,446.2 L1071.3,449.6 L1073.2,453.1 L1075,456.5 L1076.9,460 L1078.8,463.5 L1080.6,467 L1082.5,470.5 L1084.3,474 L1086.2,477.5 L1088.1,481 L1089.9,484.5 L1091.8,488 L1093.6,491.5 L1095.5,495 L1097.4,498.6 L1099.2,502 L1101.1,505.5 L1103,509 L1104.8,512.5 L1106.7,515.9 L1108.5,519.4 L1110.4,522.8 L1112.3,526.2 L1114.1,529.5 L1116,532.9 L1117.9,536.2 L1119.7,539.5 L1121.6,542.8 L1123.4,546 L1125.3,549.2 L1127.2,552.4 L1129,555.5 L1130.9,558.6 L1132.8,561.6 L1134.6,564.6 L1136.5,567.6 L1138.3,570.5 L1140.2,573.4 L1142.1,576.2 L1143.9,578.9 L1145.8,581.6 L1147.7,584.3 L1149.5,586.9 L1151.4,589.4 L1153.2,591.9 L1155.1,594.4 L1157,596.7 L1158.8,599 L1160.7,601.3 L1162.5,603.5 L1164.4,605.6 L1166.3,607.6 L1168.1,609.6 L1170,611.5 L1171.9,613.4 L1173.7,615.2 L1175.6,616.9 L1177.4,618.6 L1179.3,620.2 L1181.2,621.8 L1183,623.2 L1184.9,624.7 L1186.8,626 L1188.6,627.3 L1190.5,628.6 L1192.3,629.7 L1194.2,630.8 L1196.1,631.9 L1197.9,632.9 L1199.8,633.9 L1201.7,634.8 L1203.5,635.6 L1205.4,636.4 L1207.2,637.2 L1209.1,637.9 L1211,638.5 L1212.8,639.1 L1214.7,639.7 L1216.6,640.2 L1218.4,640.7 L1220.3,641.2 L1222.1,641.6 L1224,642 L1225.9,642.4 L1227.7,642.7 L1229.6,643 L1231.4,643.3 L1233.3,643.5 L1235.2,643.8 L1237,644 L1238.9,644.2 L1240.8,644.3 L1242.6,644.5 L1244.5,644.6 L1246.3,644.7 L1248.2,644.9 L1250.1,645 L1251.9,645 L1253.8,645.1 L1255.7,645.2 L1257.5,645.2 L1259.4,645.3 L1261.2,645.3 L1263.1,645.4 L1265,645.4 L1266.8,645.4 L1268.7,645.5 L1270.6,645.5 L1272.4,645.5 L1274.3,645.5 L1276.1,645.5 L1278,645.5 L1279.9,645.6 L1281.7,645.6 L1283.6,645.6 L1285.4,645.6 L1287.3,645.6 L1289.2,645.6 L1291,645.6 L1292.9,645.6 L1294.8,645.6 L1296.6,645.6 L1298.5,645.6 L1300.3,645.6 L1302.2,645.6 L1304.1,645.6 L1305.9,645.6 L1307.8,645.6 L1309.7,645.6 L1311.5,645.6 L1313.4,645.6 L1315.2,645.6 L1317.1,645.6 L1319,645.6 L1320.8,645.6 L1322.7,645.6 L1324.6,645.6 L1326.4,645.6 L1328.3,645.6 L1330.1,645.6 L1332,645.6 L1333.9,645.6 L1335.7,645.6 L1337.6,645.6 L1339.5,645.6 L1341.3,645.6 L1343.2,645.6 L1345,645.6 L1346.9,645.6 L1348.8,645.6 L1350.6,645.6 L1352.5,645.6 L1354.3,645.6 L1356.2,645.6 L1358.1,645.6 L1359.9,645.6 L1361.8,645.6 L1363.7,645.6 L1365.5,645.6 L1367.4,645.6 L1369.2,645.6 L1371.1,645.6 L1373,645.6 L1374.8,645.6 L1376.7,645.6 L1378.6,645.6 L1380.4,645.6 L1382.3,645.6 L1384.1,645.6 L1386,645.6 L1387.9,645.6 L1389.7,645.6 L1391.6,645.6 L1393.5,645.6 L1395.3,645.6 L1397.2,645.6 L1399,645.6 L1400.9,645.6 L1402.8,645.6 L1404.6,645.6 L1406.5,645.6 L1408.4,645.6 L1410.2,645.6 L1412.1,645.6 L1413.9,645.6 L1415.8,645.6 L1417.7,645.6 L1419.5,645.6 L1421.4,645.6 L1423.2,645.6 L1425.1,645.6 L1427,645.6 L1428.8,645.6 L1430.7,645.6 L1432.6,645.6 L1434.4,645.6 L1436.3,645.6 L1438.1,645.6 L1440,645.6 L1441.9,645.6 L1443.7,645.6 L1445.6,645.6 L1447.5,645.6 L1449.3,645.6 L1451.2,645.6 L1453,645.6 L1454.9,645.6 L1456.8,645.6 L1458.6,645.6 L1460.5,645.6 L1462.4,645.6 L1464.2,645.6 L1466.1,645.6 L1467.9,645.6 L1469.8,645.6 L1471.7,645.6 L1473.5,645.6 L1475.4,645.6 L1477.3,645.6 L1479.1,645.6 L1481,645.6 L1482.8,645.6 L1484.7,645.6 L1486.6,645.6 L1488.4,645.6 L1490.3,645.6 L1492.1,645.6 L1494,645.6 L1495.9,645.6 L1497.7,645.6 L1499.6,645.6 L1501.5,645.6 L1503.3,645.6 L1505.2,645.6 L1507,645.6 L1508.9,645.6 L1510.8,645.6 L1512.6,645.6 L1514.5,645.6 L1516.4,645.6 L1518.2,645.6 L1520.1,645.6 L1521.9,645.6 L1523.8,645.6 L1525.7,645.6 L1527.5,645.6 L1529.4,645.6 L1531.3,645.6 L1533.1,645.6 L1535,645.6 L1536.8,645.6 L1538.7,645.6 L1540.6,645.6 L1542.4,645.6 L1544.3,645.6 L1546.2,645.6 L1548,645.6 L1549.9,645.6 L1551.7,645.6 L1553.6,645.6 L1555.5,645.6 L1557.3,645.6 L1559.2,645.6 L1561,645.6 L1562.9,645.6 L1564.8,645.6 L1566.6,645.6 L1568.5,645.6 L1570.4,645.6 L1572.2,645.6 L1574.1,645.6 L1575.9,645.6 L1577.8,645.6 L1579.7,645.6 L1581.5,645.6 L1583.4,645.6 L1585.3,645.6 L1587.1,645.6 L1589,645.6 L1590.8,645.6 L1592.7,645.6 L1594.6,645.6 L1596.4,645.6 L1598.3,645.6 L1600.2,645.6 L1602,645.6 L1603.9,645.6 L1605.7,645.6 L1607.6,645.6 L1609.5,645.6 L1611.3,645.6 L1613.2,645.6 L1615.1,645.6 L1616.9,645.6 L1618.8,645.6 L1620.6,645.6 L1622.5,645.6" stroke="#00dc00" stroke-width="5" fill="none"/>
</g>
<path d="M880.2,735.4 v-6 M880.2,1.2 v6 M927.6,735.4 v-3.5 M927.6,1.2 v3.5 M955.4,735.4 v-3.5 M955.4,1.2 v3.5 M975.1,735.4 v-3.5 M975.1,1.2 v3.5 M990.4,735.4 v-3.5 M990.4,1.2 v3.5 M1002.8,735.4 v-3.5 M1002.8,1.2 v3.5 M1013.4,735.4 v-3.5 M1013.4,1.2 v3.5 M1022.5,735.4 v-3.5 M1022.5,1.2 v3.5 M1030.6,735.4 v-3.5 M1030.6,1.2 v3.5 M1037.8,735.4 v-6 M1037.8,1.2 v6 M1085.2,735.4 v-3.5 M1085.2,1.2 v3.5 M1113,735.4 v-3.5 M1113,1.2 v3.5 M1132.7,735.4 v-3.5 M1132.7,1.2 v3.5 M1148,735.4 v-3.5 M1148,1.2 v3.5 M1160.4,735.4 v-3.5 M1160.4,1.2 v3.5 M1171,735.4 v-3.5 M1171,1.2 v3.5 M1180.1,735.4 v-3.5 M1180.1,1.2 v3.5 M1188.2,735.4 v-3.5 M1188.2,1.2 v3.5 M1195.4,735.4 v-6 M1195.4,1.2 v6 M1242.8,735.4 v-3.5 M1242.8,1.2 v3.5 M1270.6,735.4 v-3.5 M1270.6,1.2 v3.5 M1290.3,735.4 v-3.5 M1290.3,1.2 v3.5 M1305.6,735.4 v-3.5 M1305.6,1.2 v3.5 M1318,735.4 v-3.5 M1318,1.2 v3.5 M1328.6,735.4 v-3.5 M1328.6,1.2 v3.5 M1337.7,735.4 v-3.5 M1337.7,1.2 v3.5 M1345.8,735.4 v-3.5 M1345.8,1.2 v3.5 M1353,735.4 v-6 M1353,1.2 v6 M1400.4,735.4 v-3.5 M1400.4,1.2 v3.5 M1428.2,735.4 v-3.5 M1428.2,1.2 v3.5 M1447.9,735.4 v-3.5 M1447.9,1.2 v3.5 M1463.2,735.4 v-3.5 M1463.2,1.2 v3.5 M1475.6,735.4 v-3.5 M1475.6,1.2 v3.5 M1486.2,735.4 v-3.5 M1486.2,1.2 v3.5 M1495.3,735.4 v-3.5 M1495.3,1.2 v3.5 M1503.4,735.4 v-3.5 M1503.4,1.2 v3.5 M1510.6,735.4 v-6 M1510.6,1.2 v6 M1558,735.4 v-3.5 M1558,1.2 v3.5 M1585.8,735.4 v-3.5 M1585.8,1.2 v3.5 M1605.5,735.4 v-3.5 M1605.5,1.2 v3.5 M881.5,682.9 h3.5 M1620.5,682.9 h-3.5 M881.5,577.8 h6 M1620.5,577.8 h-6 M881.5,472.7 h3.5 M1620.5,472.7 h-3.5 M881.5,367.6 h6 M1620.5,367.6 h-6 M881.5,262.5 h3.5 M1620.5,262.5 h-3.5 M881.5,157.4 h6 M1620.5,157.4 h-6 M881.5,52.3 h3.5 M1620.5,52.3 h-3.5" stroke="#000" stroke-width="2.4" fill="none"/>
<rect x="881.5" y="1.2" width="739" height="734.2" fill="none" stroke="#000" stroke-width="2.6"/>
<text x="1629" y="166.4" font-size="30" fill="#000" text-anchor="start">1.03</text>
<text x="1629" y="376.6" font-size="30" fill="#000" text-anchor="start">1.02</text>
<text x="1629" y="586.8" font-size="30" fill="#000" text-anchor="start">1.01</text>
<text transform="translate(1724.7,368) rotate(-90)" font-size="39" text-anchor="middle">g<tspan font-size="27" dy="10">2</tspan></text>
<rect x="1406.1" y="23.2" width="192.1" height="83.7" fill="#fff" stroke="#000" stroke-width="2.4"/>
<path d="M1410.7,44 H1449.8" stroke="#000" stroke-width="6" stroke-linecap="round"/>
<path d="M1410.7,80.3 H1449.8" stroke="#00dc00" stroke-width="6" stroke-linecap="round"/>
<text x="1457.5" y="54" font-size="29.5" fill="#000" text-anchor="start">KWW</text>
<text x="1457.5" y="91" font-size="29.5" fill="#000" text-anchor="start">KWW<tspan font-size="21.5" dy="7.7">MULTI</tspan></text>
<rect x="881.5" y="680.1" width="39.6" height="55.3" fill="#fff" stroke="#000" stroke-width="2.5"/>
<text x="901.3" y="722.2" font-size="39" font-weight="bold" fill="#000" text-anchor="middle">C</text>
<text x="977.1" y="378.6" font-size="28" font-weight="bold" fill="#cc0000" text-anchor="middle">B3</text>
<text x="1329.7" y="378.2" font-size="28" font-weight="bold" fill="#cc0000" text-anchor="middle">B2</text>
<text x="1466.7" y="378.2" font-size="28" font-weight="bold" fill="#cc0000" text-anchor="middle">B1</text>
<clipPath id="clip1"><rect x="881.5" y="735.4" width="739.0" height="734.5000000000001"/></clipPath>
<g clip-path="url(#clip1)">
<g stroke="#0068a8" stroke-width="5.6" fill="#fff">
<path stroke-width="3.4" stroke-linecap="round" d="M880.2,869.2 v27.4 M865.9,869.2 h28.6 M865.9,896.6 h28.6"/><circle cx="880.2" cy="882.9" r="11.3"/><path stroke-width="3.4" stroke-linecap="round" d="M927.6,818.2 v27.5 M913.3,818.2 h28.6 M913.3,845.6 h28.6"/><circle cx="927.6" cy="831.9" r="11.3"/><path stroke-width="3.4" stroke-linecap="round" d="M955.4,847.5 v27.5 M941.1,847.5 h28.6 M941.1,875 h28.6"/><circle cx="955.4" cy="861.3" r="11.3"/><path stroke-width="3.4" stroke-linecap="round" d="M975.1,838.9 v27.6 M960.8,838.9 h28.6 M960.8,866.4 h28.6"/><circle cx="975.1" cy="852.6" r="11.3"/><path stroke-width="3.4" stroke-linecap="round" d="M990.4,840.5 v27.6 M976.1,840.5 h28.6 M976.1,868.1 h28.6"/><circle cx="990.4" cy="854.3" r="11.3"/><path stroke-width="3.4" stroke-linecap="round" d="M1002.8,830.7 v27.6 M988.5,830.7 h28.6 M988.5,858.3 h28.6"/><circle cx="1002.8" cy="844.5" r="11.3"/><path stroke-width="3.4" stroke-linecap="round" d="M1013.4,838.8 v27.7 M999.1,838.8 h28.6 M999.1,866.5 h28.6"/><circle cx="1013.4" cy="852.7" r="11.3"/><path stroke-width="3.4" stroke-linecap="round" d="M1022.5,847.3 v27.7 M1008.2,847.3 h28.6 M1008.2,875 h28.6"/><circle cx="1022.5" cy="861.2" r="11.3"/><path stroke-width="3.4" stroke-linecap="round" d="M1032.4,842.6 v27.7 M1018.1,842.6 h28.6 M1018.1,870.3 h28.6"/><circle cx="1032.4" cy="856.4" r="11.3"/><path stroke-width="3.4" stroke-linecap="round" d="M1042.2,844.1 v27.8 M1027.9,844.1 h28.6 M1027.9,871.8 h28.6"/><circle cx="1042.2" cy="857.9" r="11.3"/><path stroke-width="3.4" stroke-linecap="round" d="M1052.1,842.6 v27.8 M1037.8,842.6 h28.6 M1037.8,870.4 h28.6"/><circle cx="1052.1" cy="856.5" r="11.3"/><path stroke-width="3.4" stroke-linecap="round" d="M1061.9,850.5 v27.9 M1047.6,850.5 h28.6 M1047.6,878.4 h28.6"/><circle cx="1061.9" cy="864.5" r="11.3"/><path stroke-width="3.4" stroke-linecap="round" d="M1071.8,845.1 v27.9 M1057.5,845.1 h28.6 M1057.5,873 h28.6"/><circle cx="1071.8" cy="859.1" r="11.3"/><path stroke-width="3.4" stroke-linecap="round" d="M1081.6,835.7 v28 M1067.3,835.7 h28.6 M1067.3,863.7 h28.6"/><circle cx="1081.6" cy="849.7" r="11.3"/><path stroke-width="3.4" stroke-linecap="round" d="M1091.5,843.3 v28 M1077.2,843.3 h28.6 M1077.2,871.4 h28.6"/><circle cx="1091.5" cy="857.3" r="11.3"/><path stroke-width="3.4" stroke-linecap="round" d="M1101.3,838.8 v28.1 M1087,838.8 h28.6 M1087,866.9 h28.6"/><circle cx="1101.3" cy="852.9" r="11.3"/><path stroke-width="3.4" stroke-linecap="round" d="M1111.2,834.8 v28.2 M1096.9,834.8 h28.6 M1096.9,862.9 h28.6"/><circle cx="1111.2" cy="848.9" r="11.3"/><path stroke-width="3.4" stroke-linecap="round" d="M1121,846.1 v28.2 M1106.7,846.1 h28.6 M1106.7,874.3 h28.6"/><circle cx="1121" cy="860.2" r="11.3"/><path stroke-width="3.4" stroke-linecap="round" d="M1130.9,853.4 v28.3 M1116.6,853.4 h28.6 M1116.6,881.8 h28.6"/><circle cx="1130.9" cy="867.6" r="11.3"/><path stroke-width="3.4" stroke-linecap="round" d="M1140.7,849.5 v28.4 M1126.4,849.5 h28.6 M1126.4,877.9 h28.6"/><circle cx="1140.7" cy="863.7" r="11.3"/><path stroke-width="3.4" stroke-linecap="round" d="M1150.6,846.2 v28.5 M1136.3,846.2 h28.6 M1136.3,874.7 h28.6"/><circle cx="1150.6" cy="860.4" r="11.3"/><path stroke-width="3.4" stroke-linecap="round" d="M1160.3,847.8 v28.6 M1146,847.8 h28.6 M1146,876.4 h28.6"/><circle cx="1160.3" cy="862.1" r="11.3"/><path stroke-width="3.4" stroke-linecap="round" d="M1169.8,854.9 v28.7 M1155.5,854.9 h28.6 M1155.5,883.6 h28.6"/><circle cx="1169.8" cy="869.3" r="11.3"/><path stroke-width="3.4" stroke-linecap="round" d="M1178.9,852.7 v28.8 M1164.6,852.7 h28.6 M1164.6,881.5 h28.6"/><circle cx="1178.9" cy="867.1" r="11.3"/><path stroke-width="3.4" stroke-linecap="round" d="M1187.8,853.1 v28.9 M1173.5,853.1 h28.6 M1173.5,882 h28.6"/><circle cx="1187.8" cy="867.6" r="11.3"/><path stroke-width="3.4" stroke-linecap="round" d="M1196.4,853.6 v29 M1182.1,853.6 h28.6 M1182.1,882.6 h28.6"/><circle cx="1196.4" cy="868.1" r="11.3"/><path stroke-width="3.4" stroke-linecap="round" d="M1204.8,854.6 v29.1 M1190.5,854.6 h28.6 M1190.5,883.8 h28.6"/><circle cx="1204.8" cy="869.2" r="11.3"/><path stroke-width="3.4" stroke-linecap="round" d="M1213,857.5 v29.2 M1198.7,857.5 h28.6 M1198.7,886.7 h28.6"/><circle cx="1213" cy="872.1" r="11.3"/><path stroke-width="3.4" stroke-linecap="round" d="M1221,857.6 v29.4 M1206.7,857.6 h28.6 M1206.7,887 h28.6"/><circle cx="1221" cy="872.3" r="11.3"/><path stroke-width="3.4" stroke-linecap="round" d="M1228.8,857.6 v29.5 M1214.5,857.6 h28.6 M1214.5,887 h28.6"/><circle cx="1228.8" cy="872.3" r="11.3"/><path stroke-width="3.4" stroke-linecap="round" d="M1236.5,855.3 v29.6 M1222.2,855.3 h28.6 M1222.2,884.9 h28.6"/><circle cx="1236.5" cy="870.1" r="11.3"/><path stroke-width="3.4" stroke-linecap="round" d="M1244,860 v29.8 M1229.7,860 h28.6 M1229.7,889.8 h28.6"/><circle cx="1244" cy="874.9" r="11.3"/><path stroke-width="3.4" stroke-linecap="round" d="M1251.3,858 v29.9 M1237,858 h28.6 M1237,887.9 h28.6"/><circle cx="1251.3" cy="873" r="11.3"/><path stroke-width="3.4" stroke-linecap="round" d="M1258.5,863.2 v30 M1244.2,863.2 h28.6 M1244.2,893.3 h28.6"/><circle cx="1258.5" cy="878.2" r="11.3"/><path stroke-width="3.4" stroke-linecap="round" d="M1265.6,858.6 v30.2 M1251.3,858.6 h28.6 M1251.3,888.8 h28.6"/><circle cx="1265.6" cy="873.7" r="11.3"/><path stroke-width="3.4" stroke-linecap="round" d="M1272.5,862.2 v30.4 M1258.2,862.2 h28.6 M1258.2,892.6 h28.6"/><circle cx="1272.5" cy="877.4" r="11.3"/><path stroke-width="3.4" stroke-linecap="round" d="M1279.3,863.5 v30.5 M1265,863.5 h28.6 M1265,894 h28.6"/><circle cx="1279.3" cy="878.8" r="11.3"/><path stroke-width="3.4" stroke-linecap="round" d="M1286,861.6 v30.7 M1271.7,861.6 h28.6 M1271.7,892.2 h28.6"/><circle cx="1286" cy="876.9" r="11.3"/><path stroke-width="3.4" stroke-linecap="round" d="M1292.6,869.5 v30.9 M1278.3,869.5 h28.6 M1278.3,900.4 h28.6"/><circle cx="1292.6" cy="884.9" r="11.3"/><path stroke-width="3.4" stroke-linecap="round" d="M1299.1,870 v31 M1284.8,870 h28.6 M1284.8,901 h28.6"/><circle cx="1299.1" cy="885.5" r="11.3"/><path stroke-width="3.4" stroke-linecap="round" d="M1305.5,866.8 v31.2 M1291.2,866.8 h28.6 M1291.2,898 h28.6"/><circle cx="1305.5" cy="882.4" r="11.3"/><path stroke-width="3.4" stroke-linecap="round" d="M1311.8,870.7 v31.4 M1297.5,870.7 h28.6 M1297.5,902.1 h28.6"/><circle cx="1311.8" cy="886.4" r="11.3"/><path stroke-width="3.4" stroke-linecap="round" d="M1318.2,871 v31.6 M1303.9,871 h28.6 M1303.9,902.6 h28.6"/><circle cx="1318.2" cy="886.8" r="11.3"/><path stroke-width="3.4" stroke-linecap="round" d="M1324.5,865.7 v31.8 M1310.2,865.7 h28.6 M1310.2,897.5 h28.6"/><circle cx="1324.5" cy="881.6" r="11.3"/><path stroke-width="3.4" stroke-linecap="round" d="M1330.8,873.3 v32 M1316.5,873.3 h28.6 M1316.5,905.3 h28.6"/><circle cx="1330.8" cy="889.3" r="11.3"/><path stroke-width="3.4" stroke-linecap="round" d="M1337.1,874 v32.3 M1322.8,874 h28.6 M1322.8,906.2 h28.6"/><circle cx="1337.1" cy="890.1" r="11.3"/><path stroke-width="3.4" stroke-linecap="round" d="M1343.4,875.7 v32.5 M1329.1,875.7 h28.6 M1329.1,908.2 h28.6"/><circle cx="1343.4" cy="892" r="11.3"/><path stroke-width="3.4" stroke-linecap="round" d="M1349.7,874.7 v32.7 M1335.4,874.7 h28.6 M1335.4,907.5 h28.6"/><circle cx="1349.7" cy="891.1" r="11.3"/><path stroke-width="3.4" stroke-linecap="round" d="M1356,878.1 v33 M1341.7,878.1 h28.6 M1341.7,911.1 h28.6"/><circle cx="1356" cy="894.6" r="11.3"/><path stroke-width="3.4" stroke-linecap="round" d="M1362.3,879.9 v33.3 M1348,879.9 h28.6 M1348,913.2 h28.6"/><circle cx="1362.3" cy="896.6" r="11.3"/><path stroke-width="3.4" stroke-linecap="round" d="M1368.6,884.7 v33.6 M1354.3,884.7 h28.6 M1354.3,918.3 h28.6"/><circle cx="1368.6" cy="901.5" r="11.3"/><path stroke-width="3.4" stroke-linecap="round" d="M1374.9,884.8 v33.9 M1360.6,884.8 h28.6 M1360.6,918.6 h28.6"/><circle cx="1374.9" cy="901.7" r="11.3"/><path stroke-width="3.4" stroke-linecap="round" d="M1381.2,886.1 v34.2 M1366.9,886.1 h28.6 M1366.9,920.2 h28.6"/><circle cx="1381.2" cy="903.1" r="11.3"/><path stroke-width="3.4" stroke-linecap="round" d="M1387.5,891.6 v34.5 M1373.2,891.6 h28.6 M1373.2,926.1 h28.6"/><circle cx="1387.5" cy="908.9" r="11.3"/><path stroke-width="3.4" stroke-linecap="round" d="M1393.8,889.4 v34.9 M1379.5,889.4 h28.6 M1379.5,924.3 h28.6"/><circle cx="1393.8" cy="906.8" r="11.3"/><path stroke-width="3.4" stroke-linecap="round" d="M1400.1,892.3 v35.2 M1385.8,892.3 h28.6 M1385.8,927.5 h28.6"/><circle cx="1400.1" cy="909.9" r="11.3"/><path stroke-width="3.4" stroke-linecap="round" d="M1406.4,891.9 v35.6 M1392.1,891.9 h28.6 M1392.1,927.5 h28.6"/><circle cx="1406.4" cy="909.7" r="11.3"/><path stroke-width="3.4" stroke-linecap="round" d="M1412.7,902.6 v36 M1398.4,902.6 h28.6 M1398.4,938.5 h28.6"/><circle cx="1412.7" cy="920.5" r="11.3"/><path stroke-width="3.4" stroke-linecap="round" d="M1419,904.6 v36.4 M1404.7,904.6 h28.6 M1404.7,941 h28.6"/><circle cx="1419" cy="922.8" r="11.3"/><path stroke-width="3.4" stroke-linecap="round" d="M1425.3,908.2 v36.8 M1411,908.2 h28.6 M1411,945 h28.6"/><circle cx="1425.3" cy="926.6" r="11.3"/><path stroke-width="3.4" stroke-linecap="round" d="M1431.6,911.7 v37.3 M1417.3,911.7 h28.6 M1417.3,949 h28.6"/><circle cx="1431.6" cy="930.4" r="11.3"/><path stroke-width="3.4" stroke-linecap="round" d="M1437.9,915 v37.8 M1423.6,915 h28.6 M1423.6,952.8 h28.6"/><circle cx="1437.9" cy="933.9" r="11.3"/><path stroke-width="3.4" stroke-linecap="round" d="M1444.2,920.3 v38.3 M1429.9,920.3 h28.6 M1429.9,958.6 h28.6"/><circle cx="1444.2" cy="939.5" r="11.3"/><path stroke-width="3.4" stroke-linecap="round" d="M1450.5,924.9 v38.8 M1436.2,924.9 h28.6 M1436.2,963.7 h28.6"/><circle cx="1450.5" cy="944.3" r="11.3"/><path stroke-width="3.4" stroke-linecap="round" d="M1456.8,931.5 v39.3 M1442.5,931.5 h28.6 M1442.5,970.8 h28.6"/><circle cx="1456.8" cy="951.1" r="11.3"/><path stroke-width="3.4" stroke-linecap="round" d="M1463.1,939.4 v39.9 M1448.8,939.4 h28.6 M1448.8,979.3 h28.6"/><circle cx="1463.1" cy="959.3" r="11.3"/><path stroke-width="3.4" stroke-linecap="round" d="M1469.4,951.3 v40.5 M1455.1,951.3 h28.6 M1455.1,991.8 h28.6"/><circle cx="1469.4" cy="971.6" r="11.3"/><path stroke-width="3.4" stroke-linecap="round" d="M1475.8,958.1 v41.1 M1461.5,958.1 h28.6 M1461.5,999.2 h28.6"/><circle cx="1475.8" cy="978.7" r="11.3"/><path stroke-width="3.4" stroke-linecap="round" d="M1482.1,966.9 v41.8 M1467.8,966.9 h28.6 M1467.8,1008.6 h28.6"/><circle cx="1482.1" cy="987.7" r="11.3"/><path stroke-width="3.4" stroke-linecap="round" d="M1488.4,977.1 v42.5 M1474.1,977.1 h28.6 M1474.1,1019.6 h28.6"/><circle cx="1488.4" cy="998.3" r="11.3"/><path stroke-width="3.4" stroke-linecap="round" d="M1494.7,990 v43.2 M1480.4,990 h28.6 M1480.4,1033.2 h28.6"/><circle cx="1494.7" cy="1011.6" r="11.3"/><path stroke-width="3.4" stroke-linecap="round" d="M1501,1011.4 v43.9 M1486.7,1011.4 h28.6 M1486.7,1055.4 h28.6"/><circle cx="1501" cy="1033.4" r="11.3"/><path stroke-width="3.4" stroke-linecap="round" d="M1507.3,1024.6 v44.7 M1493,1024.6 h28.6 M1493,1069.3 h28.6"/><circle cx="1507.3" cy="1047" r="11.3"/><path stroke-width="3.4" stroke-linecap="round" d="M1513.6,1041.4 v45.6 M1499.3,1041.4 h28.6 M1499.3,1086.9 h28.6"/><circle cx="1513.6" cy="1064.2" r="11.3"/><path stroke-width="3.4" stroke-linecap="round" d="M1519.9,1060 v46.4 M1505.6,1060 h28.6 M1505.6,1106.4 h28.6"/><circle cx="1519.9" cy="1083.2" r="11.3"/><path stroke-width="3.4" stroke-linecap="round" d="M1526.2,1078.9 v47.3 M1511.9,1078.9 h28.6 M1511.9,1126.3 h28.6"/><circle cx="1526.2" cy="1102.6" r="11.3"/><path stroke-width="3.4" stroke-linecap="round" d="M1532.5,1105.9 v48.3 M1518.2,1105.9 h28.6 M1518.2,1154.2 h28.6"/><circle cx="1532.5" cy="1130.1" r="11.3"/><path stroke-width="3.4" stroke-linecap="round" d="M1538.8,1134.3 v49.3 M1524.5,1134.3 h28.6 M1524.5,1183.6 h28.6"/><circle cx="1538.8" cy="1159" r="11.3"/>
</g>
<g stroke="#0068a8" stroke-width="5.6" fill="#fff">
<path stroke-width="3.4" stroke-linecap="round" d="M880.2,860.3 v27.4 M865.9,860.3 h28.6 M865.9,887.7 h28.6"/><circle cx="880.2" cy="874" r="11.3"/><path stroke-width="3.4" stroke-linecap="round" d="M927.6,863.7 v27.5 M913.3,863.7 h28.6 M913.3,891.2 h28.6"/><circle cx="927.6" cy="877.4" r="11.3"/><path stroke-width="3.4" stroke-linecap="round" d="M955.4,864.6 v27.5 M941.1,864.6 h28.6 M941.1,892.2 h28.6"/><circle cx="955.4" cy="878.4" r="11.3"/><path stroke-width="3.4" stroke-linecap="round" d="M975.1,868.5 v27.6 M960.8,868.5 h28.6 M960.8,896.1 h28.6"/><circle cx="975.1" cy="882.3" r="11.3"/><path stroke-width="3.4" stroke-linecap="round" d="M990.4,855.4 v27.6 M976.1,855.4 h28.6 M976.1,883 h28.6"/><circle cx="990.4" cy="869.2" r="11.3"/><path stroke-width="3.4" stroke-linecap="round" d="M1002.8,867.3 v27.6 M988.5,867.3 h28.6 M988.5,894.9 h28.6"/><circle cx="1002.8" cy="881.1" r="11.3"/><path stroke-width="3.4" stroke-linecap="round" d="M1013.4,863.9 v27.7 M999.1,863.9 h28.6 M999.1,891.5 h28.6"/><circle cx="1013.4" cy="877.7" r="11.3"/><path stroke-width="3.4" stroke-linecap="round" d="M1022.5,876.2 v27.7 M1008.2,876.2 h28.6 M1008.2,903.9 h28.6"/><circle cx="1022.5" cy="890" r="11.3"/><path stroke-width="3.4" stroke-linecap="round" d="M1032.4,866.6 v27.7 M1018.1,866.6 h28.6 M1018.1,894.4 h28.6"/><circle cx="1032.4" cy="880.5" r="11.3"/><path stroke-width="3.4" stroke-linecap="round" d="M1042.2,875.6 v27.8 M1027.9,875.6 h28.6 M1027.9,903.4 h28.6"/><circle cx="1042.2" cy="889.5" r="11.3"/><path stroke-width="3.4" stroke-linecap="round" d="M1052.1,881.6 v27.8 M1037.8,881.6 h28.6 M1037.8,909.4 h28.6"/><circle cx="1052.1" cy="895.5" r="11.3"/><path stroke-width="3.4" stroke-linecap="round" d="M1061.9,872.9 v27.9 M1047.6,872.9 h28.6 M1047.6,900.8 h28.6"/><circle cx="1061.9" cy="886.9" r="11.3"/><path stroke-width="3.4" stroke-linecap="round" d="M1071.8,872.9 v27.9 M1057.5,872.9 h28.6 M1057.5,900.9 h28.6"/><circle cx="1071.8" cy="886.9" r="11.3"/><path stroke-width="3.4" stroke-linecap="round" d="M1081.6,878.1 v28 M1067.3,878.1 h28.6 M1067.3,906.1 h28.6"/><circle cx="1081.6" cy="892.1" r="11.3"/><path stroke-width="3.4" stroke-linecap="round" d="M1091.5,878.7 v28 M1077.2,878.7 h28.6 M1077.2,906.8 h28.6"/><circle cx="1091.5" cy="892.7" r="11.3"/><path stroke-width="3.4" stroke-linecap="round" d="M1101.3,876.3 v28.1 M1087,876.3 h28.6 M1087,904.4 h28.6"/><circle cx="1101.3" cy="890.4" r="11.3"/><path stroke-width="3.4" stroke-linecap="round" d="M1111.2,883.9 v28.2 M1096.9,883.9 h28.6 M1096.9,912.1 h28.6"/><circle cx="1111.2" cy="898" r="11.3"/><path stroke-width="3.4" stroke-linecap="round" d="M1121,891.6 v28.2 M1106.7,891.6 h28.6 M1106.7,919.8 h28.6"/><circle cx="1121" cy="905.7" r="11.3"/><path stroke-width="3.4" stroke-linecap="round" d="M1130.9,885.2 v28.3 M1116.6,885.2 h28.6 M1116.6,913.5 h28.6"/><circle cx="1130.9" cy="899.4" r="11.3"/><path stroke-width="3.4" stroke-linecap="round" d="M1140.7,887.6 v28.4 M1126.4,887.6 h28.6 M1126.4,916 h28.6"/><circle cx="1140.7" cy="901.8" r="11.3"/><path stroke-width="3.4" stroke-linecap="round" d="M1150.6,887.3 v28.5 M1136.3,887.3 h28.6 M1136.3,915.8 h28.6"/><circle cx="1150.6" cy="901.5" r="11.3"/><path stroke-width="3.4" stroke-linecap="round" d="M1160.3,894.2 v28.6 M1146,894.2 h28.6 M1146,922.8 h28.6"/><circle cx="1160.3" cy="908.5" r="11.3"/><path stroke-width="3.4" stroke-linecap="round" d="M1169.8,892 v28.7 M1155.5,892 h28.6 M1155.5,920.7 h28.6"/><circle cx="1169.8" cy="906.4" r="11.3"/><path stroke-width="3.4" stroke-linecap="round" d="M1178.9,895.2 v28.8 M1164.6,895.2 h28.6 M1164.6,924 h28.6"/><circle cx="1178.9" cy="909.6" r="11.3"/><path stroke-width="3.4" stroke-linecap="round" d="M1187.8,904.9 v28.9 M1173.5,904.9 h28.6 M1173.5,933.8 h28.6"/><circle cx="1187.8" cy="919.3" r="11.3"/><path stroke-width="3.4" stroke-linecap="round" d="M1196.4,901.5 v29 M1182.1,901.5 h28.6 M1182.1,930.5 h28.6"/><circle cx="1196.4" cy="916" r="11.3"/><path stroke-width="3.4" stroke-linecap="round" d="M1204.8,909.8 v29.1 M1190.5,909.8 h28.6 M1190.5,939 h28.6"/><circle cx="1204.8" cy="924.4" r="11.3"/><path stroke-width="3.4" stroke-linecap="round" d="M1213,913.9 v29.2 M1198.7,913.9 h28.6 M1198.7,943.1 h28.6"/><circle cx="1213" cy="928.5" r="11.3"/><path stroke-width="3.4" stroke-linecap="round" d="M1221,913.6 v29.4 M1206.7,913.6 h28.6 M1206.7,942.9 h28.6"/><circle cx="1221" cy="928.3" r="11.3"/><path stroke-width="3.4" stroke-linecap="round" d="M1228.8,917.4 v29.5 M1214.5,917.4 h28.6 M1214.5,946.9 h28.6"/><circle cx="1228.8" cy="932.2" r="11.3"/><path stroke-width="3.4" stroke-linecap="round" d="M1236.5,924 v29.6 M1222.2,924 h28.6 M1222.2,953.7 h28.6"/><circle cx="1236.5" cy="938.9" r="11.3"/><path stroke-width="3.4" stroke-linecap="round" d="M1244,921.9 v29.8 M1229.7,921.9 h28.6 M1229.7,951.7 h28.6"/><circle cx="1244" cy="936.8" r="11.3"/><path stroke-width="3.4" stroke-linecap="round" d="M1251.3,924.3 v29.9 M1237,924.3 h28.6 M1237,954.2 h28.6"/><circle cx="1251.3" cy="939.2" r="11.3"/><path stroke-width="3.4" stroke-linecap="round" d="M1258.5,925.9 v30 M1244.2,925.9 h28.6 M1244.2,955.9 h28.6"/><circle cx="1258.5" cy="940.9" r="11.3"/><path stroke-width="3.4" stroke-linecap="round" d="M1265.6,932.6 v30.2 M1251.3,932.6 h28.6 M1251.3,962.8 h28.6"/><circle cx="1265.6" cy="947.7" r="11.3"/><path stroke-width="3.4" stroke-linecap="round" d="M1272.5,939.5 v30.4 M1258.2,939.5 h28.6 M1258.2,969.8 h28.6"/><circle cx="1272.5" cy="954.7" r="11.3"/><path stroke-width="3.4" stroke-linecap="round" d="M1279.3,941.8 v30.5 M1265,941.8 h28.6 M1265,972.3 h28.6"/><circle cx="1279.3" cy="957.1" r="11.3"/><path stroke-width="3.4" stroke-linecap="round" d="M1286,941.1 v30.7 M1271.7,941.1 h28.6 M1271.7,971.8 h28.6"/><circle cx="1286" cy="956.4" r="11.3"/><path stroke-width="3.4" stroke-linecap="round" d="M1292.6,945 v30.9 M1278.3,945 h28.6 M1278.3,975.9 h28.6"/><circle cx="1292.6" cy="960.5" r="11.3"/><path stroke-width="3.4" stroke-linecap="round" d="M1299.1,949.6 v31 M1284.8,949.6 h28.6 M1284.8,980.6 h28.6"/><circle cx="1299.1" cy="965.1" r="11.3"/><path stroke-width="3.4" stroke-linecap="round" d="M1305.5,955.3 v31.2 M1291.2,955.3 h28.6 M1291.2,986.5 h28.6"/><circle cx="1305.5" cy="970.9" r="11.3"/><path stroke-width="3.4" stroke-linecap="round" d="M1311.8,958.1 v31.4 M1297.5,958.1 h28.6 M1297.5,989.5 h28.6"/><circle cx="1311.8" cy="973.8" r="11.3"/><path stroke-width="3.4" stroke-linecap="round" d="M1318.2,963.1 v31.6 M1303.9,963.1 h28.6 M1303.9,994.7 h28.6"/><circle cx="1318.2" cy="978.9" r="11.3"/><path stroke-width="3.4" stroke-linecap="round" d="M1324.5,967.5 v31.8 M1310.2,967.5 h28.6 M1310.2,999.3 h28.6"/><circle cx="1324.5" cy="983.4" r="11.3"/><path stroke-width="3.4" stroke-linecap="round" d="M1330.8,970.5 v32 M1316.5,970.5 h28.6 M1316.5,1002.5 h28.6"/><circle cx="1330.8" cy="986.5" r="11.3"/><path stroke-width="3.4" stroke-linecap="round" d="M1337.1,975.6 v32.3 M1322.8,975.6 h28.6 M1322.8,1007.9 h28.6"/><circle cx="1337.1" cy="991.7" r="11.3"/><path stroke-width="3.4" stroke-linecap="round" d="M1343.4,980.9 v32.5 M1329.1,980.9 h28.6 M1329.1,1013.3 h28.6"/><circle cx="1343.4" cy="997.1" r="11.3"/><path stroke-width="3.4" stroke-linecap="round" d="M1349.7,985.1 v32.7 M1335.4,985.1 h28.6 M1335.4,1017.9 h28.6"/><circle cx="1349.7" cy="1001.5" r="11.3"/><path stroke-width="3.4" stroke-linecap="round" d="M1356,991.5 v33 M1341.7,991.5 h28.6 M1341.7,1024.5 h28.6"/><circle cx="1356" cy="1008" r="11.3"/><path stroke-width="3.4" stroke-linecap="round" d="M1362.3,999.8 v33.3 M1348,999.8 h28.6 M1348,1033.1 h28.6"/><circle cx="1362.3" cy="1016.4" r="11.3"/><path stroke-width="3.4" stroke-linecap="round" d="M1368.6,1002.6 v33.6 M1354.3,1002.6 h28.6 M1354.3,1036.2 h28.6"/><circle cx="1368.6" cy="1019.4" r="11.3"/><path stroke-width="3.4" stroke-linecap="round" d="M1374.9,1007.3 v33.9 M1360.6,1007.3 h28.6 M1360.6,1041.2 h28.6"/><circle cx="1374.9" cy="1024.3" r="11.3"/><path stroke-width="3.4" stroke-linecap="round" d="M1381.2,1009.7 v34.2 M1366.9,1009.7 h28.6 M1366.9,1043.9 h28.6"/><circle cx="1381.2" cy="1026.8" r="11.3"/><path stroke-width="3.4" stroke-linecap="round" d="M1387.5,1020.8 v34.5 M1373.2,1020.8 h28.6 M1373.2,1055.3 h28.6"/><circle cx="1387.5" cy="1038.1" r="11.3"/><path stroke-width="3.4" stroke-linecap="round" d="M1393.8,1022.6 v34.9 M1379.5,1022.6 h28.6 M1379.5,1057.4 h28.6"/><circle cx="1393.8" cy="1040" r="11.3"/><path stroke-width="3.4" stroke-linecap="round" d="M1400.1,1031.1 v35.2 M1385.8,1031.1 h28.6 M1385.8,1066.3 h28.6"/><circle cx="1400.1" cy="1048.7" r="11.3"/><path stroke-width="3.4" stroke-linecap="round" d="M1406.4,1044 v35.6 M1392.1,1044 h28.6 M1392.1,1079.6 h28.6"/><circle cx="1406.4" cy="1061.8" r="11.3"/><path stroke-width="3.4" stroke-linecap="round" d="M1412.7,1052 v36 M1398.4,1052 h28.6 M1398.4,1088 h28.6"/><circle cx="1412.7" cy="1070" r="11.3"/><path stroke-width="3.4" stroke-linecap="round" d="M1419,1059.1 v36.4 M1404.7,1059.1 h28.6 M1404.7,1095.5 h28.6"/><circle cx="1419" cy="1077.3" r="11.3"/><path stroke-width="3.4" stroke-linecap="round" d="M1425.3,1065.1 v36.8 M1411,1065.1 h28.6 M1411,1101.9 h28.6"/><circle cx="1425.3" cy="1083.5" r="11.3"/><path stroke-width="3.4" stroke-linecap="round" d="M1431.6,1078.4 v37.3 M1417.3,1078.4 h28.6 M1417.3,1115.7 h28.6"/><circle cx="1431.6" cy="1097.1" r="11.3"/><path stroke-width="3.4" stroke-linecap="round" d="M1437.9,1088.8 v37.8 M1423.6,1088.8 h28.6 M1423.6,1126.5 h28.6"/><circle cx="1437.9" cy="1107.6" r="11.3"/><path stroke-width="3.4" stroke-linecap="round" d="M1444.2,1103.8 v38.3 M1429.9,1103.8 h28.6 M1429.9,1142 h28.6"/><circle cx="1444.2" cy="1122.9" r="11.3"/><path stroke-width="3.4" stroke-linecap="round" d="M1450.5,1120.5 v38.8 M1436.2,1120.5 h28.6 M1436.2,1159.3 h28.6"/><circle cx="1450.5" cy="1139.9" r="11.3"/><path stroke-width="3.4" stroke-linecap="round" d="M1456.8,1129.1 v39.3 M1442.5,1129.1 h28.6 M1442.5,1168.4 h28.6"/><circle cx="1456.8" cy="1148.7" r="11.3"/><path stroke-width="3.4" stroke-linecap="round" d="M1463.1,1141 v39.9 M1448.8,1141 h28.6 M1448.8,1180.9 h28.6"/><circle cx="1463.1" cy="1160.9" r="11.3"/><path stroke-width="3.4" stroke-linecap="round" d="M1469.4,1155.2 v40.5 M1455.1,1155.2 h28.6 M1455.1,1195.7 h28.6"/><circle cx="1469.4" cy="1175.4" r="11.3"/><path stroke-width="3.4" stroke-linecap="round" d="M1475.8,1174.2 v41.1 M1461.5,1174.2 h28.6 M1461.5,1215.3 h28.6"/><circle cx="1475.8" cy="1194.7" r="11.3"/><path stroke-width="3.4" stroke-linecap="round" d="M1482.1,1190.5 v41.8 M1467.8,1190.5 h28.6 M1467.8,1232.3 h28.6"/><circle cx="1482.1" cy="1211.4" r="11.3"/><path stroke-width="3.4" stroke-linecap="round" d="M1488.4,1204.9 v42.5 M1474.1,1204.9 h28.6 M1474.1,1247.4 h28.6"/><circle cx="1488.4" cy="1226.2" r="11.3"/><path stroke-width="3.4" stroke-linecap="round" d="M1494.7,1226 v43.2 M1480.4,1226 h28.6 M1480.4,1269.2 h28.6"/><circle cx="1494.7" cy="1247.6" r="11.3"/><path stroke-width="3.4" stroke-linecap="round" d="M1501,1239.6 v43.9 M1486.7,1239.6 h28.6 M1486.7,1283.6 h28.6"/><circle cx="1501" cy="1261.6" r="11.3"/><path stroke-width="3.4" stroke-linecap="round" d="M1507.3,1263.7 v44.7 M1493,1263.7 h28.6 M1493,1308.4 h28.6"/><circle cx="1507.3" cy="1286" r="11.3"/><path stroke-width="3.4" stroke-linecap="round" d="M1513.6,1280 v45.6 M1499.3,1280 h28.6 M1499.3,1325.6 h28.6"/><circle cx="1513.6" cy="1302.8" r="11.3"/><path stroke-width="3.4" stroke-linecap="round" d="M1519.9,1295.5 v46.4 M1505.6,1295.5 h28.6 M1505.6,1341.9 h28.6"/><circle cx="1519.9" cy="1318.7" r="11.3"/><path stroke-width="3.4" stroke-linecap="round" d="M1526.2,1304 v47.3 M1511.9,1304 h28.6 M1511.9,1351.4 h28.6"/><circle cx="1526.2" cy="1327.7" r="11.3"/><path stroke-width="3.4" stroke-linecap="round" d="M1532.5,1319.7 v48.3 M1518.2,1319.7 h28.6 M1518.2,1367.9 h28.6"/><circle cx="1532.5" cy="1343.8" r="11.3"/><path stroke-width="3.4" stroke-linecap="round" d="M1538.8,1327.3 v49.3 M1524.5,1327.3 h28.6 M1524.5,1376.6 h28.6"/><circle cx="1538.8" cy="1352" r="11.3"/>
</g>
<g stroke="#0068a8" stroke-width="5.6" fill="#fff">
<path stroke-width="3.4" stroke-linecap="round" d="M880.2,948.2 v27.4 M865.9,948.2 h28.6 M865.9,975.6 h28.6"/><circle cx="880.2" cy="961.9" r="11.3"/><path stroke-width="3.4" stroke-linecap="round" d="M927.6,980.6 v27.5 M913.3,980.6 h28.6 M913.3,1008.1 h28.6"/><circle cx="927.6" cy="994.3" r="11.3"/><path stroke-width="3.4" stroke-linecap="round" d="M955.4,1000.5 v27.5 M941.1,1000.5 h28.6 M941.1,1028.1 h28.6"/><circle cx="955.4" cy="1014.3" r="11.3"/><path stroke-width="3.4" stroke-linecap="round" d="M975.1,1021.1 v27.6 M960.8,1021.1 h28.6 M960.8,1048.7 h28.6"/><circle cx="975.1" cy="1034.9" r="11.3"/><path stroke-width="3.4" stroke-linecap="round" d="M990.4,1050.6 v27.6 M976.1,1050.6 h28.6 M976.1,1078.2 h28.6"/><circle cx="990.4" cy="1064.4" r="11.3"/><path stroke-width="3.4" stroke-linecap="round" d="M1002.8,1062 v27.6 M988.5,1062 h28.6 M988.5,1089.6 h28.6"/><circle cx="1002.8" cy="1075.8" r="11.3"/><path stroke-width="3.4" stroke-linecap="round" d="M1013.4,1078.5 v27.7 M999.1,1078.5 h28.6 M999.1,1106.1 h28.6"/><circle cx="1013.4" cy="1092.3" r="11.3"/><path stroke-width="3.4" stroke-linecap="round" d="M1022.5,1095.4 v27.7 M1008.2,1095.4 h28.6 M1008.2,1123.1 h28.6"/><circle cx="1022.5" cy="1109.2" r="11.3"/><path stroke-width="3.4" stroke-linecap="round" d="M1032.4,1097.6 v27.7 M1018.1,1097.6 h28.6 M1018.1,1125.4 h28.6"/><circle cx="1032.4" cy="1111.5" r="11.3"/><path stroke-width="3.4" stroke-linecap="round" d="M1042.2,1117.5 v27.8 M1027.9,1117.5 h28.6 M1027.9,1145.3 h28.6"/><circle cx="1042.2" cy="1131.4" r="11.3"/><path stroke-width="3.4" stroke-linecap="round" d="M1052.1,1137.9 v27.8 M1037.8,1137.9 h28.6 M1037.8,1165.7 h28.6"/><circle cx="1052.1" cy="1151.8" r="11.3"/><path stroke-width="3.4" stroke-linecap="round" d="M1061.9,1155.3 v27.9 M1047.6,1155.3 h28.6 M1047.6,1183.1 h28.6"/><circle cx="1061.9" cy="1169.2" r="11.3"/><path stroke-width="3.4" stroke-linecap="round" d="M1071.8,1168.7 v27.9 M1057.5,1168.7 h28.6 M1057.5,1196.6 h28.6"/><circle cx="1071.8" cy="1182.7" r="11.3"/><path stroke-width="3.4" stroke-linecap="round" d="M1081.6,1191.9 v28 M1067.3,1191.9 h28.6 M1067.3,1219.9 h28.6"/><circle cx="1081.6" cy="1205.9" r="11.3"/><path stroke-width="3.4" stroke-linecap="round" d="M1091.5,1205.6 v28 M1077.2,1205.6 h28.6 M1077.2,1233.6 h28.6"/><circle cx="1091.5" cy="1219.6" r="11.3"/><path stroke-width="3.4" stroke-linecap="round" d="M1101.3,1216.8 v28.1 M1087,1216.8 h28.6 M1087,1244.9 h28.6"/><circle cx="1101.3" cy="1230.8" r="11.3"/><path stroke-width="3.4" stroke-linecap="round" d="M1111.2,1235.2 v28.2 M1096.9,1235.2 h28.6 M1096.9,1263.4 h28.6"/><circle cx="1111.2" cy="1249.3" r="11.3"/><path stroke-width="3.4" stroke-linecap="round" d="M1121,1259.6 v28.2 M1106.7,1259.6 h28.6 M1106.7,1287.9 h28.6"/><circle cx="1121" cy="1273.7" r="11.3"/><path stroke-width="3.4" stroke-linecap="round" d="M1130.9,1274.8 v28.3 M1116.6,1274.8 h28.6 M1116.6,1303.1 h28.6"/><circle cx="1130.9" cy="1288.9" r="11.3"/><path stroke-width="3.4" stroke-linecap="round" d="M1140.7,1280.8 v28.4 M1126.4,1280.8 h28.6 M1126.4,1309.2 h28.6"/><circle cx="1140.7" cy="1295" r="11.3"/><path stroke-width="3.4" stroke-linecap="round" d="M1150.6,1309.6 v28.5 M1136.3,1309.6 h28.6 M1136.3,1338.1 h28.6"/><circle cx="1150.6" cy="1323.8" r="11.3"/><path stroke-width="3.4" stroke-linecap="round" d="M1160.3,1320.2 v28.6 M1146,1320.2 h28.6 M1146,1348.8 h28.6"/><circle cx="1160.3" cy="1334.5" r="11.3"/><path stroke-width="3.4" stroke-linecap="round" d="M1169.8,1335.2 v28.7 M1155.5,1335.2 h28.6 M1155.5,1363.9 h28.6"/><circle cx="1169.8" cy="1349.5" r="11.3"/><path stroke-width="3.4" stroke-linecap="round" d="M1178.9,1337.9 v28.8 M1164.6,1337.9 h28.6 M1164.6,1366.7 h28.6"/><circle cx="1178.9" cy="1352.3" r="11.3"/><path stroke-width="3.4" stroke-linecap="round" d="M1187.8,1346.1 v28.9 M1173.5,1346.1 h28.6 M1173.5,1375 h28.6"/><circle cx="1187.8" cy="1360.5" r="11.3"/><path stroke-width="3.4" stroke-linecap="round" d="M1196.4,1348.5 v29 M1182.1,1348.5 h28.6 M1182.1,1377.5 h28.6"/><circle cx="1196.4" cy="1363" r="11.3"/><path stroke-width="3.4" stroke-linecap="round" d="M1204.8,1367.7 v29.1 M1190.5,1367.7 h28.6 M1190.5,1396.9 h28.6"/><circle cx="1204.8" cy="1382.3" r="11.3"/><path stroke-width="3.4" stroke-linecap="round" d="M1213,1359.8 v29.2 M1198.7,1359.8 h28.6 M1198.7,1389.1 h28.6"/><circle cx="1213" cy="1374.5" r="11.3"/><path stroke-width="3.4" stroke-linecap="round" d="M1221,1364.5 v29.4 M1206.7,1364.5 h28.6 M1206.7,1393.9 h28.6"/><circle cx="1221" cy="1379.2" r="11.3"/><path stroke-width="3.4" stroke-linecap="round" d="M1228.8,1362.1 v29.5 M1214.5,1362.1 h28.6 M1214.5,1391.6 h28.6"/><circle cx="1228.8" cy="1376.8" r="11.3"/><path stroke-width="3.4" stroke-linecap="round" d="M1236.5,1364.1 v29.6 M1222.2,1364.1 h28.6 M1222.2,1393.7 h28.6"/><circle cx="1236.5" cy="1378.9" r="11.3"/><path stroke-width="3.4" stroke-linecap="round" d="M1244,1361.7 v29.8 M1229.7,1361.7 h28.6 M1229.7,1391.4 h28.6"/><circle cx="1244" cy="1376.5" r="11.3"/><path stroke-width="3.4" stroke-linecap="round" d="M1251.3,1364 v29.9 M1237,1364 h28.6 M1237,1393.9 h28.6"/><circle cx="1251.3" cy="1378.9" r="11.3"/><path stroke-width="3.4" stroke-linecap="round" d="M1258.5,1366.3 v30 M1244.2,1366.3 h28.6 M1244.2,1396.4 h28.6"/><circle cx="1258.5" cy="1381.3" r="11.3"/><path stroke-width="3.4" stroke-linecap="round" d="M1265.6,1362.8 v30.2 M1251.3,1362.8 h28.6 M1251.3,1393 h28.6"/><circle cx="1265.6" cy="1377.9" r="11.3"/><path stroke-width="3.4" stroke-linecap="round" d="M1272.5,1366.5 v30.4 M1258.2,1366.5 h28.6 M1258.2,1396.9 h28.6"/><circle cx="1272.5" cy="1381.7" r="11.3"/><path stroke-width="3.4" stroke-linecap="round" d="M1279.3,1365.3 v30.5 M1265,1365.3 h28.6 M1265,1395.8 h28.6"/><circle cx="1279.3" cy="1380.6" r="11.3"/><path stroke-width="3.4" stroke-linecap="round" d="M1286,1363.1 v30.7 M1271.7,1363.1 h28.6 M1271.7,1393.7 h28.6"/><circle cx="1286" cy="1378.4" r="11.3"/><path stroke-width="3.4" stroke-linecap="round" d="M1292.6,1363.9 v30.9 M1278.3,1363.9 h28.6 M1278.3,1394.7 h28.6"/><circle cx="1292.6" cy="1379.3" r="11.3"/><path stroke-width="3.4" stroke-linecap="round" d="M1299.1,1363.8 v31 M1284.8,1363.8 h28.6 M1284.8,1394.9 h28.6"/><circle cx="1299.1" cy="1379.4" r="11.3"/><path stroke-width="3.4" stroke-linecap="round" d="M1305.5,1364.4 v31.2 M1291.2,1364.4 h28.6 M1291.2,1395.6 h28.6"/><circle cx="1305.5" cy="1380" r="11.3"/><path stroke-width="3.4" stroke-linecap="round" d="M1311.8,1363.5 v31.4 M1297.5,1363.5 h28.6 M1297.5,1394.9 h28.6"/><circle cx="1311.8" cy="1379.2" r="11.3"/><path stroke-width="3.4" stroke-linecap="round" d="M1318.2,1363 v31.6 M1303.9,1363 h28.6 M1303.9,1394.6 h28.6"/><circle cx="1318.2" cy="1378.8" r="11.3"/><path stroke-width="3.4" stroke-linecap="round" d="M1324.5,1363.7 v31.8 M1310.2,1363.7 h28.6 M1310.2,1395.5 h28.6"/><circle cx="1324.5" cy="1379.6" r="11.3"/><path stroke-width="3.4" stroke-linecap="round" d="M1330.8,1362.4 v32 M1316.5,1362.4 h28.6 M1316.5,1394.4 h28.6"/><circle cx="1330.8" cy="1378.4" r="11.3"/><path stroke-width="3.4" stroke-linecap="round" d="M1337.1,1361.9 v32.3 M1322.8,1361.9 h28.6 M1322.8,1394.1 h28.6"/><circle cx="1337.1" cy="1378" r="11.3"/><path stroke-width="3.4" stroke-linecap="round" d="M1343.4,1363.8 v32.5 M1329.1,1363.8 h28.6 M1329.1,1396.3 h28.6"/><circle cx="1343.4" cy="1380" r="11.3"/><path stroke-width="3.4" stroke-linecap="round" d="M1349.7,1365.2 v32.7 M1335.4,1365.2 h28.6 M1335.4,1397.9 h28.6"/><circle cx="1349.7" cy="1381.6" r="11.3"/><path stroke-width="3.4" stroke-linecap="round" d="M1356,1361.1 v33 M1341.7,1361.1 h28.6 M1341.7,1394.1 h28.6"/><circle cx="1356" cy="1377.6" r="11.3"/><path stroke-width="3.4" stroke-linecap="round" d="M1362.3,1363.5 v33.3 M1348,1363.5 h28.6 M1348,1396.7 h28.6"/><circle cx="1362.3" cy="1380.1" r="11.3"/><path stroke-width="3.4" stroke-linecap="round" d="M1368.6,1362.2 v33.6 M1354.3,1362.2 h28.6 M1354.3,1395.8 h28.6"/><circle cx="1368.6" cy="1379" r="11.3"/><path stroke-width="3.4" stroke-linecap="round" d="M1374.9,1361.5 v33.9 M1360.6,1361.5 h28.6 M1360.6,1395.4 h28.6"/><circle cx="1374.9" cy="1378.4" r="11.3"/><path stroke-width="3.4" stroke-linecap="round" d="M1381.2,1364.5 v34.2 M1366.9,1364.5 h28.6 M1366.9,1398.7 h28.6"/><circle cx="1381.2" cy="1381.6" r="11.3"/><path stroke-width="3.4" stroke-linecap="round" d="M1387.5,1361.9 v34.5 M1373.2,1361.9 h28.6 M1373.2,1396.5 h28.6"/><circle cx="1387.5" cy="1379.2" r="11.3"/><path stroke-width="3.4" stroke-linecap="round" d="M1393.8,1365.3 v34.9 M1379.5,1365.3 h28.6 M1379.5,1400.2 h28.6"/><circle cx="1393.8" cy="1382.7" r="11.3"/><path stroke-width="3.4" stroke-linecap="round" d="M1400.1,1361.1 v35.2 M1385.8,1361.1 h28.6 M1385.8,1396.3 h28.6"/><circle cx="1400.1" cy="1378.7" r="11.3"/><path stroke-width="3.4" stroke-linecap="round" d="M1406.4,1363 v35.6 M1392.1,1363 h28.6 M1392.1,1398.6 h28.6"/><circle cx="1406.4" cy="1380.8" r="11.3"/><path stroke-width="3.4" stroke-linecap="round" d="M1412.7,1361.7 v36 M1398.4,1361.7 h28.6 M1398.4,1397.7 h28.6"/><circle cx="1412.7" cy="1379.7" r="11.3"/><path stroke-width="3.4" stroke-linecap="round" d="M1419,1360.5 v36.4 M1404.7,1360.5 h28.6 M1404.7,1396.9 h28.6"/><circle cx="1419" cy="1378.7" r="11.3"/><path stroke-width="3.4" stroke-linecap="round" d="M1425.3,1362.8 v36.8 M1411,1362.8 h28.6 M1411,1399.6 h28.6"/><circle cx="1425.3" cy="1381.2" r="11.3"/><path stroke-width="3.4" stroke-linecap="round" d="M1431.6,1361.2 v37.3 M1417.3,1361.2 h28.6 M1417.3,1398.4 h28.6"/><circle cx="1431.6" cy="1379.8" r="11.3"/><path stroke-width="3.4" stroke-linecap="round" d="M1437.9,1362.4 v37.8 M1423.6,1362.4 h28.6 M1423.6,1400.2 h28.6"/><circle cx="1437.9" cy="1381.3" r="11.3"/><path stroke-width="3.4" stroke-linecap="round" d="M1444.2,1360.9 v38.3 M1429.9,1360.9 h28.6 M1429.9,1399.1 h28.6"/><circle cx="1444.2" cy="1380" r="11.3"/><path stroke-width="3.4" stroke-linecap="round" d="M1450.5,1358.5 v38.8 M1436.2,1358.5 h28.6 M1436.2,1397.3 h28.6"/><circle cx="1450.5" cy="1377.9" r="11.3"/><path stroke-width="3.4" stroke-linecap="round" d="M1456.8,1360.2 v39.3 M1442.5,1360.2 h28.6 M1442.5,1399.5 h28.6"/><circle cx="1456.8" cy="1379.9" r="11.3"/><path stroke-width="3.4" stroke-linecap="round" d="M1463.1,1360.3 v39.9 M1448.8,1360.3 h28.6 M1448.8,1400.2 h28.6"/><circle cx="1463.1" cy="1380.2" r="11.3"/><path stroke-width="3.4" stroke-linecap="round" d="M1469.4,1362 v40.5 M1455.1,1362 h28.6 M1455.1,1402.5 h28.6"/><circle cx="1469.4" cy="1382.2" r="11.3"/><path stroke-width="3.4" stroke-linecap="round" d="M1475.8,1357.4 v41.1 M1461.5,1357.4 h28.6 M1461.5,1398.6 h28.6"/><circle cx="1475.8" cy="1378" r="11.3"/><path stroke-width="3.4" stroke-linecap="round" d="M1482.1,1359.1 v41.8 M1467.8,1359.1 h28.6 M1467.8,1400.9 h28.6"/><circle cx="1482.1" cy="1380" r="11.3"/><path stroke-width="3.4" stroke-linecap="round" d="M1488.4,1354.6 v42.5 M1474.1,1354.6 h28.6 M1474.1,1397.1 h28.6"/><circle cx="1488.4" cy="1375.8" r="11.3"/><path stroke-width="3.4" stroke-linecap="round" d="M1494.7,1360.2 v43.2 M1480.4,1360.2 h28.6 M1480.4,1403.4 h28.6"/><circle cx="1494.7" cy="1381.8" r="11.3"/><path stroke-width="3.4" stroke-linecap="round" d="M1501,1355.2 v43.9 M1486.7,1355.2 h28.6 M1486.7,1399.2 h28.6"/><circle cx="1501" cy="1377.2" r="11.3"/><path stroke-width="3.4" stroke-linecap="round" d="M1507.3,1352.7 v44.7 M1493,1352.7 h28.6 M1493,1397.5 h28.6"/><circle cx="1507.3" cy="1375.1" r="11.3"/><path stroke-width="3.4" stroke-linecap="round" d="M1513.6,1357.1 v45.6 M1499.3,1357.1 h28.6 M1499.3,1402.7 h28.6"/><circle cx="1513.6" cy="1379.9" r="11.3"/><path stroke-width="3.4" stroke-linecap="round" d="M1519.9,1360.2 v46.4 M1505.6,1360.2 h28.6 M1505.6,1406.7 h28.6"/><circle cx="1519.9" cy="1383.5" r="11.3"/><path stroke-width="3.4" stroke-linecap="round" d="M1526.2,1351.6 v47.3 M1511.9,1351.6 h28.6 M1511.9,1398.9 h28.6"/><circle cx="1526.2" cy="1375.3" r="11.3"/><path stroke-width="3.4" stroke-linecap="round" d="M1532.5,1352.3 v48.3 M1518.2,1352.3 h28.6 M1518.2,1400.6 h28.6"/><circle cx="1532.5" cy="1376.5" r="11.3"/><path stroke-width="3.4" stroke-linecap="round" d="M1538.8,1352.9 v49.3 M1524.5,1352.9 h28.6 M1524.5,1402.1 h28.6"/><circle cx="1538.8" cy="1377.5" r="11.3"/>
</g>
<path d="M879.5,853.5 L881.4,853.5 L883.2,853.5 L885.1,853.5 L886.9,853.5 L888.8,853.5 L890.7,853.5 L892.5,853.5 L894.4,853.5 L896.3,853.6 L898.1,853.6 L900,853.6 L901.8,853.6 L903.7,853.6 L905.6,853.6 L907.4,853.6 L909.3,853.6 L911.2,853.6 L913,853.6 L914.9,853.6 L916.7,853.6 L918.6,853.6 L920.5,853.6 L922.3,853.6 L924.2,853.6 L926.1,853.6 L927.9,853.6 L929.8,853.6 L931.6,853.6 L933.5,853.6 L935.4,853.6 L937.2,853.6 L939.1,853.6 L941,853.6 L942.8,853.6 L944.7,853.6 L946.5,853.6 L948.4,853.6 L950.3,853.6 L952.1,853.6 L954,853.6 L955.8,853.6 L957.7,853.6 L959.6,853.6 L961.4,853.7 L963.3,853.7 L965.2,853.7 L967,853.7 L968.9,853.7 L970.7,853.7 L972.6,853.7 L974.5,853.7 L976.3,853.7 L978.2,853.7 L980.1,853.7 L981.9,853.7 L983.8,853.7 L985.6,853.7 L987.5,853.7 L989.4,853.7 L991.2,853.7 L993.1,853.7 L995,853.7 L996.8,853.8 L998.7,853.8 L1000.5,853.8 L1002.4,853.8 L1004.3,853.8 L1006.1,853.8 L1008,853.8 L1009.9,853.8 L1011.7,853.8 L1013.6,853.8 L1015.4,853.8 L1017.3,853.8 L1019.2,853.9 L1021,853.9 L1022.9,853.9 L1024.7,853.9 L1026.6,853.9 L1028.5,853.9 L1030.3,853.9 L1032.2,853.9 L1034.1,853.9 L1035.9,853.9 L1037.8,854 L1039.6,854 L1041.5,854 L1043.4,854 L1045.2,854 L1047.1,854 L1049,854 L1050.8,854 L1052.7,854.1 L1054.5,854.1 L1056.4,854.1 L1058.3,854.1 L1060.1,854.1 L1062,854.1 L1063.9,854.2 L1065.7,854.2 L1067.6,854.2 L1069.4,854.2 L1071.3,854.2 L1073.2,854.2 L1075,854.3 L1076.9,854.3 L1078.8,854.3 L1080.6,854.3 L1082.5,854.3 L1084.3,854.4 L1086.2,854.4 L1088.1,854.4 L1089.9,854.4 L1091.8,854.5 L1093.6,854.5 L1095.5,854.5 L1097.4,854.5 L1099.2,854.6 L1101.1,854.6 L1103,854.6 L1104.8,854.6 L1106.7,854.7 L1108.5,854.7 L1110.4,854.7 L1112.3,854.8 L1114.1,854.8 L1116,854.8 L1117.9,854.9 L1119.7,854.9 L1121.6,854.9 L1123.4,855 L1125.3,855 L1127.2,855.1 L1129,855.1 L1130.9,855.1 L1132.8,855.2 L1134.6,855.2 L1136.5,855.3 L1138.3,855.3 L1140.2,855.4 L1142.1,855.4 L1143.9,855.4 L1145.8,855.5 L1147.7,855.5 L1149.5,855.6 L1151.4,855.7 L1153.2,855.7 L1155.1,855.8 L1157,855.8 L1158.8,855.9 L1160.7,855.9 L1162.5,856 L1164.4,856.1 L1166.3,856.1 L1168.1,856.2 L1170,856.3 L1171.9,856.3 L1173.7,856.4 L1175.6,856.5 L1177.4,856.6 L1179.3,856.6 L1181.2,856.7 L1183,856.8 L1184.9,856.9 L1186.8,857 L1188.6,857.1 L1190.5,857.1 L1192.3,857.2 L1194.2,857.3 L1196.1,857.4 L1197.9,857.5 L1199.8,857.6 L1201.7,857.7 L1203.5,857.8 L1205.4,857.9 L1207.2,858.1 L1209.1,858.2 L1211,858.3 L1212.8,858.4 L1214.7,858.5 L1216.6,858.7 L1218.4,858.8 L1220.3,858.9 L1222.1,859.1 L1224,859.2 L1225.9,859.3 L1227.7,859.5 L1229.6,859.6 L1231.4,859.8 L1233.3,860 L1235.2,860.1 L1237,860.3 L1238.9,860.5 L1240.8,860.6 L1242.6,860.8 L1244.5,861 L1246.3,861.2 L1248.2,861.4 L1250.1,861.6 L1251.9,861.8 L1253.8,862 L1255.7,862.2 L1257.5,862.4 L1259.4,862.6 L1261.2,862.9 L1263.1,863.1 L1265,863.3 L1266.8,863.6 L1268.7,863.8 L1270.6,864.1 L1272.4,864.4 L1274.3,864.6 L1276.1,864.9 L1278,865.2 L1279.9,865.5 L1281.7,865.8 L1283.6,866.1 L1285.4,866.4 L1287.3,866.7 L1289.2,867.1 L1291,867.4 L1292.9,867.7 L1294.8,868.1 L1296.6,868.5 L1298.5,868.8 L1300.3,869.2 L1302.2,869.6 L1304.1,870 L1305.9,870.4 L1307.8,870.8 L1309.7,871.3 L1311.5,871.7 L1313.4,872.2 L1315.2,872.6 L1317.1,873.1 L1319,873.6 L1320.8,874.1 L1322.7,874.6 L1324.6,875.1 L1326.4,875.6 L1328.3,876.2 L1330.1,876.7 L1332,877.3 L1333.9,877.9 L1335.7,878.5 L1337.6,879.1 L1339.5,879.7 L1341.3,880.4 L1343.2,881 L1345,881.7 L1346.9,882.4 L1348.8,883.1 L1350.6,883.8 L1352.5,884.6 L1354.3,885.4 L1356.2,886.1 L1358.1,886.9 L1359.9,887.7 L1361.8,888.6 L1363.7,889.4 L1365.5,890.3 L1367.4,891.2 L1369.2,892.1 L1371.1,893 L1373,894 L1374.8,895 L1376.7,896 L1378.6,897 L1380.4,898.1 L1382.3,899.1 L1384.1,900.2 L1386,901.4 L1387.9,902.5 L1389.7,903.7 L1391.6,904.9 L1393.5,906.1 L1395.3,907.4 L1397.2,908.6 L1399,910 L1400.9,911.3 L1402.8,912.7 L1404.6,914.1 L1406.5,915.5 L1408.4,917 L1410.2,918.5 L1412.1,920 L1413.9,921.6 L1415.8,923.2 L1417.7,924.8 L1419.5,926.5 L1421.4,928.2 L1423.2,929.9 L1425.1,931.7 L1427,933.5 L1428.8,935.3 L1430.7,937.2 L1432.6,939.2 L1434.4,941.1 L1436.3,943.1 L1438.1,945.2 L1440,947.3 L1441.9,949.4 L1443.7,951.6 L1445.6,953.8 L1447.5,956.1 L1449.3,958.4 L1451.2,960.7 L1453,963.1 L1454.9,965.6 L1456.8,968.1 L1458.6,970.6 L1460.5,973.2 L1462.4,975.8 L1464.2,978.5 L1466.1,981.3 L1467.9,984 L1469.8,986.9 L1471.7,989.8 L1473.5,992.7 L1475.4,995.7 L1477.3,998.7 L1479.1,1001.8 L1481,1005 L1482.8,1008.1 L1484.7,1011.4 L1486.6,1014.7 L1488.4,1018 L1490.3,1021.4 L1492.1,1024.9 L1494,1028.4 L1495.9,1032 L1497.7,1035.6 L1499.6,1039.2 L1501.5,1043 L1503.3,1046.7 L1505.2,1050.5 L1507,1054.4 L1508.9,1058.3 L1510.8,1062.3 L1512.6,1066.3 L1514.5,1070.4 L1516.4,1074.5 L1518.2,1078.7 L1520.1,1082.9 L1521.9,1087.1 L1523.8,1091.4 L1525.7,1095.8 L1527.5,1100.1 L1529.4,1104.6 L1531.3,1109 L1533.1,1113.5 L1535,1118.1 L1536.8,1122.6 L1538.7,1127.2 L1540.6,1131.9 L1542.4,1136.5 L1544.3,1141.2 L1546.2,1145.9 L1548,1150.7 L1549.9,1155.4 L1551.7,1160.2 L1553.6,1165 L1555.5,1169.8 L1557.3,1174.6 L1559.2,1179.4 L1561,1184.2 L1562.9,1189 L1564.8,1193.9 L1566.6,1198.7 L1568.5,1203.5 L1570.4,1208.3 L1572.2,1213.1 L1574.1,1217.8 L1575.9,1222.6 L1577.8,1227.3 L1579.7,1232 L1581.5,1236.6 L1583.4,1241.3 L1585.3,1245.8 L1587.1,1250.4 L1589,1254.9 L1590.8,1259.3 L1592.7,1263.7 L1594.6,1268.1 L1596.4,1272.4 L1598.3,1276.6 L1600.2,1280.8 L1602,1284.8 L1603.9,1288.9 L1605.7,1292.8 L1607.6,1296.7 L1609.5,1300.5 L1611.3,1304.2 L1613.2,1307.8 L1615.1,1311.3 L1616.9,1314.7 L1618.8,1318.1 L1620.6,1321.3 L1622.5,1324.5" stroke="#000" stroke-width="5" fill="none"/>
<path d="M879.5,854.3 L881.4,854.4 L883.2,854.4 L885.1,854.5 L886.9,854.5 L888.8,854.6 L890.7,854.6 L892.5,854.7 L894.4,854.7 L896.3,854.8 L898.1,854.8 L900,854.9 L901.8,854.9 L903.7,855 L905.6,855 L907.4,855.1 L909.3,855.1 L911.2,855.2 L913,855.2 L914.9,855.3 L916.7,855.4 L918.6,855.4 L920.5,855.5 L922.3,855.6 L924.2,855.6 L926.1,855.7 L927.9,855.8 L929.8,855.8 L931.6,855.9 L933.5,856 L935.4,856 L937.2,856.1 L939.1,856.2 L941,856.3 L942.8,856.3 L944.7,856.4 L946.5,856.5 L948.4,856.6 L950.3,856.7 L952.1,856.7 L954,856.8 L955.8,856.9 L957.7,857 L959.6,857.1 L961.4,857.2 L963.3,857.3 L965.2,857.4 L967,857.5 L968.9,857.6 L970.7,857.7 L972.6,857.8 L974.5,857.9 L976.3,858 L978.2,858.1 L980.1,858.2 L981.9,858.3 L983.8,858.4 L985.6,858.5 L987.5,858.6 L989.4,858.7 L991.2,858.9 L993.1,859 L995,859.1 L996.8,859.2 L998.7,859.3 L1000.5,859.5 L1002.4,859.6 L1004.3,859.7 L1006.1,859.9 L1008,860 L1009.9,860.2 L1011.7,860.3 L1013.6,860.4 L1015.4,860.6 L1017.3,860.7 L1019.2,860.9 L1021,861 L1022.9,861.2 L1024.7,861.4 L1026.6,861.5 L1028.5,861.7 L1030.3,861.9 L1032.2,862 L1034.1,862.2 L1035.9,862.4 L1037.8,862.6 L1039.6,862.7 L1041.5,862.9 L1043.4,863.1 L1045.2,863.3 L1047.1,863.5 L1049,863.7 L1050.8,863.9 L1052.7,864.1 L1054.5,864.3 L1056.4,864.5 L1058.3,864.7 L1060.1,865 L1062,865.2 L1063.9,865.4 L1065.7,865.6 L1067.6,865.9 L1069.4,866.1 L1071.3,866.4 L1073.2,866.6 L1075,866.9 L1076.9,867.1 L1078.8,867.4 L1080.6,867.6 L1082.5,867.9 L1084.3,868.2 L1086.2,868.4 L1088.1,868.7 L1089.9,869 L1091.8,869.3 L1093.6,869.6 L1095.5,869.9 L1097.4,870.2 L1099.2,870.5 L1101.1,870.8 L1103,871.1 L1104.8,871.5 L1106.7,871.8 L1108.5,872.1 L1110.4,872.5 L1112.3,872.8 L1114.1,873.2 L1116,873.5 L1117.9,873.9 L1119.7,874.3 L1121.6,874.6 L1123.4,875 L1125.3,875.4 L1127.2,875.8 L1129,876.2 L1130.9,876.6 L1132.8,877 L1134.6,877.4 L1136.5,877.9 L1138.3,878.3 L1140.2,878.8 L1142.1,879.2 L1143.9,879.7 L1145.8,880.1 L1147.7,880.6 L1149.5,881.1 L1151.4,881.6 L1153.2,882.1 L1155.1,882.6 L1157,883.1 L1158.8,883.6 L1160.7,884.1 L1162.5,884.6 L1164.4,885.2 L1166.3,885.7 L1168.1,886.3 L1170,886.9 L1171.9,887.4 L1173.7,888 L1175.6,888.6 L1177.4,889.2 L1179.3,889.9 L1181.2,890.5 L1183,891.1 L1184.9,891.8 L1186.8,892.4 L1188.6,893.1 L1190.5,893.8 L1192.3,894.4 L1194.2,895.1 L1196.1,895.9 L1197.9,896.6 L1199.8,897.3 L1201.7,898.1 L1203.5,898.8 L1205.4,899.6 L1207.2,900.3 L1209.1,901.1 L1211,901.9 L1212.8,902.8 L1214.7,903.6 L1216.6,904.4 L1218.4,905.3 L1220.3,906.1 L1222.1,907 L1224,907.9 L1225.9,908.8 L1227.7,909.7 L1229.6,910.7 L1231.4,911.6 L1233.3,912.6 L1235.2,913.5 L1237,914.5 L1238.9,915.5 L1240.8,916.6 L1242.6,917.6 L1244.5,918.6 L1246.3,919.7 L1248.2,920.8 L1250.1,921.9 L1251.9,923 L1253.8,924.1 L1255.7,925.3 L1257.5,926.4 L1259.4,927.6 L1261.2,928.8 L1263.1,930 L1265,931.2 L1266.8,932.5 L1268.7,933.8 L1270.6,935 L1272.4,936.3 L1274.3,937.7 L1276.1,939 L1278,940.4 L1279.9,941.7 L1281.7,943.1 L1283.6,944.5 L1285.4,946 L1287.3,947.4 L1289.2,948.9 L1291,950.4 L1292.9,951.9 L1294.8,953.4 L1296.6,955 L1298.5,956.6 L1300.3,958.2 L1302.2,959.8 L1304.1,961.4 L1305.9,963.1 L1307.8,964.8 L1309.7,966.5 L1311.5,968.2 L1313.4,969.9 L1315.2,971.7 L1317.1,973.5 L1319,975.3 L1320.8,977.1 L1322.7,979 L1324.6,980.9 L1326.4,982.8 L1328.3,984.7 L1330.1,986.7 L1332,988.6 L1333.9,990.6 L1335.7,992.7 L1337.6,994.7 L1339.5,996.8 L1341.3,998.9 L1343.2,1001 L1345,1003.1 L1346.9,1005.3 L1348.8,1007.5 L1350.6,1009.7 L1352.5,1011.9 L1354.3,1014.2 L1356.2,1016.5 L1358.1,1018.8 L1359.9,1021.1 L1361.8,1023.5 L1363.7,1025.9 L1365.5,1028.3 L1367.4,1030.7 L1369.2,1033.2 L1371.1,1035.7 L1373,1038.2 L1374.8,1040.7 L1376.7,1043.2 L1378.6,1045.8 L1380.4,1048.4 L1382.3,1051.1 L1384.1,1053.7 L1386,1056.4 L1387.9,1059.1 L1389.7,1061.8 L1391.6,1064.5 L1393.5,1067.3 L1395.3,1070.1 L1397.2,1072.9 L1399,1075.7 L1400.9,1078.6 L1402.8,1081.4 L1404.6,1084.3 L1406.5,1087.2 L1408.4,1090.2 L1410.2,1093.1 L1412.1,1096.1 L1413.9,1099.1 L1415.8,1102.1 L1417.7,1105.1 L1419.5,1108.2 L1421.4,1111.3 L1423.2,1114.3 L1425.1,1117.4 L1427,1120.6 L1428.8,1123.7 L1430.7,1126.8 L1432.6,1130 L1434.4,1133.2 L1436.3,1136.3 L1438.1,1139.5 L1440,1142.7 L1441.9,1146 L1443.7,1149.2 L1445.6,1152.4 L1447.5,1155.7 L1449.3,1158.9 L1451.2,1162.2 L1453,1165.5 L1454.9,1168.7 L1456.8,1172 L1458.6,1175.3 L1460.5,1178.6 L1462.4,1181.9 L1464.2,1185.2 L1466.1,1188.5 L1467.9,1191.7 L1469.8,1195 L1471.7,1198.3 L1473.5,1201.6 L1475.4,1204.9 L1477.3,1208.1 L1479.1,1211.4 L1481,1214.7 L1482.8,1217.9 L1484.7,1221.1 L1486.6,1224.4 L1488.4,1227.6 L1490.3,1230.8 L1492.1,1234 L1494,1237.1 L1495.9,1240.3 L1497.7,1243.4 L1499.6,1246.5 L1501.5,1249.6 L1503.3,1252.7 L1505.2,1255.8 L1507,1258.8 L1508.9,1261.8 L1510.8,1264.8 L1512.6,1267.8 L1514.5,1270.7 L1516.4,1273.6 L1518.2,1276.5 L1520.1,1279.3 L1521.9,1282.1 L1523.8,1284.9 L1525.7,1287.6 L1527.5,1290.3 L1529.4,1293 L1531.3,1295.7 L1533.1,1298.3 L1535,1300.8 L1536.8,1303.3 L1538.7,1305.8 L1540.6,1308.3 L1542.4,1310.7 L1544.3,1313 L1546.2,1315.4 L1548,1317.6 L1549.9,1319.9 L1551.7,1322.1 L1553.6,1324.2 L1555.5,1326.3 L1557.3,1328.4 L1559.2,1330.4 L1561,1332.4 L1562.9,1334.3 L1564.8,1336.1 L1566.6,1338 L1568.5,1339.8 L1570.4,1341.5 L1572.2,1343.2 L1574.1,1344.8 L1575.9,1346.4 L1577.8,1348 L1579.7,1349.5 L1581.5,1350.9 L1583.4,1352.3 L1585.3,1353.7 L1587.1,1355 L1589,1356.3 L1590.8,1357.5 L1592.7,1358.7 L1594.6,1359.8 L1596.4,1360.9 L1598.3,1362 L1600.2,1363 L1602,1364 L1603.9,1364.9 L1605.7,1365.8 L1607.6,1366.6 L1609.5,1367.5 L1611.3,1368.2 L1613.2,1369 L1615.1,1369.7 L1616.9,1370.4 L1618.8,1371 L1620.6,1371.6 L1622.5,1372.2" stroke="#000" stroke-width="5" fill="none"/>
<path d="M879.5,945.4 L881.4,946.6 L883.2,947.9 L885.1,949.1 L886.9,950.4 L888.8,951.8 L890.7,953.1 L892.5,954.5 L894.4,955.8 L896.3,957.2 L898.1,958.7 L900,960.1 L901.8,961.6 L903.7,963 L905.6,964.5 L907.4,966.1 L909.3,967.6 L911.2,969.2 L913,970.8 L914.9,972.4 L916.7,974 L918.6,975.7 L920.5,977.3 L922.3,979 L924.2,980.8 L926.1,982.5 L927.9,984.3 L929.8,986.1 L931.6,987.9 L933.5,989.7 L935.4,991.6 L937.2,993.5 L939.1,995.4 L941,997.3 L942.8,999.3 L944.7,1001.3 L946.5,1003.3 L948.4,1005.3 L950.3,1007.4 L952.1,1009.5 L954,1011.6 L955.8,1013.7 L957.7,1015.9 L959.6,1018.1 L961.4,1020.3 L963.3,1022.5 L965.2,1024.8 L967,1027.1 L968.9,1029.4 L970.7,1031.7 L972.6,1034.1 L974.5,1036.5 L976.3,1038.9 L978.2,1041.4 L980.1,1043.8 L981.9,1046.3 L983.8,1048.9 L985.6,1051.4 L987.5,1054 L989.4,1056.6 L991.2,1059.2 L993.1,1061.8 L995,1064.5 L996.8,1067.2 L998.7,1069.9 L1000.5,1072.7 L1002.4,1075.5 L1004.3,1078.2 L1006.1,1081.1 L1008,1083.9 L1009.9,1086.8 L1011.7,1089.7 L1013.6,1092.6 L1015.4,1095.5 L1017.3,1098.4 L1019.2,1101.4 L1021,1104.4 L1022.9,1107.4 L1024.7,1110.5 L1026.6,1113.5 L1028.5,1116.6 L1030.3,1119.7 L1032.2,1122.8 L1034.1,1125.9 L1035.9,1129.1 L1037.8,1132.2 L1039.6,1135.4 L1041.5,1138.6 L1043.4,1141.8 L1045.2,1145 L1047.1,1148.3 L1049,1151.5 L1050.8,1154.7 L1052.7,1158 L1054.5,1161.3 L1056.4,1164.6 L1058.3,1167.9 L1060.1,1171.2 L1062,1174.5 L1063.9,1177.8 L1065.7,1181.1 L1067.6,1184.4 L1069.4,1187.7 L1071.3,1191.1 L1073.2,1194.4 L1075,1197.7 L1076.9,1201 L1078.8,1204.3 L1080.6,1207.7 L1082.5,1211 L1084.3,1214.3 L1086.2,1217.6 L1088.1,1220.8 L1089.9,1224.1 L1091.8,1227.4 L1093.6,1230.6 L1095.5,1233.9 L1097.4,1237.1 L1099.2,1240.3 L1101.1,1243.5 L1103,1246.7 L1104.8,1249.8 L1106.7,1253 L1108.5,1256.1 L1110.4,1259.2 L1112.3,1262.3 L1114.1,1265.3 L1116,1268.3 L1117.9,1271.3 L1119.7,1274.3 L1121.6,1277.2 L1123.4,1280.1 L1125.3,1283 L1127.2,1285.8 L1129,1288.6 L1130.9,1291.4 L1132.8,1294.1 L1134.6,1296.8 L1136.5,1299.4 L1138.3,1302.1 L1140.2,1304.6 L1142.1,1307.2 L1143.9,1309.7 L1145.8,1312.1 L1147.7,1314.5 L1149.5,1316.9 L1151.4,1319.2 L1153.2,1321.4 L1155.1,1323.7 L1157,1325.8 L1158.8,1328 L1160.7,1330.1 L1162.5,1332.1 L1164.4,1334.1 L1166.3,1336 L1168.1,1337.9 L1170,1339.7 L1171.9,1341.5 L1173.7,1343.3 L1175.6,1344.9 L1177.4,1346.6 L1179.3,1348.2 L1181.2,1349.7 L1183,1351.2 L1184.9,1352.6 L1186.8,1354 L1188.6,1355.4 L1190.5,1356.7 L1192.3,1357.9 L1194.2,1359.2 L1196.1,1360.3 L1197.9,1361.4 L1199.8,1362.5 L1201.7,1363.5 L1203.5,1364.5 L1205.4,1365.5 L1207.2,1366.4 L1209.1,1367.2 L1211,1368 L1212.8,1368.8 L1214.7,1369.6 L1216.6,1370.3 L1218.4,1370.9 L1220.3,1371.6 L1222.1,1372.2 L1224,1372.7 L1225.9,1373.3 L1227.7,1373.8 L1229.6,1374.3 L1231.4,1374.7 L1233.3,1375.1 L1235.2,1375.5 L1237,1375.9 L1238.9,1376.2 L1240.8,1376.6 L1242.6,1376.9 L1244.5,1377.1 L1246.3,1377.4 L1248.2,1377.6 L1250.1,1377.9 L1251.9,1378.1 L1253.8,1378.3 L1255.7,1378.4 L1257.5,1378.6 L1259.4,1378.7 L1261.2,1378.9 L1263.1,1379 L1265,1379.1 L1266.8,1379.2 L1268.7,1379.3 L1270.6,1379.4 L1272.4,1379.5 L1274.3,1379.6 L1276.1,1379.6 L1278,1379.7 L1279.9,1379.7 L1281.7,1379.8 L1283.6,1379.8 L1285.4,1379.8 L1287.3,1379.9 L1289.2,1379.9 L1291,1379.9 L1292.9,1380 L1294.8,1380 L1296.6,1380 L1298.5,1380 L1300.3,1380 L1302.2,1380 L1304.1,1380 L1305.9,1380.1 L1307.8,1380.1 L1309.7,1380.1 L1311.5,1380.1 L1313.4,1380.1 L1315.2,1380.1 L1317.1,1380.1 L1319,1380.1 L1320.8,1380.1 L1322.7,1380.1 L1324.6,1380.1 L1326.4,1380.1 L1328.3,1380.1 L1330.1,1380.1 L1332,1380.1 L1333.9,1380.1 L1335.7,1380.1 L1337.6,1380.1 L1339.5,1380.1 L1341.3,1380.1 L1343.2,1380.1 L1345,1380.1 L1346.9,1380.1 L1348.8,1380.1 L1350.6,1380.1 L1352.5,1380.1 L1354.3,1380.1 L1356.2,1380.1 L1358.1,1380.1 L1359.9,1380.1 L1361.8,1380.1 L1363.7,1380.1 L1365.5,1380.1 L1367.4,1380.1 L1369.2,1380.1 L1371.1,1380.1 L1373,1380.1 L1374.8,1380.1 L1376.7,1380.1 L1378.6,1380.1 L1380.4,1380.1 L1382.3,1380.1 L1384.1,1380.1 L1386,1380.1 L1387.9,1380.1 L1389.7,1380.1 L1391.6,1380.1 L1393.5,1380.1 L1395.3,1380.1 L1397.2,1380.1 L1399,1380.1 L1400.9,1380.1 L1402.8,1380.1 L1404.6,1380.1 L1406.5,1380.1 L1408.4,1380.1 L1410.2,1380.1 L1412.1,1380.1 L1413.9,1380.1 L1415.8,1380.1 L1417.7,1380.1 L1419.5,1380.1 L1421.4,1380.1 L1423.2,1380.1 L1425.1,1380.1 L1427,1380.1 L1428.8,1380.1 L1430.7,1380.1 L1432.6,1380.1 L1434.4,1380.1 L1436.3,1380.1 L1438.1,1380.1 L1440,1380.1 L1441.9,1380.1 L1443.7,1380.1 L1445.6,1380.1 L1447.5,1380.1 L1449.3,1380.1 L1451.2,1380.1 L1453,1380.1 L1454.9,1380.1 L1456.8,1380.1 L1458.6,1380.1 L1460.5,1380.1 L1462.4,1380.1 L1464.2,1380.1 L1466.1,1380.1 L1467.9,1380.1 L1469.8,1380.1 L1471.7,1380.1 L1473.5,1380.1 L1475.4,1380.1 L1477.3,1380.1 L1479.1,1380.1 L1481,1380.1 L1482.8,1380.1 L1484.7,1380.1 L1486.6,1380.1 L1488.4,1380.1 L1490.3,1380.1 L1492.1,1380.1 L1494,1380.1 L1495.9,1380.1 L1497.7,1380.1 L1499.6,1380.1 L1501.5,1380.1 L1503.3,1380.1 L1505.2,1380.1 L1507,1380.1 L1508.9,1380.1 L1510.8,1380.1 L1512.6,1380.1 L1514.5,1380.1 L1516.4,1380.1 L1518.2,1380.1 L1520.1,1380.1 L1521.9,1380.1 L1523.8,1380.1 L1525.7,1380.1 L1527.5,1380.1 L1529.4,1380.1 L1531.3,1380.1 L1533.1,1380.1 L1535,1380.1 L1536.8,1380.1 L1538.7,1380.1 L1540.6,1380.1 L1542.4,1380.1 L1544.3,1380.1 L1546.2,1380.1 L1548,1380.1 L1549.9,1380.1 L1551.7,1380.1 L1553.6,1380.1 L1555.5,1380.1 L1557.3,1380.1 L1559.2,1380.1 L1561,1380.1 L1562.9,1380.1 L1564.8,1380.1 L1566.6,1380.1 L1568.5,1380.1 L1570.4,1380.1 L1572.2,1380.1 L1574.1,1380.1 L1575.9,1380.1 L1577.8,1380.1 L1579.7,1380.1 L1581.5,1380.1 L1583.4,1380.1 L1585.3,1380.1 L1587.1,1380.1 L1589,1380.1 L1590.8,1380.1 L1592.7,1380.1 L1594.6,1380.1 L1596.4,1380.1 L1598.3,1380.1 L1600.2,1380.1 L1602,1380.1 L1603.9,1380.1 L1605.7,1380.1 L1607.6,1380.1 L1609.5,1380.1 L1611.3,1380.1 L1613.2,1380.1 L1615.1,1380.1 L1616.9,1380.1 L1618.8,1380.1 L1620.6,1380.1 L1622.5,1380.1" stroke="#000" stroke-width="5" fill="none"/>
<path d="M879.5,857.8 L881.4,857.8 L883.2,857.8 L885.1,857.8 L886.9,857.9 L888.8,857.9 L890.7,857.9 L892.5,857.9 L894.4,857.9 L896.3,857.9 L898.1,858 L900,858 L901.8,858 L903.7,858 L905.6,858 L907.4,858.1 L909.3,858.1 L911.2,858.1 L913,858.1 L914.9,858.1 L916.7,858.2 L918.6,858.2 L920.5,858.2 L922.3,858.2 L924.2,858.2 L926.1,858.3 L927.9,858.3 L929.8,858.3 L931.6,858.3 L933.5,858.4 L935.4,858.4 L937.2,858.4 L939.1,858.4 L941,858.5 L942.8,858.5 L944.7,858.5 L946.5,858.5 L948.4,858.6 L950.3,858.6 L952.1,858.6 L954,858.6 L955.8,858.7 L957.7,858.7 L959.6,858.7 L961.4,858.7 L963.3,858.8 L965.2,858.8 L967,858.8 L968.9,858.9 L970.7,858.9 L972.6,858.9 L974.5,859 L976.3,859 L978.2,859 L980.1,859.1 L981.9,859.1 L983.8,859.1 L985.6,859.2 L987.5,859.2 L989.4,859.2 L991.2,859.3 L993.1,859.3 L995,859.4 L996.8,859.4 L998.7,859.4 L1000.5,859.5 L1002.4,859.5 L1004.3,859.5 L1006.1,859.6 L1008,859.6 L1009.9,859.7 L1011.7,859.7 L1013.6,859.8 L1015.4,859.8 L1017.3,859.9 L1019.2,859.9 L1021,859.9 L1022.9,860 L1024.7,860 L1026.6,860.1 L1028.5,860.1 L1030.3,860.2 L1032.2,860.2 L1034.1,860.3 L1035.9,860.3 L1037.8,860.4 L1039.6,860.4 L1041.5,860.5 L1043.4,860.6 L1045.2,860.6 L1047.1,860.7 L1049,860.7 L1050.8,860.8 L1052.7,860.8 L1054.5,860.9 L1056.4,861 L1058.3,861 L1060.1,861.1 L1062,861.2 L1063.9,861.2 L1065.7,861.3 L1067.6,861.4 L1069.4,861.4 L1071.3,861.5 L1073.2,861.6 L1075,861.6 L1076.9,861.7 L1078.8,861.8 L1080.6,861.8 L1082.5,861.9 L1084.3,862 L1086.2,862.1 L1088.1,862.2 L1089.9,862.2 L1091.8,862.3 L1093.6,862.4 L1095.5,862.5 L1097.4,862.6 L1099.2,862.6 L1101.1,862.7 L1103,862.8 L1104.8,862.9 L1106.7,863 L1108.5,863.1 L1110.4,863.2 L1112.3,863.3 L1114.1,863.4 L1116,863.5 L1117.9,863.6 L1119.7,863.7 L1121.6,863.8 L1123.4,863.9 L1125.3,864 L1127.2,864.1 L1129,864.2 L1130.9,864.3 L1132.8,864.4 L1134.6,864.5 L1136.5,864.6 L1138.3,864.7 L1140.2,864.8 L1142.1,864.9 L1143.9,865.1 L1145.8,865.2 L1147.7,865.3 L1149.5,865.4 L1151.4,865.6 L1153.2,865.7 L1155.1,865.8 L1157,865.9 L1158.8,866.1 L1160.7,866.2 L1162.5,866.3 L1164.4,866.5 L1166.3,866.6 L1168.1,866.8 L1170,866.9 L1171.9,867 L1173.7,867.2 L1175.6,867.3 L1177.4,867.5 L1179.3,867.6 L1181.2,867.8 L1183,867.9 L1184.9,868.1 L1186.8,868.3 L1188.6,868.4 L1190.5,868.6 L1192.3,868.8 L1194.2,868.9 L1196.1,869.1 L1197.9,869.3 L1199.8,869.4 L1201.7,869.6 L1203.5,869.8 L1205.4,870 L1207.2,870.2 L1209.1,870.3 L1211,870.5 L1212.8,870.7 L1214.7,870.9 L1216.6,871.1 L1218.4,871.3 L1220.3,871.5 L1222.1,871.7 L1224,871.9 L1225.9,872.1 L1227.7,872.3 L1229.6,872.6 L1231.4,872.8 L1233.3,873 L1235.2,873.2 L1237,873.4 L1238.9,873.7 L1240.8,873.9 L1242.6,874.1 L1244.5,874.4 L1246.3,874.6 L1248.2,874.9 L1250.1,875.1 L1251.9,875.4 L1253.8,875.6 L1255.7,875.9 L1257.5,876.1 L1259.4,876.4 L1261.2,876.6 L1263.1,876.9 L1265,877.2 L1266.8,877.5 L1268.7,877.7 L1270.6,878 L1272.4,878.3 L1274.3,878.6 L1276.1,878.9 L1278,879.2 L1279.9,879.5 L1281.7,879.8 L1283.6,880.1 L1285.4,880.4 L1287.3,880.7 L1289.2,881 L1291,881.3 L1292.9,881.7 L1294.8,882 L1296.6,882.3 L1298.5,882.7 L1300.3,883 L1302.2,883.4 L1304.1,883.7 L1305.9,884.1 L1307.8,884.4 L1309.7,884.8 L1311.5,885.2 L1313.4,885.5 L1315.2,885.9 L1317.1,886.3 L1319,886.7 L1320.8,887.1 L1322.7,887.5 L1324.6,887.9 L1326.4,888.3 L1328.3,888.7 L1330.1,889.2 L1332,889.6 L1333.9,890 L1335.7,890.5 L1337.6,890.9 L1339.5,891.4 L1341.3,891.8 L1343.2,892.3 L1345,892.8 L1346.9,893.3 L1348.8,893.8 L1350.6,894.3 L1352.5,894.8 L1354.3,895.3 L1356.2,895.8 L1358.1,896.3 L1359.9,896.9 L1361.8,897.4 L1363.7,898 L1365.5,898.6 L1367.4,899.2 L1369.2,899.7 L1371.1,900.3 L1373,901 L1374.8,901.6 L1376.7,902.2 L1378.6,902.9 L1380.4,903.6 L1382.3,904.2 L1384.1,904.9 L1386,905.6 L1387.9,906.4 L1389.7,907.1 L1391.6,907.9 L1393.5,908.7 L1395.3,909.5 L1397.2,910.3 L1399,911.1 L1400.9,912 L1402.8,912.8 L1404.6,913.7 L1406.5,914.7 L1408.4,915.6 L1410.2,916.6 L1412.1,917.6 L1413.9,918.6 L1415.8,919.7 L1417.7,920.7 L1419.5,921.9 L1421.4,923 L1423.2,924.2 L1425.1,925.4 L1427,926.7 L1428.8,928 L1430.7,929.3 L1432.6,930.7 L1434.4,932.1 L1436.3,933.6 L1438.1,935.1 L1440,936.7 L1441.9,938.3 L1443.7,939.9 L1445.6,941.7 L1447.5,943.5 L1449.3,945.3 L1451.2,947.2 L1453,949.2 L1454.9,951.2 L1456.8,953.3 L1458.6,955.5 L1460.5,957.8 L1462.4,960.2 L1464.2,962.6 L1466.1,965.1 L1467.9,967.7 L1469.8,970.4 L1471.7,973.2 L1473.5,976.1 L1475.4,979.1 L1477.3,982.2 L1479.1,985.4 L1481,988.7 L1482.8,992.2 L1484.7,995.7 L1486.6,999.4 L1488.4,1003.2 L1490.3,1007.2 L1492.1,1011.2 L1494,1015.5 L1495.9,1019.8 L1497.7,1024.3 L1499.6,1028.9 L1501.5,1033.7 L1503.3,1038.7 L1505.2,1043.8 L1507,1049 L1508.9,1054.4 L1510.8,1060 L1512.6,1065.7 L1514.5,1071.6 L1516.4,1077.6 L1518.2,1083.8 L1520.1,1090.2 L1521.9,1096.7 L1523.8,1103.3 L1525.7,1110.1 L1527.5,1117.1 L1529.4,1124.2 L1531.3,1131.4 L1533.1,1138.7 L1535,1146.2 L1536.8,1153.8 L1538.7,1161.4 L1540.6,1169.2 L1542.4,1177 L1544.3,1184.9 L1546.2,1192.9 L1548,1200.9 L1549.9,1208.9 L1551.7,1216.9 L1553.6,1224.8 L1555.5,1232.8 L1557.3,1240.7 L1559.2,1248.5 L1561,1256.2 L1562.9,1263.8 L1564.8,1271.3 L1566.6,1278.6 L1568.5,1285.8 L1570.4,1292.7 L1572.2,1299.5 L1574.1,1306 L1575.9,1312.2 L1577.8,1318.2 L1579.7,1323.9 L1581.5,1329.3 L1583.4,1334.5 L1585.3,1339.3 L1587.1,1343.8 L1589,1347.9 L1590.8,1351.8 L1592.7,1355.4 L1594.6,1358.6 L1596.4,1361.5 L1598.3,1364.2 L1600.2,1366.5 L1602,1368.6 L1603.9,1370.5 L1605.7,1372.1 L1607.6,1373.5 L1609.5,1374.7 L1611.3,1375.7 L1613.2,1376.6 L1615.1,1377.3 L1616.9,1377.9 L1618.8,1378.4 L1620.6,1378.7 L1622.5,1379.1" stroke="#00dc00" stroke-width="5" fill="none"/>
<path d="M879.5,872.4 L881.4,872.5 L883.2,872.6 L885.1,872.6 L886.9,872.7 L888.8,872.8 L890.7,872.9 L892.5,872.9 L894.4,873 L896.3,873.1 L898.1,873.2 L900,873.3 L901.8,873.3 L903.7,873.4 L905.6,873.5 L907.4,873.6 L909.3,873.7 L911.2,873.8 L913,873.8 L914.9,873.9 L916.7,874 L918.6,874.1 L920.5,874.2 L922.3,874.3 L924.2,874.4 L926.1,874.5 L927.9,874.6 L929.8,874.7 L931.6,874.8 L933.5,874.9 L935.4,875 L937.2,875.1 L939.1,875.2 L941,875.3 L942.8,875.5 L944.7,875.6 L946.5,875.7 L948.4,875.8 L950.3,875.9 L952.1,876 L954,876.2 L955.8,876.3 L957.7,876.4 L959.6,876.5 L961.4,876.7 L963.3,876.8 L965.2,876.9 L967,877 L968.9,877.2 L970.7,877.3 L972.6,877.5 L974.5,877.6 L976.3,877.7 L978.2,877.9 L980.1,878 L981.9,878.2 L983.8,878.3 L985.6,878.5 L987.5,878.6 L989.4,878.8 L991.2,879 L993.1,879.1 L995,879.3 L996.8,879.5 L998.7,879.6 L1000.5,879.8 L1002.4,880 L1004.3,880.1 L1006.1,880.3 L1008,880.5 L1009.9,880.7 L1011.7,880.9 L1013.6,881.1 L1015.4,881.2 L1017.3,881.4 L1019.2,881.6 L1021,881.8 L1022.9,882 L1024.7,882.2 L1026.6,882.4 L1028.5,882.7 L1030.3,882.9 L1032.2,883.1 L1034.1,883.3 L1035.9,883.5 L1037.8,883.7 L1039.6,884 L1041.5,884.2 L1043.4,884.4 L1045.2,884.7 L1047.1,884.9 L1049,885.2 L1050.8,885.4 L1052.7,885.7 L1054.5,885.9 L1056.4,886.2 L1058.3,886.4 L1060.1,886.7 L1062,887 L1063.9,887.2 L1065.7,887.5 L1067.6,887.8 L1069.4,888.1 L1071.3,888.3 L1073.2,888.6 L1075,888.9 L1076.9,889.2 L1078.8,889.5 L1080.6,889.8 L1082.5,890.1 L1084.3,890.4 L1086.2,890.8 L1088.1,891.1 L1089.9,891.4 L1091.8,891.7 L1093.6,892.1 L1095.5,892.4 L1097.4,892.7 L1099.2,893.1 L1101.1,893.4 L1103,893.8 L1104.8,894.2 L1106.7,894.5 L1108.5,894.9 L1110.4,895.3 L1112.3,895.6 L1114.1,896 L1116,896.4 L1117.9,896.8 L1119.7,897.2 L1121.6,897.6 L1123.4,898 L1125.3,898.4 L1127.2,898.8 L1129,899.3 L1130.9,899.7 L1132.8,900.1 L1134.6,900.6 L1136.5,901 L1138.3,901.5 L1140.2,901.9 L1142.1,902.4 L1143.9,902.8 L1145.8,903.3 L1147.7,903.8 L1149.5,904.3 L1151.4,904.8 L1153.2,905.3 L1155.1,905.8 L1157,906.3 L1158.8,906.8 L1160.7,907.3 L1162.5,907.8 L1164.4,908.4 L1166.3,908.9 L1168.1,909.4 L1170,910 L1171.9,910.6 L1173.7,911.1 L1175.6,911.7 L1177.4,912.3 L1179.3,912.8 L1181.2,913.4 L1183,914 L1184.9,914.6 L1186.8,915.3 L1188.6,915.9 L1190.5,916.5 L1192.3,917.1 L1194.2,917.8 L1196.1,918.4 L1197.9,919.1 L1199.8,919.7 L1201.7,920.4 L1203.5,921.1 L1205.4,921.7 L1207.2,922.4 L1209.1,923.1 L1211,923.8 L1212.8,924.5 L1214.7,925.3 L1216.6,926 L1218.4,926.7 L1220.3,927.5 L1222.1,928.2 L1224,929 L1225.9,929.8 L1227.7,930.5 L1229.6,931.3 L1231.4,932.1 L1233.3,932.9 L1235.2,933.7 L1237,934.5 L1238.9,935.3 L1240.8,936.2 L1242.6,937 L1244.5,937.9 L1246.3,938.7 L1248.2,939.6 L1250.1,940.5 L1251.9,941.4 L1253.8,942.3 L1255.7,943.2 L1257.5,944.1 L1259.4,945 L1261.2,945.9 L1263.1,946.9 L1265,947.8 L1266.8,948.8 L1268.7,949.7 L1270.6,950.7 L1272.4,951.7 L1274.3,952.7 L1276.1,953.7 L1278,954.7 L1279.9,955.7 L1281.7,956.8 L1283.6,957.8 L1285.4,958.9 L1287.3,960 L1289.2,961 L1291,962.1 L1292.9,963.2 L1294.8,964.3 L1296.6,965.4 L1298.5,966.6 L1300.3,967.7 L1302.2,968.9 L1304.1,970 L1305.9,971.2 L1307.8,972.4 L1309.7,973.6 L1311.5,974.8 L1313.4,976 L1315.2,977.3 L1317.1,978.5 L1319,979.8 L1320.8,981.1 L1322.7,982.4 L1324.6,983.7 L1326.4,985 L1328.3,986.3 L1330.1,987.7 L1332,989 L1333.9,990.4 L1335.7,991.8 L1337.6,993.2 L1339.5,994.6 L1341.3,996.1 L1343.2,997.5 L1345,999 L1346.9,1000.5 L1348.8,1002 L1350.6,1003.6 L1352.5,1005.1 L1354.3,1006.7 L1356.2,1008.3 L1358.1,1009.9 L1359.9,1011.5 L1361.8,1013.2 L1363.7,1014.9 L1365.5,1016.6 L1367.4,1018.3 L1369.2,1020.1 L1371.1,1021.8 L1373,1023.6 L1374.8,1025.5 L1376.7,1027.3 L1378.6,1029.2 L1380.4,1031.2 L1382.3,1033.1 L1384.1,1035.1 L1386,1037.1 L1387.9,1039.2 L1389.7,1041.3 L1391.6,1043.4 L1393.5,1045.6 L1395.3,1047.8 L1397.2,1050 L1399,1052.3 L1400.9,1054.6 L1402.8,1057 L1404.6,1059.4 L1406.5,1061.9 L1408.4,1064.4 L1410.2,1067 L1412.1,1069.6 L1413.9,1072.2 L1415.8,1075 L1417.7,1077.7 L1419.5,1080.6 L1421.4,1083.5 L1423.2,1086.4 L1425.1,1089.4 L1427,1092.5 L1428.8,1095.7 L1430.7,1098.9 L1432.6,1102.2 L1434.4,1105.5 L1436.3,1108.9 L1438.1,1112.4 L1440,1116 L1441.9,1119.6 L1443.7,1123.3 L1445.6,1127.1 L1447.5,1131 L1449.3,1134.9 L1451.2,1138.9 L1453,1143 L1454.9,1147.2 L1456.8,1151.4 L1458.6,1155.7 L1460.5,1160.1 L1462.4,1164.6 L1464.2,1169.1 L1466.1,1173.8 L1467.9,1178.4 L1469.8,1183.2 L1471.7,1188 L1473.5,1192.9 L1475.4,1197.9 L1477.3,1202.9 L1479.1,1207.9 L1481,1213 L1482.8,1218.2 L1484.7,1223.3 L1486.6,1228.6 L1488.4,1233.8 L1490.3,1239.1 L1492.1,1244.3 L1494,1249.6 L1495.9,1254.9 L1497.7,1260.2 L1499.6,1265.4 L1501.5,1270.6 L1503.3,1275.8 L1505.2,1280.9 L1507,1286 L1508.9,1291 L1510.8,1295.9 L1512.6,1300.8 L1514.5,1305.5 L1516.4,1310.1 L1518.2,1314.7 L1520.1,1319.1 L1521.9,1323.3 L1523.8,1327.4 L1525.7,1331.4 L1527.5,1335.2 L1529.4,1338.9 L1531.3,1342.4 L1533.1,1345.7 L1535,1348.8 L1536.8,1351.8 L1538.7,1354.6 L1540.6,1357.2 L1542.4,1359.6 L1544.3,1361.8 L1546.2,1363.9 L1548,1365.8 L1549.9,1367.5 L1551.7,1369.1 L1553.6,1370.5 L1555.5,1371.8 L1557.3,1372.9 L1559.2,1374 L1561,1374.8 L1562.9,1375.6 L1564.8,1376.3 L1566.6,1376.9 L1568.5,1377.4 L1570.4,1377.8 L1572.2,1378.2 L1574.1,1378.5 L1575.9,1378.8 L1577.8,1379 L1579.7,1379.2 L1581.5,1379.3 L1583.4,1379.4 L1585.3,1379.5 L1587.1,1379.6 L1589,1379.7 L1590.8,1379.7 L1592.7,1379.8 L1594.6,1379.8 L1596.4,1379.9 L1598.3,1379.9 L1600.2,1379.9 L1602,1379.9 L1603.9,1379.9 L1605.7,1380 L1607.6,1380 L1609.5,1380 L1611.3,1380 L1613.2,1380 L1615.1,1380 L1616.9,1380 L1618.8,1380 L1620.6,1380 L1622.5,1380.1" stroke="#00dc00" stroke-width="5" fill="none"/>
<path d="M879.5,965.9 L881.4,966.9 L883.2,968 L885.1,969.1 L886.9,970.1 L888.8,971.3 L890.7,972.4 L892.5,973.5 L894.4,974.7 L896.3,975.9 L898.1,977.1 L900,978.3 L901.8,979.5 L903.7,980.8 L905.6,982.1 L907.4,983.3 L909.3,984.7 L911.2,986 L913,987.4 L914.9,988.7 L916.7,990.1 L918.6,991.6 L920.5,993 L922.3,994.5 L924.2,995.9 L926.1,997.5 L927.9,999 L929.8,1000.5 L931.6,1002.1 L933.5,1003.7 L935.4,1005.3 L937.2,1007 L939.1,1008.6 L941,1010.3 L942.8,1012 L944.7,1013.8 L946.5,1015.6 L948.4,1017.3 L950.3,1019.1 L952.1,1021 L954,1022.8 L955.8,1024.7 L957.7,1026.6 L959.6,1028.6 L961.4,1030.5 L963.3,1032.5 L965.2,1034.5 L967,1036.6 L968.9,1038.6 L970.7,1040.7 L972.6,1042.8 L974.5,1045 L976.3,1047.1 L978.2,1049.3 L980.1,1051.6 L981.9,1053.8 L983.8,1056.1 L985.6,1058.4 L987.5,1060.7 L989.4,1063 L991.2,1065.4 L993.1,1067.8 L995,1070.2 L996.8,1072.7 L998.7,1075.1 L1000.5,1077.6 L1002.4,1080.2 L1004.3,1082.7 L1006.1,1085.3 L1008,1087.9 L1009.9,1090.5 L1011.7,1093.2 L1013.6,1095.8 L1015.4,1098.5 L1017.3,1101.3 L1019.2,1104 L1021,1106.8 L1022.9,1109.6 L1024.7,1112.4 L1026.6,1115.2 L1028.5,1118.1 L1030.3,1120.9 L1032.2,1123.8 L1034.1,1126.8 L1035.9,1129.7 L1037.8,1132.6 L1039.6,1135.6 L1041.5,1138.6 L1043.4,1141.6 L1045.2,1144.7 L1047.1,1147.7 L1049,1150.8 L1050.8,1153.9 L1052.7,1157 L1054.5,1160.1 L1056.4,1163.2 L1058.3,1166.3 L1060.1,1169.5 L1062,1172.7 L1063.9,1175.8 L1065.7,1179 L1067.6,1182.2 L1069.4,1185.5 L1071.3,1188.7 L1073.2,1191.9 L1075,1195.1 L1076.9,1198.4 L1078.8,1201.6 L1080.6,1204.9 L1082.5,1208.2 L1084.3,1211.4 L1086.2,1214.7 L1088.1,1218 L1089.9,1221.3 L1091.8,1224.5 L1093.6,1227.8 L1095.5,1231.1 L1097.4,1234.4 L1099.2,1237.6 L1101.1,1240.9 L1103,1244.2 L1104.8,1247.4 L1106.7,1250.7 L1108.5,1253.9 L1110.4,1257.2 L1112.3,1260.4 L1114.1,1263.6 L1116,1266.8 L1117.9,1270 L1119.7,1273.2 L1121.6,1276.4 L1123.4,1279.5 L1125.3,1282.7 L1127.2,1285.8 L1129,1288.9 L1130.9,1292 L1132.8,1295 L1134.6,1298 L1136.5,1301 L1138.3,1304 L1140.2,1306.9 L1142.1,1309.8 L1143.9,1312.7 L1145.8,1315.5 L1147.7,1318.3 L1149.5,1321 L1151.4,1323.7 L1153.2,1326.4 L1155.1,1329 L1157,1331.5 L1158.8,1334 L1160.7,1336.4 L1162.5,1338.8 L1164.4,1341.1 L1166.3,1343.4 L1168.1,1345.6 L1170,1347.7 L1171.9,1349.7 L1173.7,1351.7 L1175.6,1353.5 L1177.4,1355.4 L1179.3,1357.1 L1181.2,1358.7 L1183,1360.3 L1184.9,1361.8 L1186.8,1363.2 L1188.6,1364.6 L1190.5,1365.8 L1192.3,1367 L1194.2,1368.1 L1196.1,1369.1 L1197.9,1370.1 L1199.8,1371 L1201.7,1371.8 L1203.5,1372.5 L1205.4,1373.2 L1207.2,1373.9 L1209.1,1374.5 L1211,1375 L1212.8,1375.5 L1214.7,1375.9 L1216.6,1376.3 L1218.4,1376.7 L1220.3,1377 L1222.1,1377.3 L1224,1377.6 L1225.9,1377.9 L1227.7,1378.1 L1229.6,1378.3 L1231.4,1378.5 L1233.3,1378.7 L1235.2,1378.8 L1237,1379 L1238.9,1379.1 L1240.8,1379.2 L1242.6,1379.3 L1244.5,1379.4 L1246.3,1379.5 L1248.2,1379.5 L1250.1,1379.6 L1251.9,1379.7 L1253.8,1379.7 L1255.7,1379.8 L1257.5,1379.8 L1259.4,1379.8 L1261.2,1379.9 L1263.1,1379.9 L1265,1379.9 L1266.8,1380 L1268.7,1380 L1270.6,1380 L1272.4,1380 L1274.3,1380 L1276.1,1380 L1278,1380 L1279.9,1380.1 L1281.7,1380.1 L1283.6,1380.1 L1285.4,1380.1 L1287.3,1380.1 L1289.2,1380.1 L1291,1380.1 L1292.9,1380.1 L1294.8,1380.1 L1296.6,1380.1 L1298.5,1380.1 L1300.3,1380.1 L1302.2,1380.1 L1304.1,1380.1 L1305.9,1380.1 L1307.8,1380.1 L1309.7,1380.1 L1311.5,1380.1 L1313.4,1380.1 L1315.2,1380.1 L1317.1,1380.1 L1319,1380.1 L1320.8,1380.1 L1322.7,1380.1 L1324.6,1380.1 L1326.4,1380.1 L1328.3,1380.1 L1330.1,1380.1 L1332,1380.1 L1333.9,1380.1 L1335.7,1380.1 L1337.6,1380.1 L1339.5,1380.1 L1341.3,1380.1 L1343.2,1380.1 L1345,1380.1 L1346.9,1380.1 L1348.8,1380.1 L1350.6,1380.1 L1352.5,1380.1 L1354.3,1380.1 L1356.2,1380.1 L1358.1,1380.1 L1359.9,1380.1 L1361.8,1380.1 L1363.7,1380.1 L1365.5,1380.1 L1367.4,1380.1 L1369.2,1380.1 L1371.1,1380.1 L1373,1380.1 L1374.8,1380.1 L1376.7,1380.1 L1378.6,1380.1 L1380.4,1380.1 L1382.3,1380.1 L1384.1,1380.1 L1386,1380.1 L1387.9,1380.1 L1389.7,1380.1 L1391.6,1380.1 L1393.5,1380.1 L1395.3,1380.1 L1397.2,1380.1 L1399,1380.1 L1400.9,1380.1 L1402.8,1380.1 L1404.6,1380.1 L1406.5,1380.1 L1408.4,1380.1 L1410.2,1380.1 L1412.1,1380.1 L1413.9,1380.1 L1415.8,1380.1 L1417.7,1380.1 L1419.5,1380.1 L1421.4,1380.1 L1423.2,1380.1 L1425.1,1380.1 L1427,1380.1 L1428.8,1380.1 L1430.7,1380.1 L1432.6,1380.1 L1434.4,1380.1 L1436.3,1380.1 L1438.1,1380.1 L1440,1380.1 L1441.9,1380.1 L1443.7,1380.1 L1445.6,1380.1 L1447.5,1380.1 L1449.3,1380.1 L1451.2,1380.1 L1453,1380.1 L1454.9,1380.1 L1456.8,1380.1 L1458.6,1380.1 L1460.5,1380.1 L1462.4,1380.1 L1464.2,1380.1 L1466.1,1380.1 L1467.9,1380.1 L1469.8,1380.1 L1471.7,1380.1 L1473.5,1380.1 L1475.4,1380.1 L1477.3,1380.1 L1479.1,1380.1 L1481,1380.1 L1482.8,1380.1 L1484.7,1380.1 L1486.6,1380.1 L1488.4,1380.1 L1490.3,1380.1 L1492.1,1380.1 L1494,1380.1 L1495.9,1380.1 L1497.7,1380.1 L1499.6,1380.1 L1501.5,1380.1 L1503.3,1380.1 L1505.2,1380.1 L1507,1380.1 L1508.9,1380.1 L1510.8,1380.1 L1512.6,1380.1 L1514.5,1380.1 L1516.4,1380.1 L1518.2,1380.1 L1520.1,1380.1 L1521.9,1380.1 L1523.8,1380.1 L1525.7,1380.1 L1527.5,1380.1 L1529.4,1380.1 L1531.3,1380.1 L1533.1,1380.1 L1535,1380.1 L1536.8,1380.1 L1538.7,1380.1 L1540.6,1380.1 L1542.4,1380.1 L1544.3,1380.1 L1546.2,1380.1 L1548,1380.1 L1549.9,1380.1 L1551.7,1380.1 L1553.6,1380.1 L1555.5,1380.1 L1557.3,1380.1 L1559.2,1380.1 L1561,1380.1 L1562.9,1380.1 L1564.8,1380.1 L1566.6,1380.1 L1568.5,1380.1 L1570.4,1380.1 L1572.2,1380.1 L1574.1,1380.1 L1575.9,1380.1 L1577.8,1380.1 L1579.7,1380.1 L1581.5,1380.1 L1583.4,1380.1 L1585.3,1380.1 L1587.1,1380.1 L1589,1380.1 L1590.8,1380.1 L1592.7,1380.1 L1594.6,1380.1 L1596.4,1380.1 L1598.3,1380.1 L1600.2,1380.1 L1602,1380.1 L1603.9,1380.1 L1605.7,1380.1 L1607.6,1380.1 L1609.5,1380.1 L1611.3,1380.1 L1613.2,1380.1 L1615.1,1380.1 L1616.9,1380.1 L1618.8,1380.1 L1620.6,1380.1 L1622.5,1380.1" stroke="#00dc00" stroke-width="5" fill="none"/>
</g>
<path d="M880.2,1469.9 v-6 M880.2,735.4 v6 M927.6,1469.9 v-3.5 M927.6,735.4 v3.5 M955.4,1469.9 v-3.5 M955.4,735.4 v3.5 M975.1,1469.9 v-3.5 M975.1,735.4 v3.5 M990.4,1469.9 v-3.5 M990.4,735.4 v3.5 M1002.8,1469.9 v-3.5 M1002.8,735.4 v3.5 M1013.4,1469.9 v-3.5 M1013.4,735.4 v3.5 M1022.5,1469.9 v-3.5 M1022.5,735.4 v3.5 M1030.6,1469.9 v-3.5 M1030.6,735.4 v3.5 M1037.8,1469.9 v-6 M1037.8,735.4 v6 M1085.2,1469.9 v-3.5 M1085.2,735.4 v3.5 M1113,1469.9 v-3.5 M1113,735.4 v3.5 M1132.7,1469.9 v-3.5 M1132.7,735.4 v3.5 M1148,1469.9 v-3.5 M1148,735.4 v3.5 M1160.4,1469.9 v-3.5 M1160.4,735.4 v3.5 M1171,1469.9 v-3.5 M1171,735.4 v3.5 M1180.1,1469.9 v-3.5 M1180.1,735.4 v3.5 M1188.2,1469.9 v-3.5 M1188.2,735.4 v3.5 M1195.4,1469.9 v-6 M1195.4,735.4 v6 M1242.8,1469.9 v-3.5 M1242.8,735.4 v3.5 M1270.6,1469.9 v-3.5 M1270.6,735.4 v3.5 M1290.3,1469.9 v-3.5 M1290.3,735.4 v3.5 M1305.6,1469.9 v-3.5 M1305.6,735.4 v3.5 M1318,1469.9 v-3.5 M1318,735.4 v3.5 M1328.6,1469.9 v-3.5 M1328.6,735.4 v3.5 M1337.7,1469.9 v-3.5 M1337.7,735.4 v3.5 M1345.8,1469.9 v-3.5 M1345.8,735.4 v3.5 M1353,1469.9 v-6 M1353,735.4 v6 M1400.4,1469.9 v-3.5 M1400.4,735.4 v3.5 M1428.2,1469.9 v-3.5 M1428.2,735.4 v3.5 M1447.9,1469.9 v-3.5 M1447.9,735.4 v3.5 M1463.2,1469.9 v-3.5 M1463.2,735.4 v3.5 M1475.6,1469.9 v-3.5 M1475.6,735.4 v3.5 M1486.2,1469.9 v-3.5 M1486.2,735.4 v3.5 M1495.3,1469.9 v-3.5 M1495.3,735.4 v3.5 M1503.4,1469.9 v-3.5 M1503.4,735.4 v3.5 M1510.6,1469.9 v-6 M1510.6,735.4 v6 M1558,1469.9 v-3.5 M1558,735.4 v3.5 M1585.8,1469.9 v-3.5 M1585.8,735.4 v3.5 M1605.5,1469.9 v-3.5 M1605.5,735.4 v3.5 M881.5,1417.3 h3.5 M1620.5,1417.3 h-3.5 M881.5,1312.2 h6 M1620.5,1312.2 h-6 M881.5,1207.1 h3.5 M1620.5,1207.1 h-3.5 M881.5,1102 h6 M1620.5,1102 h-6 M881.5,996.9 h3.5 M1620.5,996.9 h-3.5 M881.5,891.8 h6 M1620.5,891.8 h-6 M881.5,786.7 h3.5 M1620.5,786.7 h-3.5" stroke="#000" stroke-width="2.4" fill="none"/>
<rect x="881.5" y="735.4" width="739" height="734.5" fill="none" stroke="#000" stroke-width="2.6"/>
<text x="1629" y="900.8" font-size="30" fill="#000" text-anchor="start">1.03</text>
<text x="1629" y="1111" font-size="30" fill="#000" text-anchor="start">1.02</text>
<text x="1629" y="1321.2" font-size="30" fill="#000" text-anchor="start">1.01</text>
<text transform="translate(1724.7,1102.4) rotate(-90)" font-size="39" text-anchor="middle">g<tspan font-size="27" dy="10">2</tspan></text>
<rect x="1406.1" y="757.6" width="192.1" height="83.7" fill="#fff" stroke="#000" stroke-width="2.4"/>
<path d="M1410.7,778.4 H1449.8" stroke="#000" stroke-width="6" stroke-linecap="round"/>
<path d="M1410.7,814.7 H1449.8" stroke="#00dc00" stroke-width="6" stroke-linecap="round"/>
<text x="1457.5" y="788.4" font-size="29.5" fill="#000" text-anchor="start">KWW</text>
<text x="1457.5" y="825.4" font-size="29.5" fill="#000" text-anchor="start">KWW<tspan font-size="21.5" dy="7.7">MULTI</tspan></text>
<rect x="881.5" y="1414.6" width="39.6" height="55.3" fill="#fff" stroke="#000" stroke-width="2.5"/>
<text x="901.3" y="1456.7" font-size="39" font-weight="bold" fill="#000" text-anchor="middle">D</text>
<text x="966.3" y="1111.8" font-size="28" font-weight="bold" fill="#0068a8" text-anchor="middle">B4</text>
<text x="1381.6" y="1110.9" font-size="28" font-weight="bold" fill="#0068a8" text-anchor="middle">B5</text>
<text x="1485.6" y="1110.9" font-size="28" font-weight="bold" fill="#0068a8" text-anchor="middle">B6</text>
<text x="881.2" y="1504.6" font-size="30" text-anchor="middle">10<tspan font-size="19.5" dy="-10.5">-2</tspan></text>
<text x="1038.8" y="1504.6" font-size="30" text-anchor="middle">10<tspan font-size="19.5" dy="-10.5">-1</tspan></text>
<text x="1196.4" y="1504.6" font-size="30" text-anchor="middle">10<tspan font-size="19.5" dy="-10.5">0</tspan></text>
<text x="1354" y="1504.6" font-size="30" text-anchor="middle">10<tspan font-size="19.5" dy="-10.5">1</tspan></text>
<text x="1511.6" y="1504.6" font-size="30" text-anchor="middle">10<tspan font-size="19.5" dy="-10.5">2</tspan></text>
<text x="1251" y="1556.4" font-size="40.3" fill="#000" text-anchor="middle">t (s)</text>
</svg></body></html>
